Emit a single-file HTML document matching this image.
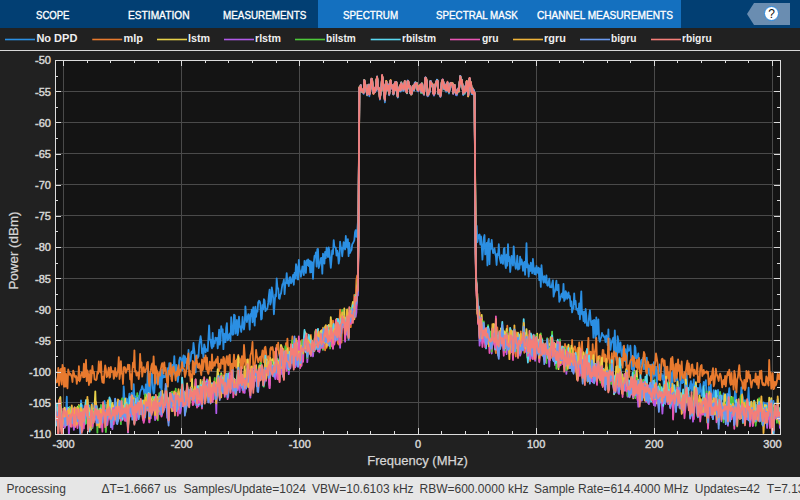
<!DOCTYPE html>
<html><head><meta charset="utf-8"><style>
html,body{margin:0;padding:0;width:800px;height:500px;overflow:hidden;background:#212121;font-family:"Liberation Sans",sans-serif;}
#tb{position:absolute;left:0;top:0;width:800px;height:28px;background:#023F73;}
#act{position:absolute;left:318px;top:0;width:363px;height:28px;background:#1470BF;}
.t{position:absolute;white-space:nowrap;}
#leg{position:absolute;left:0;top:28px;width:800px;height:22px;background:#212121;}
#sep{position:absolute;left:0;top:50px;width:800px;height:1px;background:#d8d8d8;}
.ll{position:absolute;top:10.5px;width:30px;height:2px;}

.yl{position:absolute;left:0;width:51px;text-align:right;color:#d6d6d6;font-size:11px;line-height:11px;-webkit-text-stroke:0.45px #d6d6d6;}
.xl{position:absolute;top:439px;width:60px;text-align:center;color:#d6d6d6;font-size:11px;line-height:11px;-webkit-text-stroke:0.45px #d6d6d6;}
#xt{position:absolute;left:367.3px;top:454px;white-space:nowrap;color:#d6d6d6;font-size:13px;line-height:13px;-webkit-text-stroke:0.25px #d6d6d6;}
#yt{position:absolute;left:-42px;top:243.5px;width:110px;text-align:center;color:#d6d6d6;font-size:13.4px;line-height:13px;transform:rotate(-90deg);-webkit-text-stroke:0.25px #d6d6d6;}
#sb{position:absolute;left:0;top:477px;width:800px;height:23px;background:#e6e6e6;}

svg{position:absolute;left:0;top:0;}
</style></head><body>
<div id="tb"><div id="act"></div><div class="t" style="left:36.03px;top:10.00px;font-size:11px;line-height:11px;font-weight:400;color:#ffffff;transform:scaleX(0.87);transform-origin:0 0;-webkit-text-stroke:0.35px #fff;">SCOPE</div><div class="t" style="left:127.87px;top:10.00px;font-size:11px;line-height:11px;font-weight:400;color:#ffffff;transform:scaleX(0.926);transform-origin:0 0;-webkit-text-stroke:0.35px #fff;">ESTIMATION</div><div class="t" style="left:222.85px;top:10.00px;font-size:11px;line-height:11px;font-weight:400;color:#ffffff;transform:scaleX(0.897);transform-origin:0 0;-webkit-text-stroke:0.35px #fff;">MEASUREMENTS</div><div class="t" style="left:343.31px;top:10.00px;font-size:11px;line-height:11px;font-weight:400;color:#ffffff;transform:scaleX(0.893);transform-origin:0 0;-webkit-text-stroke:0.35px #fff;">SPECTRUM</div><div class="t" style="left:435.61px;top:10.00px;font-size:11px;line-height:11px;font-weight:400;color:#ffffff;transform:scaleX(0.89);transform-origin:0 0;-webkit-text-stroke:0.35px #fff;">SPECTRAL MASK</div><div class="t" style="left:537.08px;top:10.00px;font-size:11px;line-height:11px;font-weight:400;color:#ffffff;transform:scaleX(0.918);transform-origin:0 0;-webkit-text-stroke:0.35px #fff;">CHANNEL MEASUREMENTS</div>
<svg width="800" height="28" style="position:absolute;left:0;top:0"><polygon points="747,14 754,3 790,3 790,25 754,25" fill="#6A8DB1"/><circle cx="771.5" cy="13.5" r="7" fill="#fff" stroke="#2A8AE0" stroke-width="1"/><text x="771.5" y="18" font-family="Liberation Sans" font-size="12" text-anchor="middle" fill="#111">?</text></svg>
</div>
<div id="leg"><svg width="800" height="22" style="position:absolute;left:0;top:0"><line x1="5" y1="11.5" x2="35" y2="11.5" stroke="#2B8FE3" stroke-width="1.6"/></svg><div class="t" style="left:36.40px;top:5.30px;font-size:11px;line-height:11px;font-weight:700;color:#efefef;">No DPD</div><svg width="800" height="22" style="position:absolute;left:0;top:0"><line x1="92.25" y1="11.5" x2="122.25" y2="11.5" stroke="#E87A2E" stroke-width="1.6"/></svg><div class="t" style="left:123.40px;top:5.30px;font-size:11px;line-height:11px;font-weight:700;color:#efefef;">mlp</div><svg width="800" height="22" style="position:absolute;left:0;top:0"><line x1="157" y1="11.5" x2="187" y2="11.5" stroke="#E8D24A" stroke-width="1.6"/></svg><div class="t" style="left:187.92px;top:5.30px;font-size:11px;line-height:11px;font-weight:700;color:#efefef;transform:scaleX(0.979);transform-origin:0 0;">lstm</div><svg width="800" height="22" style="position:absolute;left:0;top:0"><line x1="224" y1="11.5" x2="254" y2="11.5" stroke="#B05AE8" stroke-width="1.6"/></svg><div class="t" style="left:255.23px;top:5.30px;font-size:11px;line-height:11px;font-weight:700;color:#efefef;transform:scaleX(0.968);transform-origin:0 0;">rlstm</div><svg width="800" height="22" style="position:absolute;left:0;top:0"><line x1="295" y1="11.5" x2="325" y2="11.5" stroke="#4EC83A" stroke-width="1.6"/></svg><div class="t" style="left:326.48px;top:5.30px;font-size:11px;line-height:11px;font-weight:700;color:#efefef;transform:scaleX(0.919);transform-origin:0 0;">bilstm</div><svg width="800" height="22" style="position:absolute;left:0;top:0"><line x1="370.7" y1="11.5" x2="400.7" y2="11.5" stroke="#5AD8F0" stroke-width="1.6"/></svg><div class="t" style="left:402.07px;top:5.30px;font-size:11px;line-height:11px;font-weight:700;color:#efefef;transform:scaleX(0.926);transform-origin:0 0;">rbilstm</div><svg width="800" height="22" style="position:absolute;left:0;top:0"><line x1="450" y1="11.5" x2="480" y2="11.5" stroke="#E855B4" stroke-width="1.6"/></svg><div class="t" style="left:482.20px;top:5.30px;font-size:11px;line-height:11px;font-weight:700;color:#efefef;transform:scaleX(0.941);transform-origin:0 0;">gru</div><svg width="800" height="22" style="position:absolute;left:0;top:0"><line x1="513" y1="11.5" x2="543" y2="11.5" stroke="#F0B43A" stroke-width="1.6"/></svg><div class="t" style="left:544.21px;top:5.30px;font-size:11px;line-height:11px;font-weight:700;color:#efefef;transform:scaleX(0.99);transform-origin:0 0;">rgru</div><svg width="800" height="22" style="position:absolute;left:0;top:0"><line x1="580" y1="11.5" x2="610" y2="11.5" stroke="#6A9AF0" stroke-width="1.6"/></svg><div class="t" style="left:611.28px;top:5.30px;font-size:11px;line-height:11px;font-weight:700;color:#efefef;transform:scaleX(0.923);transform-origin:0 0;">bigru</div><svg width="800" height="22" style="position:absolute;left:0;top:0"><line x1="651" y1="11.5" x2="681" y2="11.5" stroke="#F47E78" stroke-width="1.6"/></svg><div class="t" style="left:682.27px;top:5.30px;font-size:11px;line-height:11px;font-weight:700;color:#efefef;transform:scaleX(0.933);transform-origin:0 0;">rbigru</div></div>
<div id="sep"></div>
<svg width="800" height="500" style="top:0">
<rect x="55" y="60" width="725" height="374" fill="#141414"/>
<g stroke="#4a4a4a" stroke-width="1"><line x1="63.5" y1="60" x2="63.5" y2="434"/><line x1="181.5" y1="60" x2="181.5" y2="434"/><line x1="299.5" y1="60" x2="299.5" y2="434"/><line x1="418.5" y1="60" x2="418.5" y2="434"/><line x1="536.5" y1="60" x2="536.5" y2="434"/><line x1="654.5" y1="60" x2="654.5" y2="434"/><line x1="772.5" y1="60" x2="772.5" y2="434"/><line x1="55" y1="91.5" x2="780" y2="91.5"/><line x1="55" y1="122.5" x2="780" y2="122.5"/><line x1="55" y1="153.5" x2="780" y2="153.5"/><line x1="55" y1="184.5" x2="780" y2="184.5"/><line x1="55" y1="215.5" x2="780" y2="215.5"/><line x1="55" y1="247.5" x2="780" y2="247.5"/><line x1="55" y1="278.5" x2="780" y2="278.5"/><line x1="55" y1="309.5" x2="780" y2="309.5"/><line x1="55" y1="340.5" x2="780" y2="340.5"/><line x1="55" y1="371.5" x2="780" y2="371.5"/><line x1="55" y1="402.5" x2="780" y2="402.5"/></g>
<clipPath id="cp"><rect x="56" y="61" width="724" height="373"/></clipPath>
<g clip-path="url(#cp)" fill="none" stroke-width="1.8" stroke-linejoin="round"><path d="M54.0,413.5L54.7,414.0L55.4,420.4L56.1,408.4L56.8,422.0L57.6,423.2L58.3,412.6L59.0,413.1L59.7,413.2L60.4,416.4L61.1,413.7L61.8,418.8L62.5,427.1L63.3,411.6L64.0,421.1L64.7,416.2L65.4,410.4L66.1,412.9L66.8,396.7L67.5,424.4L68.2,421.0L68.9,414.5L69.7,406.8L70.4,416.9L71.1,424.0L71.8,407.0L72.5,419.7L73.2,415.8L73.9,408.3L74.6,417.2L75.3,415.5L76.1,409.2L76.8,413.4L77.5,411.9L78.2,420.0L78.9,414.7L79.6,421.3L80.3,423.1L81.0,400.4L81.8,407.3L82.5,405.5L83.2,417.8L83.9,411.9L84.6,414.3L85.3,422.7L86.0,410.0L86.7,416.3L87.4,413.4L88.2,421.7L88.9,405.3L89.6,405.9L90.3,410.0L91.0,418.1L91.7,416.2L92.4,404.0L93.1,413.6L93.9,410.2L94.6,410.1L95.3,417.1L96.0,402.5L96.7,423.9L97.4,409.9L98.1,411.9L98.8,421.8L99.5,409.4L100.3,408.5L101.0,411.8L101.7,418.5L102.4,410.4L103.1,405.1L103.8,410.3L104.5,400.9L105.2,405.8L105.9,407.1L106.7,405.0L107.4,418.2L108.1,417.0L108.8,409.2L109.5,406.6L110.2,399.0L110.9,401.1L111.6,406.7L112.4,407.1L113.1,410.6L113.8,410.7L114.5,409.7L115.2,399.0L115.9,406.7L116.6,405.8L117.3,402.4L118.0,406.5L118.8,405.2L119.5,418.0L120.2,401.6L120.9,404.5L121.6,400.4L122.3,400.1L123.0,413.0L123.7,386.3L124.5,400.2L125.2,402.8L125.9,414.5L126.6,398.5L127.3,399.3L128.0,405.1L128.7,399.4L129.4,393.6L130.1,404.2L130.9,408.1L131.6,393.0L132.3,398.4L133.0,400.3L133.7,384.2L134.4,396.1L135.1,398.9L135.8,396.5L136.5,399.5L137.3,395.4L138.0,395.9L138.7,399.7L139.4,396.7L140.1,391.9L140.8,390.2L141.5,388.8L142.2,386.0L143.0,389.1L143.7,389.5L144.4,394.3L145.1,393.1L145.8,384.3L146.5,402.1L147.2,386.2L147.9,368.7L148.6,398.2L149.4,379.0L150.1,396.9L150.8,382.9L151.5,373.4L152.2,374.2L152.9,389.0L153.6,393.6L154.3,392.7L155.1,379.1L155.8,383.7L156.5,380.6L157.2,376.0L157.9,375.2L158.6,374.5L159.3,378.4L160.0,387.6L160.7,369.5L161.5,393.7L162.2,369.1L162.9,377.8L163.6,375.9L164.3,377.1L165.0,377.0L165.7,373.5L166.4,376.0L167.1,379.9L167.9,368.1L168.6,374.8L169.3,363.1L170.0,372.9L170.7,376.0L171.4,367.4L172.1,364.8L172.8,374.9L173.6,368.9L174.3,356.1L175.0,371.3L175.7,371.4L176.4,364.8L177.1,373.6L177.8,381.8L178.5,375.9L179.2,360.7L180.0,357.4L180.7,358.2L181.4,359.9L182.1,370.3L182.8,359.0L183.5,355.4L184.2,366.8L184.9,356.1L185.7,362.8L186.4,358.7L187.1,358.5L187.8,368.8L188.5,349.9L189.2,364.2L189.9,359.8L190.6,360.8L191.3,352.3L192.1,351.2L192.8,353.2L193.5,342.8L194.2,349.6L194.9,356.2L195.6,372.4L196.3,356.4L197.0,355.2L197.7,358.2L198.5,356.4L199.2,344.8L199.9,340.5L200.6,336.1L201.3,341.2L202.0,353.3L202.7,348.6L203.4,357.5L204.2,344.3L204.9,346.7L205.6,352.4L206.3,349.1L207.0,350.1L207.7,351.1L208.4,338.4L209.1,325.5L209.8,339.6L210.6,339.7L211.3,346.0L212.0,348.3L212.7,332.9L213.4,346.6L214.1,341.0L214.8,343.4L215.5,337.7L216.3,340.4L217.0,337.9L217.7,348.4L218.4,340.8L219.1,329.7L219.8,344.6L220.5,340.9L221.2,326.2L221.9,330.8L222.7,329.4L223.4,349.1L224.1,333.7L224.8,341.8L225.5,342.1L226.2,327.6L226.9,323.2L227.6,340.3L228.3,339.3L229.1,334.7L229.8,333.5L230.5,341.0L231.2,317.2L231.9,326.3L232.6,334.8L233.3,334.4L234.0,314.7L234.8,315.5L235.5,333.6L236.2,327.0L236.9,320.0L237.6,335.2L238.3,331.4L239.0,316.7L239.7,326.9L240.4,326.1L241.2,332.0L241.9,326.7L242.6,317.0L243.3,326.7L244.0,329.5L244.7,323.5L245.4,306.4L246.1,316.7L246.9,322.1L247.6,317.0L248.3,314.1L249.0,317.9L249.7,329.6L250.4,314.2L251.1,315.8L251.8,309.6L252.5,322.3L253.3,307.1L254.0,317.1L254.7,325.7L255.4,306.6L256.1,316.9L256.8,310.3L257.5,311.8L258.2,302.4L259.0,300.8L259.7,301.4L260.4,304.3L261.1,319.5L261.8,318.7L262.5,305.2L263.2,309.5L263.9,299.2L264.6,300.5L265.4,311.1L266.1,309.2L266.8,309.6L267.5,307.9L268.2,302.9L268.9,295.3L269.6,289.6L270.3,304.5L271.0,301.9L271.8,287.3L272.5,292.0L273.2,298.0L273.9,314.3L274.6,303.8L275.3,294.5L276.0,296.5L276.7,278.3L277.5,288.3L278.2,288.2L278.9,298.3L279.6,298.9L280.3,294.8L281.0,293.5L281.7,288.8L282.4,284.4L283.1,283.6L283.9,279.7L284.6,294.1L285.3,284.5L286.0,282.4L286.7,273.1L287.4,283.3L288.1,280.3L288.8,286.1L289.6,277.5L290.3,277.2L291.0,283.4L291.7,282.1L292.4,279.1L293.1,274.8L293.8,284.8L294.5,273.0L295.2,278.6L296.0,264.2L296.7,266.5L297.4,279.1L298.1,279.6L298.8,259.8L299.5,269.3L300.2,271.5L300.9,276.8L301.6,272.9L302.4,266.4L303.1,267.7L303.8,275.1L304.5,260.9L305.2,266.1L305.9,273.0L306.6,260.5L307.3,265.2L308.1,259.3L308.8,266.1L309.5,260.6L310.2,272.5L310.9,261.4L311.6,272.2L312.3,262.4L313.0,278.8L313.7,263.6L314.5,255.8L315.2,256.6L315.9,252.4L316.6,266.5L317.3,249.3L318.0,248.9L318.7,268.0L319.4,265.8L320.2,262.5L320.9,258.0L321.6,257.8L322.3,273.6L323.0,253.6L323.7,258.3L324.4,263.7L325.1,251.8L325.8,258.1L326.6,247.7L327.3,252.1L328.0,257.2L328.7,247.4L329.4,250.9L330.1,260.2L330.8,267.8L331.5,259.7L332.2,250.4L333.0,254.0L333.7,240.1L334.4,247.2L335.1,247.3L335.8,247.5L336.5,255.6L337.2,250.6L337.9,253.7L338.7,263.7L339.4,259.1L340.1,241.7L340.8,247.5L341.5,247.7L342.2,256.3L342.9,250.2L343.6,242.2L344.3,246.4L345.1,249.5L345.8,236.0L346.5,245.3L347.2,247.5L347.9,239.2L348.6,256.2L349.3,243.0L350.0,253.0L350.8,251.1L351.5,250.1L352.2,244.4L352.9,243.2L353.6,241.9L354.3,240.4L355.0,232.3L355.7,230.1L356.4,236.8L357.2,232.1L357.9,222.0L358.6,206.4L359.3,90.2L360.0,92.5L360.7,86.8L361.4,90.4L362.1,92.2L362.8,92.4L363.6,93.9L364.3,82.2L365.0,82.9L365.7,89.2L366.4,90.3L367.1,95.5L367.8,90.1L368.5,86.5L369.3,96.3L370.0,92.6L370.7,85.4L371.4,80.3L372.1,81.0L372.8,91.4L373.5,92.9L374.2,90.3L374.9,92.2L375.7,91.3L376.4,82.3L377.1,78.9L377.8,86.3L378.5,90.5L379.2,90.0L379.9,99.6L380.6,93.9L381.4,91.1L382.1,76.5L382.8,81.4L383.5,87.5L384.2,92.8L384.9,102.4L385.6,87.7L386.3,81.9L387.0,90.6L387.8,86.6L388.5,86.6L389.2,95.3L389.9,85.5L390.6,82.9L391.3,87.0L392.0,88.7L392.7,87.2L393.4,94.6L394.2,88.5L394.9,83.8L395.6,90.4L396.3,82.9L397.0,90.9L397.7,97.6L398.4,91.1L399.1,91.0L399.9,86.5L400.6,91.7L401.3,83.3L402.0,89.6L402.7,87.4L403.4,91.0L404.1,89.5L404.8,82.8L405.5,87.0L406.3,91.6L407.0,93.4L407.7,83.2L408.4,83.8L409.1,88.6L409.8,87.6L410.5,93.3L411.2,94.2L412.0,93.9L412.7,88.2L413.4,87.4L414.1,90.6L414.8,84.8L415.5,84.6L416.2,86.7L416.9,84.8L417.6,91.3L418.4,91.0L419.1,87.0L419.8,88.9L420.5,86.5L421.2,93.2L421.9,84.4L422.6,92.3L423.3,93.7L424.0,94.8L424.8,85.9L425.5,78.4L426.2,79.7L426.9,85.0L427.6,96.3L428.3,95.8L429.0,94.4L429.7,92.0L430.5,82.5L431.2,84.2L431.9,85.6L432.6,85.8L433.3,93.6L434.0,95.7L434.7,93.7L435.4,86.1L436.1,84.3L436.9,82.4L437.6,81.8L438.3,94.3L439.0,92.7L439.7,91.9L440.4,97.2L441.1,93.3L441.8,83.8L442.6,81.2L443.3,83.4L444.0,89.4L444.7,89.1L445.4,85.9L446.1,91.9L446.8,88.6L447.5,83.8L448.2,91.0L449.0,93.5L449.7,88.6L450.4,85.6L451.1,84.8L451.8,84.0L452.5,86.1L453.2,93.9L453.9,91.0L454.6,86.4L455.4,91.5L456.1,95.2L456.8,95.4L457.5,92.9L458.2,89.8L458.9,91.9L459.6,84.2L460.3,77.7L461.1,84.0L461.8,81.9L462.5,87.3L463.2,95.1L463.9,93.2L464.6,94.1L465.3,89.2L466.0,91.8L466.7,82.2L467.5,84.5L468.2,96.2L468.9,83.5L469.6,79.7L470.3,88.1L471.0,84.2L471.7,94.1L472.4,90.2L473.2,94.5L473.9,92.8L474.6,94.3L475.3,203.8L476.0,228.9L476.7,225.9L477.4,242.0L478.1,238.4L478.8,235.0L479.6,234.5L480.3,244.5L481.0,236.4L481.7,245.7L482.4,259.6L483.1,249.5L483.8,237.7L484.5,235.0L485.2,254.4L486.0,252.5L486.7,243.0L487.4,265.4L488.1,241.7L488.8,238.8L489.5,264.2L490.2,243.7L490.9,248.9L491.7,239.9L492.4,248.6L493.1,253.2L493.8,250.8L494.5,248.4L495.2,253.5L495.9,256.3L496.6,265.0L497.3,253.6L498.1,255.1L498.8,244.2L499.5,256.8L500.2,260.0L500.9,263.0L501.6,255.1L502.3,261.5L503.0,263.9L503.8,249.0L504.5,248.0L505.2,264.3L505.9,268.1L506.6,254.7L507.3,265.7L508.0,244.2L508.7,261.0L509.4,257.0L510.2,272.0L510.9,264.7L511.6,255.9L512.3,260.7L513.0,265.5L513.7,246.3L514.4,256.6L515.1,265.0L515.8,268.8L516.6,265.4L517.3,255.7L518.0,269.6L518.7,264.5L519.4,268.8L520.1,256.7L520.8,264.6L521.5,259.4L522.3,262.9L523.0,270.9L523.7,263.1L524.4,261.9L525.1,274.8L525.8,261.6L526.5,243.2L527.2,267.4L527.9,264.2L528.7,276.6L529.4,265.6L530.1,271.2L530.8,262.7L531.5,266.0L532.2,273.3L532.9,258.9L533.6,267.8L534.4,274.1L535.1,268.2L535.8,274.6L536.5,266.0L537.2,270.7L537.9,272.9L538.6,267.7L539.3,280.2L540.0,268.6L540.8,286.9L541.5,265.2L542.2,274.5L542.9,279.4L543.6,282.6L544.3,276.1L545.0,281.2L545.7,282.7L546.4,275.3L547.2,285.3L547.9,285.8L548.6,282.7L549.3,278.7L550.0,287.3L550.7,286.8L551.4,287.4L552.1,283.8L552.9,280.3L553.6,296.6L554.3,292.9L555.0,291.3L555.7,286.2L556.4,280.6L557.1,290.4L557.8,289.0L558.5,284.7L559.3,301.8L560.0,299.9L560.7,297.2L561.4,294.1L562.1,293.5L562.8,297.6L563.5,283.9L564.2,300.9L565.0,299.1L565.7,291.2L566.4,293.1L567.1,298.8L567.8,296.1L568.5,292.4L569.2,298.0L569.9,296.2L570.6,306.0L571.4,301.4L572.1,312.4L572.8,308.7L573.5,308.6L574.2,293.4L574.9,304.2L575.6,301.0L576.3,309.8L577.0,308.5L577.8,310.0L578.5,314.2L579.2,303.4L579.9,319.3L580.6,303.4L581.3,291.4L582.0,314.4L582.7,311.3L583.5,321.2L584.2,312.0L584.9,322.9L585.6,309.0L586.3,315.4L587.0,325.7L587.7,323.3L588.4,325.8L589.1,316.0L589.9,310.1L590.6,319.3L591.3,325.2L592.0,325.1L592.7,320.7L593.4,337.7L594.1,319.9L594.8,320.6L595.6,338.5L596.3,317.3L597.0,334.7L597.7,326.4L598.4,319.3L599.1,338.6L599.8,341.7L600.5,338.7L601.2,337.4L602.0,332.9L602.7,335.7L603.4,335.3L604.1,337.3L604.8,336.8L605.5,342.2L606.2,335.4L606.9,338.5L607.7,345.3L608.4,329.3L609.1,349.7L609.8,338.9L610.5,349.9L611.2,343.7L611.9,341.9L612.6,339.5L613.3,337.7L614.1,353.1L614.8,330.4L615.5,347.4L616.2,358.9L616.9,361.5L617.6,336.2L618.3,339.7L619.0,352.5L619.7,346.6L620.5,342.5L621.2,352.1L621.9,356.4L622.6,352.2L623.3,346.4L624.0,352.9L624.7,361.0L625.4,349.2L626.2,365.6L626.9,359.7L627.6,345.2L628.3,350.9L629.0,350.3L629.7,350.5L630.4,345.7L631.1,355.8L631.8,369.0L632.6,356.5L633.3,378.1L634.0,371.5L634.7,345.7L635.4,347.6L636.1,358.3L636.8,358.0L637.5,356.8L638.3,353.4L639.0,367.4L639.7,368.2L640.4,365.8L641.1,360.5L641.8,359.6L642.5,364.5L643.2,357.7L643.9,369.2L644.7,365.0L645.4,369.3L646.1,371.3L646.8,357.7L647.5,368.8L648.2,373.5L648.9,368.2L649.6,375.5L650.3,365.7L651.1,364.6L651.8,365.2L652.5,379.2L653.2,374.5L653.9,362.1L654.6,375.8L655.3,367.5L656.0,366.6L656.8,385.1L657.5,370.1L658.2,371.8L658.9,370.2L659.6,364.5L660.3,373.2L661.0,375.6L661.7,373.8L662.4,379.5L663.2,375.6L663.9,390.2L664.6,366.1L665.3,378.1L666.0,372.0L666.7,373.6L667.4,375.1L668.1,374.8L668.9,378.5L669.6,390.1L670.3,383.8L671.0,372.4L671.7,387.2L672.4,387.6L673.1,366.5L673.8,371.1L674.5,370.4L675.3,381.2L676.0,378.8L676.7,376.9L677.4,379.1L678.1,383.6L678.8,392.8L679.5,388.5L680.2,392.1L680.9,372.0L681.7,382.9L682.4,383.1L683.1,380.0L683.8,382.1L684.5,379.7L685.2,388.7L685.9,393.3L686.6,373.3L687.4,388.3L688.1,388.4L688.8,390.3L689.5,388.9L690.2,384.4L690.9,381.1L691.6,392.2L692.3,384.3L693.0,389.7L693.8,379.4L694.5,394.6L695.2,386.5L695.9,383.1L696.6,397.2L697.3,388.1L698.0,388.0L698.7,394.1L699.5,391.5L700.2,384.0L700.9,389.3L701.6,395.9L702.3,394.0L703.0,388.1L703.7,381.8L704.4,385.3L705.1,384.1L705.9,380.2L706.6,402.0L707.3,403.3L708.0,406.7L708.7,387.0L709.4,405.5L710.1,390.4L710.8,384.5L711.5,399.9L712.3,397.2L713.0,395.1L713.7,390.1L714.4,405.6L715.1,394.3L715.8,390.8L716.5,395.7L717.2,395.9L718.0,389.8L718.7,396.5L719.4,400.5L720.1,402.0L720.8,395.8L721.5,401.4L722.2,396.1L722.9,398.9L723.6,393.5L724.4,406.4L725.1,402.9L725.8,400.8L726.5,399.4L727.2,393.9L727.9,398.6L728.6,394.4L729.3,388.1L730.1,396.4L730.8,411.1L731.5,414.0L732.2,399.4L732.9,405.0L733.6,400.6L734.3,401.0L735.0,391.1L735.7,393.1L736.5,409.6L737.2,402.9L737.9,407.8L738.6,414.6L739.3,402.2L740.0,405.0L740.7,400.4L741.4,387.4L742.1,394.3L742.9,397.5L743.6,409.5L744.3,415.4L745.0,400.2L745.7,408.9L746.4,406.6L747.1,408.4L747.8,402.9L748.6,387.7L749.3,405.4L750.0,405.9L750.7,402.3L751.4,401.9L752.1,412.1L752.8,416.0L753.5,406.7L754.2,403.2L755.0,407.0L755.7,409.0L756.4,408.4L757.1,404.6L757.8,404.2L758.5,414.3L759.2,407.9L759.9,401.3L760.7,405.8L761.4,414.4L762.1,408.6L762.8,406.0L763.5,402.3L764.2,417.0L764.9,403.2L765.6,409.9L766.3,406.4L767.1,403.2L767.8,413.3L768.5,413.4L769.2,409.7L769.9,404.0L770.6,412.8L771.3,419.0L772.0,413.7L772.7,405.6L773.5,401.0L774.2,412.2L774.9,411.7L775.6,411.1L776.3,411.6L777.0,417.0L777.7,413.2L778.4,407.7L779.2,407.9L779.9,409.5L780.6,416.6L781.3,414.6L782.0,415.8" stroke="#2B8FE3"/><path d="M54.0,385.5L54.7,372.1L55.4,378.4L56.1,382.0L56.8,382.3L57.6,380.3L58.3,367.9L59.0,385.5L59.7,381.2L60.4,369.8L61.1,368.7L61.8,384.5L62.5,364.9L63.3,369.5L64.0,386.7L64.7,367.8L65.4,386.5L66.1,373.8L66.8,385.8L67.5,388.3L68.2,369.5L68.9,372.1L69.7,374.8L70.4,373.8L71.1,375.1L71.8,377.2L72.5,382.0L73.2,370.6L73.9,372.9L74.6,375.8L75.3,377.4L76.1,376.0L76.8,383.9L77.5,377.5L78.2,380.1L78.9,366.2L79.6,381.3L80.3,379.2L81.0,375.7L81.8,372.4L82.5,374.4L83.2,377.4L83.9,363.6L84.6,377.0L85.3,374.3L86.0,359.8L86.7,381.2L87.4,370.3L88.2,374.1L88.9,385.0L89.6,380.3L90.3,370.4L91.0,382.7L91.7,374.5L92.4,366.0L93.1,373.2L93.9,371.7L94.6,379.3L95.3,379.5L96.0,380.2L96.7,379.1L97.4,371.9L98.1,373.6L98.8,361.5L99.5,370.2L100.3,372.3L101.0,361.3L101.7,377.4L102.4,382.5L103.1,376.7L103.8,383.0L104.5,372.2L105.2,365.3L105.9,369.0L106.7,377.1L107.4,376.0L108.1,371.3L108.8,367.7L109.5,377.6L110.2,376.8L110.9,367.0L111.6,372.1L112.4,371.5L113.1,371.0L113.8,378.9L114.5,376.0L115.2,367.8L115.9,375.0L116.6,376.5L117.3,372.9L118.0,370.5L118.8,357.1L119.5,379.0L120.2,373.1L120.9,361.2L121.6,373.6L122.3,373.4L123.0,384.0L123.7,367.4L124.5,367.0L125.2,368.1L125.9,372.9L126.6,369.3L127.3,369.7L128.0,364.6L128.7,369.4L129.4,365.0L130.1,379.3L130.9,374.5L131.6,389.3L132.3,370.8L133.0,362.6L133.7,367.2L134.4,350.4L135.1,371.7L135.8,370.8L136.5,375.7L137.3,373.6L138.0,372.6L138.7,379.1L139.4,373.4L140.1,353.9L140.8,367.4L141.5,362.4L142.2,376.6L143.0,370.4L143.7,367.2L144.4,371.8L145.1,372.3L145.8,370.0L146.5,367.5L147.2,362.7L147.9,361.9L148.6,379.2L149.4,386.0L150.1,373.9L150.8,370.4L151.5,365.6L152.2,363.5L152.9,373.3L153.6,356.4L154.3,369.6L155.1,383.4L155.8,366.1L156.5,369.3L157.2,371.0L157.9,384.5L158.6,376.2L159.3,372.4L160.0,375.7L160.7,369.6L161.5,365.3L162.2,363.1L162.9,365.8L163.6,373.6L164.3,362.3L165.0,370.7L165.7,367.8L166.4,375.5L167.1,382.9L167.9,386.6L168.6,370.7L169.3,374.2L170.0,369.2L170.7,363.2L171.4,378.9L172.1,381.2L172.8,368.0L173.6,366.5L174.3,371.7L175.0,374.0L175.7,380.3L176.4,371.7L177.1,376.0L177.8,368.5L178.5,365.2L179.2,375.2L180.0,370.1L180.7,371.3L181.4,367.3L182.1,362.2L182.8,368.0L183.5,368.3L184.2,369.7L184.9,377.0L185.7,374.1L186.4,369.3L187.1,361.4L187.8,358.4L188.5,353.5L189.2,375.5L189.9,370.7L190.6,381.1L191.3,374.6L192.1,380.0L192.8,360.9L193.5,361.9L194.2,374.4L194.9,365.7L195.6,362.5L196.3,355.8L197.0,362.0L197.7,367.3L198.5,367.9L199.2,363.5L199.9,365.8L200.6,371.3L201.3,375.0L202.0,359.4L202.7,370.2L203.4,366.6L204.2,358.0L204.9,361.7L205.6,355.5L206.3,369.5L207.0,357.7L207.7,372.1L208.4,373.8L209.1,369.5L209.8,361.7L210.6,366.1L211.3,370.6L212.0,354.3L212.7,368.0L213.4,364.6L214.1,362.2L214.8,365.9L215.5,360.8L216.3,359.1L217.0,362.9L217.7,356.7L218.4,367.4L219.1,371.0L219.8,363.6L220.5,368.4L221.2,359.3L221.9,362.0L222.7,363.9L223.4,356.8L224.1,358.5L224.8,381.2L225.5,365.4L226.2,359.1L226.9,356.1L227.6,363.1L228.3,365.3L229.1,355.9L229.8,354.8L230.5,372.9L231.2,369.9L231.9,363.7L232.6,376.4L233.3,363.9L234.0,354.6L234.8,366.0L235.5,361.0L236.2,367.8L236.9,359.4L237.6,358.8L238.3,354.9L239.0,362.3L239.7,358.3L240.4,363.1L241.2,368.3L241.9,356.2L242.6,368.1L243.3,361.6L244.0,345.0L244.7,354.9L245.4,365.7L246.1,359.6L246.9,363.9L247.6,363.0L248.3,372.0L249.0,359.5L249.7,368.2L250.4,355.4L251.1,353.4L251.8,349.8L252.5,342.0L253.3,368.2L254.0,366.4L254.7,364.7L255.4,360.1L256.1,349.9L256.8,356.2L257.5,357.6L258.2,362.2L259.0,359.7L259.7,357.7L260.4,356.6L261.1,364.8L261.8,355.9L262.5,350.3L263.2,352.0L263.9,362.2L264.6,348.2L265.4,346.7L266.1,352.2L266.8,363.8L267.5,365.5L268.2,356.2L268.9,363.8L269.6,364.2L270.3,348.8L271.0,347.3L271.8,349.6L272.5,347.0L273.2,350.9L273.9,365.5L274.6,351.9L275.3,356.6L276.0,353.2L276.7,345.0L277.5,349.7L278.2,342.6L278.9,353.1L279.6,356.1L280.3,356.6L281.0,352.1L281.7,360.8L282.4,349.4L283.1,348.8L283.9,352.1L284.6,364.3L285.3,362.5L286.0,343.1L286.7,352.3L287.4,338.6L288.1,352.0L288.8,347.6L289.6,359.5L290.3,355.7L291.0,351.3L291.7,344.7L292.4,336.5L293.1,343.3L293.8,359.4L294.5,352.0L295.2,353.6L296.0,355.8L296.7,347.4L297.4,340.8L298.1,353.1L298.8,344.7L299.5,343.4L300.2,359.4L300.9,341.5L301.6,340.3L302.4,348.3L303.1,339.9L303.8,347.6L304.5,340.8L305.2,344.4L305.9,352.7L306.6,345.3L307.3,346.3L308.1,348.0L308.8,351.8L309.5,348.3L310.2,349.6L310.9,335.0L311.6,354.3L312.3,342.2L313.0,346.5L313.7,350.6L314.5,338.8L315.2,348.1L315.9,334.9L316.6,344.0L317.3,342.3L318.0,344.8L318.7,340.8L319.4,338.5L320.2,347.5L320.9,342.2L321.6,330.0L322.3,342.3L323.0,327.6L323.7,341.2L324.4,343.4L325.1,350.3L325.8,344.6L326.6,347.9L327.3,338.3L328.0,327.3L328.7,332.8L329.4,337.5L330.1,340.7L330.8,339.6L331.5,346.1L332.2,343.0L333.0,320.6L333.7,330.2L334.4,337.4L335.1,327.6L335.8,324.1L336.5,338.3L337.2,336.0L337.9,343.3L338.7,344.6L339.4,323.3L340.1,309.6L340.8,336.2L341.5,342.7L342.2,321.8L342.9,322.6L343.6,326.5L344.3,319.2L345.1,328.3L345.8,324.3L346.5,319.9L347.2,325.1L347.9,318.3L348.6,320.5L349.3,313.7L350.0,316.1L350.8,327.1L351.5,311.6L352.2,318.9L352.9,313.8L353.6,315.0L354.3,294.9L355.0,299.1L355.7,297.6L356.4,279.9L357.2,275.5L357.9,274.9L358.6,235.5L359.3,87.5L360.0,91.1L360.7,85.6L361.4,89.2L362.1,91.4L362.8,89.9L363.6,92.9L364.3,80.0L365.0,82.6L365.7,88.7L366.4,90.1L367.1,94.3L367.8,88.9L368.5,85.6L369.3,93.3L370.0,90.3L370.7,85.3L371.4,78.4L372.1,80.4L372.8,89.5L373.5,94.2L374.2,87.5L374.9,91.5L375.7,89.7L376.4,80.7L377.1,77.7L377.8,84.6L378.5,89.0L379.2,88.8L379.9,98.3L380.6,92.6L381.4,90.1L382.1,75.6L382.8,80.4L383.5,86.4L384.2,92.1L384.9,99.9L385.6,85.5L386.3,81.5L387.0,90.1L387.8,83.6L388.5,86.6L389.2,93.9L389.9,84.6L390.6,80.1L391.3,85.4L392.0,88.4L392.7,86.4L393.4,93.4L394.2,87.0L394.9,82.5L395.6,89.3L396.3,82.7L397.0,89.3L397.7,96.3L398.4,90.0L399.1,89.9L399.9,86.5L400.6,89.0L401.3,83.5L402.0,87.2L402.7,85.7L403.4,89.1L404.1,87.8L404.8,82.6L405.5,85.8L406.3,90.3L407.0,91.8L407.7,81.0L408.4,82.2L409.1,86.6L409.8,86.9L410.5,93.0L411.2,94.5L412.0,93.0L412.7,86.9L413.4,86.2L414.1,88.3L414.8,83.5L415.5,82.9L416.2,85.9L416.9,83.6L417.6,90.2L418.4,89.1L419.1,86.5L419.8,86.6L420.5,85.2L421.2,92.1L421.9,83.6L422.6,91.1L423.3,91.7L424.0,94.2L424.8,83.9L425.5,78.2L426.2,78.6L426.9,83.6L427.6,94.7L428.3,94.3L429.0,92.5L429.7,91.5L430.5,80.9L431.2,82.9L431.9,84.7L432.6,85.0L433.3,92.7L434.0,94.7L434.7,92.9L435.4,84.6L436.1,82.8L436.9,80.1L437.6,80.4L438.3,92.8L439.0,92.2L439.7,90.1L440.4,95.9L441.1,92.2L441.8,83.8L442.6,79.4L443.3,81.8L444.0,88.0L444.7,88.8L445.4,84.6L446.1,90.0L446.8,87.2L447.5,83.2L448.2,89.9L449.0,91.7L449.7,87.0L450.4,84.3L451.1,83.3L451.8,84.4L452.5,84.1L453.2,91.6L453.9,90.7L454.6,85.4L455.4,90.3L456.1,93.3L456.8,93.5L457.5,92.0L458.2,88.7L458.9,90.1L459.6,83.1L460.3,76.4L461.1,83.4L461.8,80.4L462.5,85.9L463.2,94.3L463.9,92.0L464.6,92.8L465.3,86.7L466.0,90.3L466.7,81.1L467.5,83.8L468.2,95.0L468.9,83.0L469.6,79.1L470.3,86.2L471.0,83.3L471.7,91.4L472.4,89.3L473.2,93.4L473.9,90.9L474.6,94.1L475.3,204.0L476.0,277.6L476.7,296.3L477.4,313.1L478.1,312.0L478.8,312.2L479.6,312.3L480.3,327.4L481.0,327.4L481.7,335.1L482.4,321.7L483.1,324.6L483.8,328.4L484.5,333.6L485.2,336.1L486.0,336.4L486.7,327.9L487.4,337.5L488.1,327.5L488.8,331.7L489.5,342.1L490.2,346.1L490.9,340.7L491.7,334.3L492.4,342.2L493.1,330.0L493.8,325.6L494.5,331.7L495.2,348.8L495.9,353.2L496.6,331.7L497.3,327.3L498.1,339.8L498.8,335.5L499.5,340.7L500.2,344.9L500.9,335.6L501.6,344.8L502.3,335.0L503.0,330.9L503.8,342.1L504.5,331.2L505.2,352.0L505.9,338.0L506.6,342.0L507.3,325.7L508.0,342.1L508.7,348.1L509.4,333.4L510.2,353.5L510.9,341.4L511.6,346.3L512.3,332.7L513.0,341.4L513.7,336.1L514.4,341.6L515.1,351.5L515.8,356.5L516.6,332.4L517.3,341.1L518.0,351.2L518.7,345.8L519.4,338.1L520.1,352.7L520.8,331.3L521.5,346.4L522.3,348.3L523.0,337.9L523.7,344.8L524.4,352.8L525.1,341.0L525.8,340.6L526.5,337.2L527.2,351.8L527.9,352.6L528.7,341.9L529.4,349.7L530.1,361.0L530.8,349.3L531.5,339.8L532.2,347.9L532.9,337.0L533.6,348.1L534.4,348.2L535.1,358.4L535.8,353.6L536.5,348.2L537.2,342.6L537.9,343.7L538.6,339.7L539.3,361.0L540.0,348.5L540.8,349.8L541.5,355.4L542.2,349.8L542.9,353.8L543.6,347.1L544.3,352.5L545.0,347.8L545.7,356.2L546.4,342.7L547.2,346.4L547.9,338.8L548.6,351.5L549.3,354.7L550.0,350.5L550.7,354.6L551.4,357.8L552.1,350.0L552.9,350.3L553.6,354.5L554.3,354.2L555.0,357.0L555.7,351.0L556.4,359.6L557.1,341.0L557.8,350.9L558.5,346.5L559.3,360.9L560.0,351.6L560.7,354.1L561.4,347.3L562.1,347.4L562.8,363.6L563.5,346.7L564.2,361.9L565.0,344.0L565.7,352.9L566.4,359.3L567.1,346.2L567.8,352.1L568.5,358.8L569.2,357.8L569.9,349.9L570.6,362.4L571.4,359.4L572.1,340.0L572.8,355.7L573.5,350.4L574.2,349.1L574.9,346.3L575.6,349.5L576.3,372.0L577.0,358.2L577.8,347.8L578.5,358.7L579.2,342.5L579.9,351.8L580.6,361.2L581.3,350.2L582.0,341.6L582.7,358.1L583.5,352.4L584.2,362.0L584.9,359.6L585.6,354.0L586.3,350.9L587.0,351.0L587.7,350.5L588.4,337.9L589.1,361.8L589.9,367.7L590.6,351.6L591.3,354.0L592.0,364.9L592.7,344.2L593.4,357.9L594.1,363.7L594.8,352.0L595.6,348.2L596.3,337.9L597.0,364.1L597.7,363.0L598.4,356.8L599.1,358.4L599.8,356.0L600.5,360.7L601.2,365.5L602.0,358.2L602.7,350.0L603.4,350.1L604.1,361.5L604.8,354.4L605.5,355.3L606.2,362.6L606.9,362.0L607.7,357.8L608.4,338.3L609.1,355.6L609.8,364.5L610.5,360.4L611.2,362.2L611.9,353.2L612.6,374.2L613.3,366.2L614.1,351.5L614.8,353.4L615.5,356.5L616.2,353.1L616.9,365.5L617.6,357.3L618.3,367.3L619.0,368.3L619.7,357.7L620.5,365.6L621.2,363.1L621.9,358.1L622.6,367.7L623.3,356.1L624.0,345.7L624.7,360.1L625.4,354.0L626.2,356.4L626.9,371.1L627.6,373.2L628.3,365.4L629.0,377.2L629.7,363.9L630.4,360.9L631.1,359.4L631.8,359.7L632.6,355.9L633.3,366.1L634.0,357.4L634.7,363.1L635.4,363.6L636.1,367.0L636.8,359.9L637.5,369.8L638.3,360.5L639.0,357.9L639.7,371.3L640.4,375.1L641.1,373.8L641.8,367.7L642.5,363.9L643.2,359.6L643.9,352.0L644.7,354.4L645.4,365.1L646.1,371.5L646.8,375.2L647.5,361.2L648.2,362.3L648.9,367.0L649.6,365.1L650.3,366.1L651.1,382.7L651.8,367.9L652.5,364.3L653.2,368.0L653.9,374.4L654.6,366.3L655.3,361.7L656.0,353.3L656.8,358.2L657.5,362.9L658.2,369.4L658.9,379.6L659.6,374.9L660.3,380.3L661.0,370.0L661.7,359.4L662.4,358.6L663.2,360.3L663.9,365.9L664.6,360.3L665.3,369.2L666.0,380.5L666.7,366.8L667.4,366.6L668.1,378.7L668.9,372.5L669.6,383.3L670.3,368.8L671.0,358.3L671.7,369.7L672.4,356.9L673.1,364.8L673.8,374.0L674.5,381.5L675.3,364.8L676.0,363.6L676.7,378.0L677.4,370.5L678.1,359.4L678.8,370.6L679.5,365.2L680.2,379.9L680.9,371.9L681.7,361.5L682.4,374.9L683.1,378.2L683.8,377.8L684.5,372.1L685.2,380.7L685.9,371.2L686.6,365.1L687.4,360.7L688.1,374.4L688.8,363.4L689.5,370.5L690.2,377.7L690.9,372.6L691.6,365.0L692.3,364.4L693.0,371.3L693.8,375.8L694.5,369.7L695.2,373.1L695.9,374.0L696.6,372.3L697.3,363.0L698.0,382.2L698.7,376.8L699.5,382.2L700.2,368.8L700.9,365.9L701.6,365.0L702.3,376.0L703.0,374.4L703.7,369.8L704.4,373.5L705.1,372.6L705.9,372.1L706.6,371.3L707.3,373.7L708.0,371.8L708.7,384.9L709.4,378.7L710.1,383.5L710.8,376.1L711.5,380.2L712.3,372.1L713.0,368.2L713.7,386.3L714.4,384.1L715.1,376.4L715.8,368.7L716.5,373.5L717.2,375.9L718.0,378.3L718.7,381.0L719.4,375.5L720.1,373.6L720.8,375.7L721.5,380.5L722.2,387.3L722.9,382.6L723.6,380.0L724.4,384.4L725.1,375.8L725.8,386.3L726.5,379.1L727.2,375.0L727.9,371.9L728.6,375.2L729.3,369.6L730.1,382.4L730.8,384.9L731.5,372.8L732.2,384.0L732.9,380.7L733.6,389.7L734.3,370.9L735.0,374.3L735.7,386.2L736.5,392.3L737.2,379.1L737.9,377.3L738.6,370.7L739.3,365.2L740.0,376.0L740.7,379.7L741.4,380.4L742.1,382.0L742.9,388.8L743.6,385.4L744.3,379.9L745.0,390.1L745.7,387.8L746.4,370.9L747.1,381.7L747.8,372.9L748.6,371.2L749.3,378.5L750.0,375.0L750.7,382.6L751.4,387.6L752.1,382.8L752.8,380.4L753.5,379.8L754.2,379.8L755.0,381.9L755.7,373.5L756.4,382.4L757.1,384.7L757.8,376.4L758.5,388.2L759.2,381.4L759.9,371.1L760.7,378.5L761.4,370.7L762.1,382.5L762.8,384.9L763.5,383.2L764.2,385.4L764.9,385.2L765.6,384.9L766.3,376.4L767.1,378.4L767.8,383.1L768.5,385.6L769.2,360.0L769.9,380.2L770.6,372.7L771.3,388.7L772.0,385.6L772.7,373.2L773.5,389.1L774.2,388.2L774.9,381.6L775.6,385.6L776.3,384.1L777.0,380.5L777.7,374.0L778.4,378.7L779.2,379.2L779.9,372.8L780.6,373.2L781.3,386.8L782.0,397.9" stroke="#E87A2E"/><path d="M54.0,414.2L54.7,415.1L55.4,410.7L56.1,423.6L56.8,414.9L57.6,413.9L58.3,423.2L59.0,416.5L59.7,399.0L60.4,397.0L61.1,410.4L61.8,428.4L62.5,418.4L63.3,420.7L64.0,413.5L64.7,407.7L65.4,411.1L66.1,414.4L66.8,415.5L67.5,419.2L68.2,414.9L68.9,419.6L69.7,413.0L70.4,408.2L71.1,411.0L71.8,415.0L72.5,410.2L73.2,410.6L73.9,417.9L74.6,420.1L75.3,424.1L76.1,408.0L76.8,411.5L77.5,407.0L78.2,407.3L78.9,405.0L79.6,414.2L80.3,425.9L81.0,403.8L81.8,427.2L82.5,421.1L83.2,411.6L83.9,413.6L84.6,408.2L85.3,412.5L86.0,400.4L86.7,415.9L87.4,399.3L88.2,420.3L88.9,408.0L89.6,418.6L90.3,415.6L91.0,429.8L91.7,413.6L92.4,409.6L93.1,416.3L93.9,410.2L94.6,405.2L95.3,391.4L96.0,412.3L96.7,413.1L97.4,416.4L98.1,409.4L98.8,418.0L99.5,427.2L100.3,419.0L101.0,408.5L101.7,409.6L102.4,407.6L103.1,409.2L103.8,410.5L104.5,408.6L105.2,410.1L105.9,414.6L106.7,414.3L107.4,414.8L108.1,412.5L108.8,414.1L109.5,401.6L110.2,400.4L110.9,415.0L111.6,418.6L112.4,402.8L113.1,405.9L113.8,412.7L114.5,409.7L115.2,404.9L115.9,408.5L116.6,413.0L117.3,419.1L118.0,411.2L118.8,405.5L119.5,402.6L120.2,406.3L120.9,411.2L121.6,410.3L122.3,411.9L123.0,409.3L123.7,405.5L124.5,411.3L125.2,398.5L125.9,406.5L126.6,404.4L127.3,415.9L128.0,415.5L128.7,410.5L129.4,408.5L130.1,405.2L130.9,404.0L131.6,397.6L132.3,395.8L133.0,406.8L133.7,409.1L134.4,418.7L135.1,403.8L135.8,404.7L136.5,405.8L137.3,401.2L138.0,401.6L138.7,406.6L139.4,401.2L140.1,402.5L140.8,402.2L141.5,414.2L142.2,405.9L143.0,417.4L143.7,415.2L144.4,405.9L145.1,397.3L145.8,394.3L146.5,398.7L147.2,396.5L147.9,410.5L148.6,393.2L149.4,418.4L150.1,401.0L150.8,408.5L151.5,401.8L152.2,396.9L152.9,400.2L153.6,401.6L154.3,400.2L155.1,408.7L155.8,399.6L156.5,403.7L157.2,415.4L157.9,397.0L158.6,407.2L159.3,395.9L160.0,405.7L160.7,394.8L161.5,398.2L162.2,396.5L162.9,405.1L163.6,403.1L164.3,402.5L165.0,403.1L165.7,388.5L166.4,386.2L167.1,407.4L167.9,397.9L168.6,402.6L169.3,407.0L170.0,393.9L170.7,396.1L171.4,392.1L172.1,411.1L172.8,396.4L173.6,397.8L174.3,392.2L175.0,399.3L175.7,403.5L176.4,401.6L177.1,395.7L177.8,395.1L178.5,391.4L179.2,396.1L180.0,403.5L180.7,392.9L181.4,400.5L182.1,378.2L182.8,394.5L183.5,396.4L184.2,394.6L184.9,404.6L185.7,404.8L186.4,398.0L187.1,383.5L187.8,390.5L188.5,398.2L189.2,406.7L189.9,390.5L190.6,392.5L191.3,393.8L192.1,379.1L192.8,395.0L193.5,392.9L194.2,395.7L194.9,387.5L195.6,379.3L196.3,391.2L197.0,402.2L197.7,389.6L198.5,386.2L199.2,402.9L199.9,396.0L200.6,379.9L201.3,389.0L202.0,402.1L202.7,392.2L203.4,379.6L204.2,379.8L204.9,392.1L205.6,386.3L206.3,387.0L207.0,381.6L207.7,390.4L208.4,391.3L209.1,386.1L209.8,377.1L210.6,387.2L211.3,385.9L212.0,389.3L212.7,386.5L213.4,399.1L214.1,386.3L214.8,382.6L215.5,389.5L216.3,389.9L217.0,378.5L217.7,369.1L218.4,377.0L219.1,394.3L219.8,397.5L220.5,379.5L221.2,373.2L221.9,376.5L222.7,379.5L223.4,388.9L224.1,384.3L224.8,388.3L225.5,383.8L226.2,380.3L226.9,382.9L227.6,380.9L228.3,383.4L229.1,376.4L229.8,375.4L230.5,377.6L231.2,381.8L231.9,385.4L232.6,382.9L233.3,382.4L234.0,379.0L234.8,381.3L235.5,381.3L236.2,381.9L236.9,384.9L237.6,370.7L238.3,356.2L239.0,374.6L239.7,381.0L240.4,380.5L241.2,378.6L241.9,384.1L242.6,384.0L243.3,382.2L244.0,378.9L244.7,366.5L245.4,374.3L246.1,379.5L246.9,375.4L247.6,359.5L248.3,371.4L249.0,382.7L249.7,383.4L250.4,384.5L251.1,377.1L251.8,366.3L252.5,374.6L253.3,386.0L254.0,373.4L254.7,369.7L255.4,368.8L256.1,368.8L256.8,372.8L257.5,373.0L258.2,376.9L259.0,376.1L259.7,370.9L260.4,370.3L261.1,365.4L261.8,368.6L262.5,369.7L263.2,373.6L263.9,378.2L264.6,370.1L265.4,369.9L266.1,369.2L266.8,359.5L267.5,362.0L268.2,364.0L268.9,371.1L269.6,385.0L270.3,368.1L271.0,363.5L271.8,360.1L272.5,359.1L273.2,362.9L273.9,367.7L274.6,362.9L275.3,365.5L276.0,355.5L276.7,372.5L277.5,370.7L278.2,369.8L278.9,367.4L279.6,363.6L280.3,353.2L281.0,344.9L281.7,346.7L282.4,348.9L283.1,367.8L283.9,372.0L284.6,356.2L285.3,358.2L286.0,357.4L286.7,360.2L287.4,348.3L288.1,355.4L288.8,370.4L289.6,357.8L290.3,354.0L291.0,351.3L291.7,346.5L292.4,348.4L293.1,347.4L293.8,356.3L294.5,346.6L295.2,356.2L296.0,347.4L296.7,342.3L297.4,346.6L298.1,353.0L298.8,351.7L299.5,347.3L300.2,359.1L300.9,355.0L301.6,348.7L302.4,343.6L303.1,343.0L303.8,344.2L304.5,340.9L305.2,332.1L305.9,336.0L306.6,342.2L307.3,352.3L308.1,341.2L308.8,341.4L309.5,346.6L310.2,335.9L310.9,340.5L311.6,353.8L312.3,344.1L313.0,344.1L313.7,346.1L314.5,351.0L315.2,332.3L315.9,343.2L316.6,335.4L317.3,329.7L318.0,332.4L318.7,339.4L319.4,336.1L320.2,342.8L320.9,330.8L321.6,330.8L322.3,336.0L323.0,344.3L323.7,328.4L324.4,331.8L325.1,337.8L325.8,341.8L326.6,341.4L327.3,333.2L328.0,328.9L328.7,324.9L329.4,328.3L330.1,334.9L330.8,317.1L331.5,327.0L332.2,341.1L333.0,347.6L333.7,327.1L334.4,334.0L335.1,336.1L335.8,325.4L336.5,318.8L337.2,323.5L337.9,330.9L338.7,324.0L339.4,326.6L340.1,334.2L340.8,320.5L341.5,314.1L342.2,318.9L342.9,322.6L343.6,316.4L344.3,308.5L345.1,326.7L345.8,324.5L346.5,327.9L347.2,309.5L347.9,316.5L348.6,337.9L349.3,315.4L350.0,324.1L350.8,310.2L351.5,317.5L352.2,305.6L352.9,302.0L353.6,308.7L354.3,307.7L355.0,295.8L355.7,295.5L356.4,303.0L357.2,287.8L357.9,278.6L358.6,215.6L359.3,87.1L360.0,91.5L360.7,85.1L361.4,90.4L362.1,89.4L362.8,90.8L363.6,92.4L364.3,80.6L365.0,82.7L365.7,87.7L366.4,89.4L367.1,94.7L367.8,89.5L368.5,85.0L369.3,94.4L370.0,90.3L370.7,85.2L371.4,79.5L372.1,79.0L372.8,90.3L373.5,91.9L374.2,88.9L374.9,91.4L375.7,90.0L376.4,82.0L377.1,77.3L377.8,84.6L378.5,88.4L379.2,88.4L379.9,98.3L380.6,92.1L381.4,90.9L382.1,75.9L382.8,80.1L383.5,86.1L384.2,92.1L384.9,99.9L385.6,86.0L386.3,80.9L387.0,89.6L387.8,84.6L388.5,86.1L389.2,94.4L389.9,85.9L390.6,80.8L391.3,85.4L392.0,88.1L392.7,85.3L393.4,93.2L394.2,86.5L394.9,82.7L395.6,89.6L396.3,82.1L397.0,88.5L397.7,95.6L398.4,90.6L399.1,90.2L399.9,87.2L400.6,90.2L401.3,82.3L402.0,87.4L402.7,84.7L403.4,89.4L404.1,88.7L404.8,82.1L405.5,85.8L406.3,89.7L407.0,92.9L407.7,81.5L408.4,81.8L409.1,87.4L409.8,86.2L410.5,92.7L411.2,94.2L412.0,92.5L412.7,86.3L413.4,85.4L414.1,90.3L414.8,84.4L415.5,83.4L416.2,85.5L416.9,83.5L417.6,88.9L418.4,88.8L419.1,86.2L419.8,87.4L420.5,85.6L421.2,91.4L421.9,84.2L422.6,91.2L423.3,91.8L424.0,93.5L424.8,84.4L425.5,78.6L426.2,79.0L426.9,83.4L427.6,94.6L428.3,94.4L429.0,92.2L429.7,91.0L430.5,81.3L431.2,81.9L431.9,85.8L432.6,84.7L433.3,93.0L434.0,93.9L434.7,92.7L435.4,84.5L436.1,83.0L436.9,80.5L437.6,80.5L438.3,93.7L439.0,93.1L439.7,89.6L440.4,94.7L441.1,91.6L441.8,83.3L442.6,80.4L443.3,81.5L444.0,87.0L444.7,88.7L445.4,85.5L446.1,89.5L446.8,87.7L447.5,83.2L448.2,90.4L449.0,92.2L449.7,87.6L450.4,84.2L451.1,83.3L451.8,83.2L452.5,83.1L453.2,92.1L453.9,90.8L454.6,86.3L455.4,90.0L456.1,93.8L456.8,93.3L457.5,91.5L458.2,88.7L458.9,91.3L459.6,83.0L460.3,75.9L461.1,83.3L461.8,80.2L462.5,85.9L463.2,93.7L463.9,91.7L464.6,92.5L465.3,86.9L466.0,90.0L466.7,81.8L467.5,83.8L468.2,95.6L468.9,82.7L469.6,79.1L470.3,87.1L471.0,83.2L471.7,92.3L472.4,88.0L473.2,93.1L473.9,90.9L474.6,93.9L475.3,210.2L476.0,276.2L476.7,290.4L477.4,294.2L478.1,320.6L478.8,316.4L479.6,332.3L480.3,325.4L481.0,320.6L481.7,314.8L482.4,326.8L483.1,339.5L483.8,325.2L484.5,332.1L485.2,334.6L486.0,333.1L486.7,330.8L487.4,333.3L488.1,327.0L488.8,334.9L489.5,336.9L490.2,332.3L490.9,345.5L491.7,340.3L492.4,335.6L493.1,328.2L493.8,323.8L494.5,325.4L495.2,340.0L495.9,321.6L496.6,342.0L497.3,339.1L498.1,349.8L498.8,345.2L499.5,331.1L500.2,340.7L500.9,328.4L501.6,334.8L502.3,328.6L503.0,339.6L503.8,346.5L504.5,332.0L505.2,340.3L505.9,335.9L506.6,328.8L507.3,336.3L508.0,340.3L508.7,345.2L509.4,339.4L510.2,337.4L510.9,340.8L511.6,330.8L512.3,332.4L513.0,339.2L513.7,346.7L514.4,329.8L515.1,341.8L515.8,337.9L516.6,350.9L517.3,340.0L518.0,332.7L518.7,337.5L519.4,349.6L520.1,337.1L520.8,338.4L521.5,339.7L522.3,338.5L523.0,340.6L523.7,325.8L524.4,338.5L525.1,348.1L525.8,347.4L526.5,329.1L527.2,340.2L527.9,346.3L528.7,350.0L529.4,337.8L530.1,342.4L530.8,336.3L531.5,338.4L532.2,344.1L532.9,340.1L533.6,335.1L534.4,348.0L535.1,358.8L535.8,345.6L536.5,335.8L537.2,333.7L537.9,346.6L538.6,340.2L539.3,344.9L540.0,345.9L540.8,335.4L541.5,343.7L542.2,344.6L542.9,351.5L543.6,343.7L544.3,351.8L545.0,347.5L545.7,349.7L546.4,346.0L547.2,344.6L547.9,347.9L548.6,353.7L549.3,344.1L550.0,346.6L550.7,337.1L551.4,350.7L552.1,344.5L552.9,350.8L553.6,345.6L554.3,358.5L555.0,352.1L555.7,344.0L556.4,347.2L557.1,350.4L557.8,354.7L558.5,369.2L559.3,341.8L560.0,346.9L560.7,350.7L561.4,350.5L562.1,351.5L562.8,354.9L563.5,353.7L564.2,361.9L565.0,357.7L565.7,357.8L566.4,353.7L567.1,356.4L567.8,360.1L568.5,344.6L569.2,356.9L569.9,359.5L570.6,368.0L571.4,345.6L572.1,356.0L572.8,356.6L573.5,359.1L574.2,361.5L574.9,361.6L575.6,361.1L576.3,363.1L577.0,369.4L577.8,359.7L578.5,355.1L579.2,357.8L579.9,364.8L580.6,357.2L581.3,369.3L582.0,367.2L582.7,362.0L583.5,352.5L584.2,359.1L584.9,370.3L585.6,367.5L586.3,362.9L587.0,359.6L587.7,381.5L588.4,362.7L589.1,358.6L589.9,371.0L590.6,367.2L591.3,365.1L592.0,366.6L592.7,363.8L593.4,355.1L594.1,382.3L594.8,365.1L595.6,367.3L596.3,370.1L597.0,377.5L597.7,370.7L598.4,364.3L599.1,368.3L599.8,373.9L600.5,371.8L601.2,364.4L602.0,357.6L602.7,381.3L603.4,374.6L604.1,377.2L604.8,373.2L605.5,368.3L606.2,366.0L606.9,372.2L607.7,380.0L608.4,377.7L609.1,379.1L609.8,369.0L610.5,370.7L611.2,374.6L611.9,368.0L612.6,380.1L613.3,374.5L614.1,394.3L614.8,381.8L615.5,380.3L616.2,366.3L616.9,371.1L617.6,367.0L618.3,380.8L619.0,385.6L619.7,369.5L620.5,374.2L621.2,386.8L621.9,381.2L622.6,374.5L623.3,385.0L624.0,390.7L624.7,378.3L625.4,376.3L626.2,369.1L626.9,373.0L627.6,377.9L628.3,388.2L629.0,383.7L629.7,386.4L630.4,387.6L631.1,381.4L631.8,378.5L632.6,381.3L633.3,398.4L634.0,392.4L634.7,370.7L635.4,390.4L636.1,387.0L636.8,371.0L637.5,383.9L638.3,386.3L639.0,390.6L639.7,390.5L640.4,384.6L641.1,387.0L641.8,385.6L642.5,382.9L643.2,380.3L643.9,392.5L644.7,389.8L645.4,380.6L646.1,388.8L646.8,387.6L647.5,386.2L648.2,393.3L648.9,389.7L649.6,386.4L650.3,382.6L651.1,391.2L651.8,392.0L652.5,386.2L653.2,386.6L653.9,388.4L654.6,382.6L655.3,389.8L656.0,394.1L656.8,403.5L657.5,390.6L658.2,390.4L658.9,392.3L659.6,383.9L660.3,389.5L661.0,388.6L661.7,389.5L662.4,400.2L663.2,388.6L663.9,395.2L664.6,397.3L665.3,395.9L666.0,376.6L666.7,391.0L667.4,399.2L668.1,389.0L668.9,383.0L669.6,395.9L670.3,401.0L671.0,397.7L671.7,387.9L672.4,391.2L673.1,405.4L673.8,392.1L674.5,401.1L675.3,393.2L676.0,395.0L676.7,398.8L677.4,381.6L678.1,393.3L678.8,390.4L679.5,400.2L680.2,398.1L680.9,393.1L681.7,404.6L682.4,400.7L683.1,395.8L683.8,408.9L684.5,402.6L685.2,399.2L685.9,379.3L686.6,394.9L687.4,390.7L688.1,389.4L688.8,403.4L689.5,407.1L690.2,413.1L690.9,400.8L691.6,400.6L692.3,405.9L693.0,417.0L693.8,402.9L694.5,386.9L695.2,388.2L695.9,382.2L696.6,395.2L697.3,410.5L698.0,408.3L698.7,403.4L699.5,395.4L700.2,414.0L700.9,402.9L701.6,403.9L702.3,414.4L703.0,405.1L703.7,397.7L704.4,395.8L705.1,402.0L705.9,395.9L706.6,398.2L707.3,415.4L708.0,407.7L708.7,393.4L709.4,398.3L710.1,397.8L710.8,402.2L711.5,414.8L712.3,409.6L713.0,414.4L713.7,398.5L714.4,403.0L715.1,405.6L715.8,398.6L716.5,395.7L717.2,410.6L718.0,409.3L718.7,414.8L719.4,406.8L720.1,393.0L720.8,400.3L721.5,404.6L722.2,409.0L722.9,403.9L723.6,414.6L724.4,395.7L725.1,394.3L725.8,406.1L726.5,414.3L727.2,410.5L727.9,420.2L728.6,406.2L729.3,405.0L730.1,410.4L730.8,400.2L731.5,396.8L732.2,401.9L732.9,406.0L733.6,408.0L734.3,424.8L735.0,409.5L735.7,408.0L736.5,400.0L737.2,409.5L737.9,409.9L738.6,403.5L739.3,406.9L740.0,406.8L740.7,401.9L741.4,416.2L742.1,399.9L742.9,405.1L743.6,410.8L744.3,423.1L745.0,410.5L745.7,408.2L746.4,402.0L747.1,400.6L747.8,403.0L748.6,405.2L749.3,405.6L750.0,413.7L750.7,417.3L751.4,411.6L752.1,405.5L752.8,404.6L753.5,417.0L754.2,400.9L755.0,406.4L755.7,419.1L756.4,421.9L757.1,418.3L757.8,399.3L758.5,412.4L759.2,400.2L759.9,403.2L760.7,410.3L761.4,403.9L762.1,422.2L762.8,410.2L763.5,416.2L764.2,410.1L764.9,404.8L765.6,410.7L766.3,405.3L767.1,416.8L767.8,417.5L768.5,416.6L769.2,397.7L769.9,410.7L770.6,407.8L771.3,398.2L772.0,421.1L772.7,420.5L773.5,431.5L774.2,404.8L774.9,408.5L775.6,413.0L776.3,409.9L777.0,411.8L777.7,409.7L778.4,407.4L779.2,410.5L779.9,412.1L780.6,408.4L781.3,418.0L782.0,421.7" stroke="#E8D24A"/><path d="M54.0,423.3L54.7,422.0L55.4,413.2L56.1,419.8L56.8,420.4L57.6,419.6L58.3,426.9L59.0,413.6L59.7,422.5L60.4,412.9L61.1,422.2L61.8,427.3L62.5,423.5L63.3,426.0L64.0,418.0L64.7,427.9L65.4,425.0L66.1,418.6L66.8,408.5L67.5,415.6L68.2,417.0L68.9,434.3L69.7,420.0L70.4,424.2L71.1,412.4L71.8,417.2L72.5,416.8L73.2,419.3L73.9,429.9L74.6,419.4L75.3,417.7L76.1,412.9L76.8,422.0L77.5,423.4L78.2,410.4L78.9,421.6L79.6,425.8L80.3,416.3L81.0,411.5L81.8,428.5L82.5,430.6L83.2,423.8L83.9,412.5L84.6,418.4L85.3,411.4L86.0,418.5L86.7,414.1L87.4,408.2L88.2,428.2L88.9,429.7L89.6,417.6L90.3,423.0L91.0,420.5L91.7,411.4L92.4,428.2L93.1,417.7L93.9,413.7L94.6,415.1L95.3,409.3L96.0,420.0L96.7,420.6L97.4,421.3L98.1,422.3L98.8,415.1L99.5,421.6L100.3,414.1L101.0,427.5L101.7,414.1L102.4,423.6L103.1,416.8L103.8,417.3L104.5,408.9L105.2,420.3L105.9,423.7L106.7,415.5L107.4,412.2L108.1,412.9L108.8,412.8L109.5,409.4L110.2,412.1L110.9,427.2L111.6,420.6L112.4,429.1L113.1,415.1L113.8,419.4L114.5,419.0L115.2,413.6L115.9,410.1L116.6,421.0L117.3,419.6L118.0,406.9L118.8,412.5L119.5,409.1L120.2,415.4L120.9,419.1L121.6,405.0L122.3,414.7L123.0,409.8L123.7,415.4L124.5,419.8L125.2,412.0L125.9,415.8L126.6,420.8L127.3,414.8L128.0,420.2L128.7,419.1L129.4,408.7L130.1,408.5L130.9,416.2L131.6,404.0L132.3,416.1L133.0,402.0L133.7,411.9L134.4,418.2L135.1,410.3L135.8,418.2L136.5,416.2L137.3,403.2L138.0,404.1L138.7,413.1L139.4,414.2L140.1,410.9L140.8,414.0L141.5,410.3L142.2,414.7L143.0,420.2L143.7,406.6L144.4,416.7L145.1,413.7L145.8,405.8L146.5,408.5L147.2,407.0L147.9,403.0L148.6,402.9L149.4,422.4L150.1,405.5L150.8,418.4L151.5,404.6L152.2,401.8L152.9,409.9L153.6,403.0L154.3,410.7L155.1,420.2L155.8,408.7L156.5,405.9L157.2,406.9L157.9,410.5L158.6,413.4L159.3,405.6L160.0,414.4L160.7,400.6L161.5,415.6L162.2,396.7L162.9,409.7L163.6,394.5L164.3,401.9L165.0,402.0L165.7,407.3L166.4,399.2L167.1,417.8L167.9,411.4L168.6,422.2L169.3,406.9L170.0,398.0L170.7,396.5L171.4,395.4L172.1,398.8L172.8,402.8L173.6,409.5L174.3,409.6L175.0,407.9L175.7,397.9L176.4,409.1L177.1,400.6L177.8,397.4L178.5,396.6L179.2,408.0L180.0,413.6L180.7,411.2L181.4,406.2L182.1,390.0L182.8,406.0L183.5,395.4L184.2,391.4L184.9,407.6L185.7,408.2L186.4,402.1L187.1,395.8L187.8,405.5L188.5,400.1L189.2,399.5L189.9,396.1L190.6,399.1L191.3,395.1L192.1,399.5L192.8,401.4L193.5,391.8L194.2,397.1L194.9,401.8L195.6,390.7L196.3,402.9L197.0,399.5L197.7,389.1L198.5,406.3L199.2,404.1L199.9,395.6L200.6,388.8L201.3,404.9L202.0,400.7L202.7,394.8L203.4,391.6L204.2,387.0L204.9,401.6L205.6,396.1L206.3,391.7L207.0,379.5L207.7,390.8L208.4,398.9L209.1,390.8L209.8,390.7L210.6,399.4L211.3,400.1L212.0,389.0L212.7,395.3L213.4,393.1L214.1,389.1L214.8,384.7L215.5,390.3L216.3,413.2L217.0,384.5L217.7,383.6L218.4,381.5L219.1,383.4L219.8,393.1L220.5,388.6L221.2,393.9L221.9,393.1L222.7,381.2L223.4,393.2L224.1,387.9L224.8,387.0L225.5,390.3L226.2,388.7L226.9,390.6L227.6,391.1L228.3,390.3L229.1,383.5L229.8,384.0L230.5,393.0L231.2,382.9L231.9,388.1L232.6,385.8L233.3,388.9L234.0,383.2L234.8,386.4L235.5,383.2L236.2,389.9L236.9,383.1L237.6,390.1L238.3,377.3L239.0,376.0L239.7,392.1L240.4,379.1L241.2,377.9L241.9,383.8L242.6,390.7L243.3,384.8L244.0,382.0L244.7,392.9L245.4,380.2L246.1,381.6L246.9,373.3L247.6,370.6L248.3,384.1L249.0,381.3L249.7,391.9L250.4,397.6L251.1,380.6L251.8,375.3L252.5,378.5L253.3,387.1L254.0,375.6L254.7,379.6L255.4,372.8L256.1,365.1L256.8,386.3L257.5,380.3L258.2,391.5L259.0,373.9L259.7,376.6L260.4,377.9L261.1,372.1L261.8,377.5L262.5,379.6L263.2,381.2L263.9,380.6L264.6,374.5L265.4,375.6L266.1,376.7L266.8,361.1L267.5,374.4L268.2,365.9L268.9,379.8L269.6,387.9L270.3,370.9L271.0,364.4L271.8,368.4L272.5,371.9L273.2,371.1L273.9,371.6L274.6,375.6L275.3,379.1L276.0,375.2L276.7,369.4L277.5,364.8L278.2,365.0L278.9,359.8L279.6,373.7L280.3,360.9L281.0,374.3L281.7,361.6L282.4,361.2L283.1,366.4L283.9,374.5L284.6,363.6L285.3,361.8L286.0,354.4L286.7,357.8L287.4,355.5L288.1,362.1L288.8,374.1L289.6,365.5L290.3,368.3L291.0,361.9L291.7,357.2L292.4,346.7L293.1,352.0L293.8,366.2L294.5,348.3L295.2,367.4L296.0,361.6L296.7,347.4L297.4,366.3L298.1,361.3L298.8,338.7L299.5,346.8L300.2,357.2L300.9,358.4L301.6,358.5L302.4,355.1L303.1,347.4L303.8,351.7L304.5,348.3L305.2,344.2L305.9,346.0L306.6,341.6L307.3,362.2L308.1,351.1L308.8,350.0L309.5,341.8L310.2,347.9L310.9,353.5L311.6,350.7L312.3,345.8L313.0,356.4L313.7,348.5L314.5,350.5L315.2,340.7L315.9,345.6L316.6,343.7L317.3,340.4L318.0,341.1L318.7,340.3L319.4,352.4L320.2,340.6L320.9,344.3L321.6,341.5L322.3,341.6L323.0,349.6L323.7,343.8L324.4,343.2L325.1,335.7L325.8,326.1L326.6,342.8L327.3,343.1L328.0,341.2L328.7,338.0L329.4,328.3L330.1,345.1L330.8,335.1L331.5,328.0L332.2,342.1L333.0,345.1L333.7,339.5L334.4,343.2L335.1,339.3L335.8,340.8L336.5,327.0L337.2,330.7L337.9,319.1L338.7,328.7L339.4,334.9L340.1,347.8L340.8,325.4L341.5,320.2L342.2,320.9L342.9,327.3L343.6,327.2L344.3,316.3L345.1,341.6L345.8,325.4L346.5,334.7L347.2,323.8L347.9,323.6L348.6,335.5L349.3,313.3L350.0,319.3L350.8,323.7L351.5,321.7L352.2,312.6L352.9,311.5L353.6,308.0L354.3,315.1L355.0,305.4L355.7,316.8L356.4,312.4L357.2,289.8L357.9,295.5L358.6,219.3L359.3,87.9L360.0,90.9L360.7,84.9L361.4,89.4L362.1,91.1L362.8,90.5L363.6,92.3L364.3,81.6L365.0,82.5L365.7,88.3L366.4,89.3L367.1,94.6L367.8,89.5L368.5,84.8L369.3,94.6L370.0,89.6L370.7,84.8L371.4,79.4L372.1,79.7L372.8,90.4L373.5,92.7L374.2,88.0L374.9,91.0L375.7,89.7L376.4,81.5L377.1,77.3L377.8,84.7L378.5,89.8L379.2,88.9L379.9,97.8L380.6,92.6L381.4,89.5L382.1,75.9L382.8,81.1L383.5,86.8L384.2,91.6L384.9,99.5L385.6,86.1L386.3,81.2L387.0,89.7L387.8,84.2L388.5,85.4L389.2,94.9L389.9,84.7L390.6,80.7L391.3,85.7L392.0,87.6L392.7,85.8L393.4,94.3L394.2,86.8L394.9,82.6L395.6,89.1L396.3,82.4L397.0,89.2L397.7,95.8L398.4,90.0L399.1,89.4L399.9,85.9L400.6,88.9L401.3,83.1L402.0,87.7L402.7,86.4L403.4,90.4L404.1,88.3L404.8,82.4L405.5,85.8L406.3,89.8L407.0,91.9L407.7,81.4L408.4,82.1L409.1,86.9L409.8,86.0L410.5,92.9L411.2,94.5L412.0,92.5L412.7,86.7L413.4,86.1L414.1,89.6L414.8,82.9L415.5,83.1L416.2,85.5L416.9,83.4L417.6,89.7L418.4,89.2L419.1,86.4L419.8,87.1L420.5,85.5L421.2,92.3L421.9,83.9L422.6,91.5L423.3,91.9L424.0,93.5L424.8,83.5L425.5,77.5L426.2,79.5L426.9,83.3L427.6,95.9L428.3,94.1L429.0,92.0L429.7,91.0L430.5,81.0L431.2,82.6L431.9,84.2L432.6,85.4L433.3,92.9L434.0,94.7L434.7,92.1L435.4,84.8L436.1,82.4L436.9,80.2L437.6,81.8L438.3,93.4L439.0,92.5L439.7,90.9L440.4,95.8L441.1,91.8L441.8,82.0L442.6,79.3L443.3,81.6L444.0,88.0L444.7,88.6L445.4,84.8L446.1,89.8L446.8,88.1L447.5,83.0L448.2,90.4L449.0,91.8L449.7,87.3L450.4,83.6L451.1,83.3L451.8,84.1L452.5,83.4L453.2,92.6L453.9,91.0L454.6,85.0L455.4,90.2L456.1,94.8L456.8,93.4L457.5,90.8L458.2,88.5L458.9,90.5L459.6,83.2L460.3,76.3L461.1,83.0L461.8,81.0L462.5,86.4L463.2,93.8L463.9,91.9L464.6,92.0L465.3,86.3L466.0,90.9L466.7,81.6L467.5,83.8L468.2,95.9L468.9,83.5L469.6,78.0L470.3,86.4L471.0,83.0L471.7,92.4L472.4,88.7L473.2,91.9L473.9,91.1L474.6,94.0L475.3,211.2L476.0,279.9L476.7,293.1L477.4,307.5L478.1,314.5L478.8,324.7L479.6,345.6L480.3,337.7L481.0,317.7L481.7,332.4L482.4,343.2L483.1,339.5L483.8,330.8L484.5,341.6L485.2,331.6L486.0,341.3L486.7,336.7L487.4,343.9L488.1,332.1L488.8,329.1L489.5,341.9L490.2,337.2L490.9,341.4L491.7,353.5L492.4,342.3L493.1,343.3L493.8,339.5L494.5,344.8L495.2,336.2L495.9,325.7L496.6,344.2L497.3,345.5L498.1,350.9L498.8,356.6L499.5,332.2L500.2,347.1L500.9,336.7L501.6,345.5L502.3,335.8L503.0,339.3L503.8,340.8L504.5,339.9L505.2,346.0L505.9,338.4L506.6,354.2L507.3,346.6L508.0,346.8L508.7,348.1L509.4,353.4L510.2,333.4L510.9,342.2L511.6,340.7L512.3,345.1L513.0,354.6L513.7,352.4L514.4,331.8L515.1,341.3L515.8,337.5L516.6,349.2L517.3,343.5L518.0,342.7L518.7,346.2L519.4,345.1L520.1,355.7L520.8,353.4L521.5,350.1L522.3,349.7L523.0,343.0L523.7,334.3L524.4,341.2L525.1,345.9L525.8,342.8L526.5,336.7L527.2,349.0L527.9,355.9L528.7,343.5L529.4,349.5L530.1,359.2L530.8,345.5L531.5,337.5L532.2,350.6L532.9,350.6L533.6,350.6L534.4,353.2L535.1,360.8L535.8,357.4L536.5,338.5L537.2,344.1L537.9,345.7L538.6,350.7L539.3,348.1L540.0,350.2L540.8,341.0L541.5,354.0L542.2,343.8L542.9,353.1L543.6,356.9L544.3,358.2L545.0,355.7L545.7,354.2L546.4,357.1L547.2,344.1L547.9,349.3L548.6,354.1L549.3,366.7L550.0,353.5L550.7,345.1L551.4,351.6L552.1,346.8L552.9,359.4L553.6,355.1L554.3,354.9L555.0,365.0L555.7,348.8L556.4,357.2L557.1,362.7L557.8,348.8L558.5,367.1L559.3,354.5L560.0,355.1L560.7,362.5L561.4,355.5L562.1,359.6L562.8,363.8L563.5,356.3L564.2,367.0L565.0,355.8L565.7,361.6L566.4,373.9L567.1,359.1L567.8,363.2L568.5,355.9L569.2,366.9L569.9,363.9L570.6,363.9L571.4,365.9L572.1,362.6L572.8,351.5L573.5,368.6L574.2,366.7L574.9,362.7L575.6,365.1L576.3,362.2L577.0,378.2L577.8,378.9L578.5,365.1L579.2,369.2L579.9,367.7L580.6,364.3L581.3,370.5L582.0,375.0L582.7,370.6L583.5,365.2L584.2,361.4L584.9,367.9L585.6,369.2L586.3,369.7L587.0,364.1L587.7,376.7L588.4,369.1L589.1,371.4L589.9,371.8L590.6,377.0L591.3,381.1L592.0,373.0L592.7,382.3L593.4,370.2L594.1,373.4L594.8,370.8L595.6,375.1L596.3,381.0L597.0,376.8L597.7,377.9L598.4,367.2L599.1,371.4L599.8,379.7L600.5,376.8L601.2,377.1L602.0,369.3L602.7,378.2L603.4,372.5L604.1,385.9L604.8,377.8L605.5,382.9L606.2,384.1L606.9,376.7L607.7,379.6L608.4,389.2L609.1,380.1L609.8,375.5L610.5,377.0L611.2,381.6L611.9,370.8L612.6,383.7L613.3,382.9L614.1,387.4L614.8,386.6L615.5,386.3L616.2,382.3L616.9,376.3L617.6,384.2L618.3,392.9L619.0,393.9L619.7,377.2L620.5,377.9L621.2,380.2L621.9,384.9L622.6,387.6L623.3,387.6L624.0,389.8L624.7,388.3L625.4,376.3L626.2,379.8L626.9,382.6L627.6,396.7L628.3,395.8L629.0,386.5L629.7,393.8L630.4,384.9L631.1,388.3L631.8,388.8L632.6,395.3L633.3,397.5L634.0,378.4L634.7,371.4L635.4,397.6L636.1,389.7L636.8,391.9L637.5,394.8L638.3,406.8L639.0,394.2L639.7,402.5L640.4,381.7L641.1,389.6L641.8,394.2L642.5,392.4L643.2,395.8L643.9,391.5L644.7,387.1L645.4,389.8L646.1,391.9L646.8,384.6L647.5,391.2L648.2,402.6L648.9,404.1L649.6,397.7L650.3,397.3L651.1,395.1L651.8,387.0L652.5,389.2L653.2,392.3L653.9,405.1L654.6,393.7L655.3,405.9L656.0,393.1L656.8,394.4L657.5,389.2L658.2,394.6L658.9,395.7L659.6,391.1L660.3,402.5L661.0,390.9L661.7,401.1L662.4,413.6L663.2,402.6L663.9,396.5L664.6,398.4L665.3,404.0L666.0,386.4L666.7,396.3L667.4,390.6L668.1,397.4L668.9,394.1L669.6,403.8L670.3,408.3L671.0,394.6L671.7,404.3L672.4,395.1L673.1,418.3L673.8,394.6L674.5,393.0L675.3,402.5L676.0,404.3L676.7,404.2L677.4,397.8L678.1,404.9L678.8,400.3L679.5,408.0L680.2,403.3L680.9,398.4L681.7,402.2L682.4,412.8L683.1,393.5L683.8,406.6L684.5,408.8L685.2,411.1L685.9,400.4L686.6,395.5L687.4,390.5L688.1,403.4L688.8,406.0L689.5,402.9L690.2,418.7L690.9,407.2L691.6,404.9L692.3,405.5L693.0,421.6L693.8,409.2L694.5,405.0L695.2,399.5L695.9,397.9L696.6,412.9L697.3,405.7L698.0,414.0L698.7,405.0L699.5,403.4L700.2,414.6L700.9,412.9L701.6,410.6L702.3,403.4L703.0,414.3L703.7,411.7L704.4,396.4L705.1,411.9L705.9,406.4L706.6,403.6L707.3,413.6L708.0,413.9L708.7,409.3L709.4,408.3L710.1,415.2L710.8,406.2L711.5,404.0L712.3,417.4L713.0,417.0L713.7,408.6L714.4,413.4L715.1,410.6L715.8,407.9L716.5,404.5L717.2,407.7L718.0,412.3L718.7,419.9L719.4,406.6L720.1,400.0L720.8,411.1L721.5,421.3L722.2,412.5L722.9,414.0L723.6,415.7L724.4,407.4L725.1,410.6L725.8,415.9L726.5,415.6L727.2,416.8L727.9,425.8L728.6,397.5L729.3,404.0L730.1,420.1L730.8,400.1L731.5,408.4L732.2,416.2L732.9,405.8L733.6,413.0L734.3,424.4L735.0,419.9L735.7,413.4L736.5,417.0L737.2,414.3L737.9,413.3L738.6,415.0L739.3,418.5L740.0,407.0L740.7,418.2L741.4,413.6L742.1,405.0L742.9,411.1L743.6,421.5L744.3,415.9L745.0,412.0L745.7,413.6L746.4,418.4L747.1,419.4L747.8,417.2L748.6,412.3L749.3,404.6L750.0,421.2L750.7,411.1L751.4,407.5L752.1,410.7L752.8,425.9L753.5,421.0L754.2,414.9L755.0,420.3L755.7,422.1L756.4,418.7L757.1,417.7L757.8,407.0L758.5,410.1L759.2,408.6L759.9,417.9L760.7,416.6L761.4,415.9L762.1,421.5L762.8,414.1L763.5,414.8L764.2,419.8L764.9,411.9L765.6,420.4L766.3,418.4L767.1,428.0L767.8,417.5L768.5,418.9L769.2,408.8L769.9,408.7L770.6,410.0L771.3,406.2L772.0,433.7L772.7,433.9L773.5,434.5L774.2,419.1L774.9,413.9L775.6,406.1L776.3,411.3L777.0,412.1L777.7,411.3L778.4,421.5L779.2,415.9L779.9,427.9L780.6,423.5L781.3,421.4L782.0,417.2" stroke="#B05AE8"/><path d="M54.0,422.7L54.7,412.3L55.4,410.2L56.1,423.6L56.8,410.1L57.6,415.6L58.3,426.9L59.0,414.2L59.7,416.4L60.4,412.8L61.1,414.2L61.8,428.6L62.5,417.3L63.3,415.7L64.0,411.7L64.7,416.3L65.4,418.6L66.1,415.7L66.8,417.9L67.5,423.8L68.2,416.5L68.9,417.1L69.7,407.3L70.4,412.1L71.1,413.0L71.8,419.7L72.5,417.0L73.2,420.0L73.9,422.3L74.6,422.0L75.3,424.1L76.1,409.0L76.8,408.3L77.5,413.7L78.2,414.5L78.9,405.8L79.6,417.6L80.3,428.6L81.0,409.7L81.8,418.6L82.5,420.6L83.2,411.8L83.9,416.8L84.6,414.0L85.3,413.5L86.0,423.7L86.7,409.8L87.4,402.4L88.2,418.8L88.9,416.8L89.6,420.8L90.3,414.1L91.0,416.4L91.7,408.2L92.4,427.8L93.1,409.7L93.9,410.8L94.6,411.2L95.3,410.5L96.0,413.7L96.7,412.7L97.4,432.7L98.1,409.5L98.8,419.6L99.5,425.2L100.3,414.6L101.0,404.8L101.7,410.8L102.4,408.9L103.1,410.3L103.8,411.0L104.5,404.9L105.2,423.0L105.9,432.1L106.7,418.8L107.4,413.1L108.1,413.8L108.8,407.4L109.5,401.8L110.2,410.5L110.9,414.2L111.6,415.0L112.4,415.1L113.1,415.9L113.8,413.8L114.5,412.2L115.2,401.4L115.9,416.4L116.6,409.1L117.3,418.8L118.0,409.8L118.8,415.4L119.5,412.5L120.2,409.0L120.9,424.2L121.6,399.8L122.3,398.2L123.0,406.0L123.7,418.0L124.5,414.0L125.2,414.2L125.9,411.3L126.6,408.5L127.3,407.6L128.0,418.1L128.7,412.8L129.4,405.0L130.1,408.7L130.9,397.3L131.6,405.3L132.3,411.0L133.0,409.3L133.7,405.5L134.4,413.7L135.1,415.3L135.8,406.2L136.5,408.0L137.3,393.1L138.0,407.6L138.7,416.9L139.4,416.6L140.1,408.8L140.8,403.1L141.5,406.8L142.2,403.7L143.0,417.2L143.7,408.0L144.4,412.0L145.1,394.5L145.8,402.3L146.5,409.7L147.2,406.7L147.9,405.5L148.6,408.2L149.4,410.1L150.1,400.3L150.8,409.6L151.5,411.5L152.2,405.5L152.9,405.3L153.6,396.7L154.3,398.1L155.1,414.4L155.8,400.3L156.5,398.2L157.2,415.2L157.9,420.3L158.6,404.5L159.3,393.2L160.0,408.2L160.7,400.4L161.5,401.1L162.2,393.2L162.9,403.9L163.6,405.0L164.3,399.3L165.0,394.1L165.7,396.4L166.4,401.8L167.1,408.3L167.9,409.7L168.6,414.5L169.3,407.6L170.0,395.0L170.7,400.1L171.4,393.9L172.1,391.7L172.8,397.3L173.6,399.6L174.3,395.8L175.0,415.6L175.7,388.7L176.4,407.1L177.1,402.9L177.8,402.6L178.5,403.6L179.2,401.4L180.0,403.4L180.7,396.9L181.4,392.4L182.1,381.2L182.8,399.5L183.5,400.1L184.2,402.4L184.9,397.1L185.7,411.9L186.4,398.3L187.1,384.8L187.8,401.7L188.5,394.4L189.2,398.2L189.9,402.9L190.6,392.8L191.3,387.9L192.1,390.5L192.8,393.6L193.5,394.4L194.2,395.0L194.9,393.3L195.6,390.6L196.3,401.6L197.0,401.7L197.7,387.7L198.5,399.4L199.2,393.6L199.9,388.7L200.6,385.3L201.3,392.3L202.0,399.7L202.7,393.3L203.4,385.1L204.2,388.8L204.9,397.3L205.6,382.5L206.3,390.7L207.0,386.5L207.7,392.3L208.4,396.8L209.1,387.7L209.8,388.2L210.6,394.3L211.3,392.3L212.0,385.0L212.7,388.8L213.4,388.4L214.1,385.7L214.8,377.9L215.5,395.0L216.3,396.9L217.0,383.7L217.7,380.1L218.4,385.5L219.1,394.5L219.8,388.1L220.5,374.2L221.2,375.7L221.9,384.2L222.7,384.7L223.4,389.1L224.1,383.3L224.8,394.6L225.5,390.6L226.2,381.3L226.9,373.7L227.6,389.0L228.3,393.6L229.1,384.0L229.8,381.2L230.5,386.8L231.2,377.3L231.9,379.0L232.6,380.2L233.3,390.5L234.0,379.5L234.8,381.0L235.5,383.5L236.2,384.3L236.9,381.9L237.6,378.1L238.3,375.7L239.0,377.4L239.7,383.4L240.4,384.3L241.2,375.5L241.9,381.1L242.6,379.9L243.3,378.4L244.0,384.4L244.7,378.7L245.4,379.4L246.1,381.4L246.9,371.2L247.6,374.2L248.3,375.1L249.0,382.8L249.7,375.3L250.4,388.2L251.1,376.1L251.8,376.2L252.5,371.2L253.3,384.3L254.0,377.0L254.7,371.1L255.4,375.3L256.1,374.9L256.8,381.2L257.5,380.0L258.2,380.1L259.0,365.5L259.7,378.5L260.4,362.7L261.1,364.0L261.8,377.4L262.5,373.1L263.2,370.4L263.9,386.7L264.6,378.6L265.4,375.7L266.1,365.4L266.8,362.7L267.5,373.7L268.2,369.2L268.9,371.7L269.6,379.2L270.3,361.4L271.0,364.6L271.8,361.6L272.5,366.8L273.2,367.5L273.9,370.6L274.6,368.8L275.3,371.4L276.0,369.9L276.7,368.0L277.5,358.9L278.2,359.5L278.9,360.1L279.6,369.4L280.3,361.8L281.0,363.3L281.7,360.8L282.4,361.2L283.1,364.9L283.9,377.0L284.6,359.4L285.3,346.1L286.0,350.2L286.7,356.5L287.4,365.3L288.1,355.7L288.8,370.1L289.6,354.4L290.3,365.9L291.0,352.8L291.7,353.4L292.4,340.3L293.1,363.1L293.8,365.3L294.5,349.5L295.2,351.0L296.0,340.7L296.7,343.1L297.4,349.7L298.1,361.2L298.8,353.9L299.5,349.9L300.2,360.0L300.9,353.7L301.6,353.8L302.4,340.7L303.1,351.6L303.8,347.2L304.5,337.7L305.2,341.9L305.9,335.6L306.6,345.8L307.3,358.0L308.1,337.1L308.8,340.4L309.5,346.9L310.2,353.6L310.9,353.2L311.6,347.5L312.3,344.0L313.0,351.8L313.7,348.6L314.5,339.9L315.2,331.2L315.9,334.8L316.6,345.1L317.3,340.4L318.0,339.3L318.7,338.8L319.4,340.4L320.2,333.6L320.9,339.1L321.6,338.7L322.3,347.8L323.0,349.7L323.7,333.7L324.4,327.3L325.1,337.4L325.8,336.5L326.6,339.9L327.3,328.3L328.0,344.2L328.7,330.5L329.4,328.1L330.1,348.4L330.8,332.0L331.5,325.0L332.2,330.8L333.0,342.8L333.7,329.6L334.4,331.0L335.1,337.8L335.8,325.8L336.5,322.7L337.2,328.5L337.9,320.8L338.7,328.1L339.4,339.9L340.1,343.7L340.8,330.8L341.5,323.5L342.2,310.0L342.9,319.8L343.6,323.9L344.3,318.8L345.1,326.3L345.8,325.0L346.5,325.7L347.2,318.4L347.9,321.1L348.6,335.8L349.3,308.9L350.0,319.5L350.8,307.8L351.5,315.1L352.2,312.7L352.9,318.8L353.6,313.9L354.3,317.1L355.0,296.0L355.7,298.9L356.4,295.9L357.2,288.3L357.9,280.8L358.6,226.7L359.3,88.3L360.0,91.1L360.7,85.4L361.4,90.6L362.1,90.0L362.8,90.8L363.6,91.9L364.3,79.8L365.0,81.8L365.7,89.7L366.4,89.9L367.1,94.5L367.8,89.8L368.5,84.9L369.3,93.5L370.0,89.5L370.7,85.0L371.4,80.0L372.1,79.9L372.8,90.2L373.5,93.0L374.2,89.2L374.9,90.8L375.7,88.9L376.4,80.4L377.1,76.7L377.8,85.4L378.5,89.1L379.2,89.7L379.9,97.4L380.6,92.6L381.4,90.7L382.1,76.0L382.8,80.6L383.5,85.5L384.2,91.4L384.9,100.5L385.6,86.0L386.3,81.1L387.0,88.8L387.8,85.9L388.5,86.2L389.2,94.5L389.9,84.5L390.6,80.3L391.3,85.5L392.0,86.4L392.7,86.5L393.4,93.5L394.2,87.5L394.9,83.1L395.6,89.5L396.3,82.1L397.0,89.0L397.7,96.5L398.4,89.8L399.1,90.2L399.9,85.4L400.6,89.5L401.3,82.5L402.0,87.1L402.7,87.1L403.4,90.3L404.1,87.7L404.8,82.0L405.5,85.1L406.3,90.0L407.0,91.8L407.7,81.1L408.4,82.3L409.1,87.8L409.8,87.4L410.5,92.2L411.2,94.3L412.0,92.3L412.7,86.9L413.4,86.1L414.1,89.2L414.8,84.3L415.5,83.3L416.2,86.0L416.9,82.8L417.6,89.1L418.4,88.4L419.1,85.3L419.8,86.9L420.5,85.3L421.2,93.2L421.9,83.8L422.6,91.4L423.3,91.6L424.0,93.7L424.8,85.0L425.5,77.6L426.2,79.2L426.9,84.0L427.6,95.4L428.3,93.7L429.0,92.5L429.7,90.2L430.5,80.8L431.2,83.1L431.9,85.3L432.6,85.7L433.3,92.1L434.0,94.2L434.7,92.0L435.4,84.6L436.1,82.3L436.9,80.4L437.6,81.7L438.3,93.1L439.0,92.5L439.7,89.9L440.4,96.5L441.1,91.7L441.8,81.4L442.6,80.3L443.3,82.3L444.0,87.8L444.7,89.3L445.4,84.9L446.1,90.1L446.8,86.6L447.5,82.8L448.2,90.0L449.0,92.3L449.7,87.9L450.4,83.7L451.1,83.3L451.8,83.6L452.5,83.5L453.2,92.6L453.9,90.6L454.6,85.5L455.4,90.5L456.1,93.5L456.8,92.7L457.5,91.5L458.2,88.6L458.9,90.8L459.6,83.4L460.3,77.2L461.1,83.4L461.8,79.6L462.5,85.8L463.2,93.4L463.9,92.3L464.6,93.5L465.3,86.3L466.0,90.9L466.7,80.9L467.5,83.5L468.2,94.6L468.9,84.2L469.6,79.0L470.3,86.6L471.0,82.0L471.7,92.3L472.4,88.9L473.2,92.2L473.9,91.6L474.6,93.8L475.3,200.5L476.0,280.4L476.7,285.9L477.4,307.4L478.1,321.0L478.8,313.7L479.6,336.3L480.3,327.2L481.0,324.4L481.7,320.7L482.4,331.1L483.1,340.5L483.8,321.3L484.5,336.9L485.2,337.7L486.0,336.3L486.7,335.4L487.4,330.1L488.1,325.2L488.8,332.8L489.5,341.8L490.2,331.3L490.9,344.1L491.7,351.7L492.4,338.3L493.1,340.0L493.8,333.2L494.5,335.5L495.2,336.6L495.9,323.2L496.6,339.8L497.3,338.3L498.1,350.0L498.8,343.2L499.5,334.4L500.2,343.0L500.9,342.0L501.6,339.9L502.3,328.2L503.0,331.7L503.8,346.7L504.5,339.4L505.2,350.4L505.9,342.8L506.6,337.5L507.3,332.4L508.0,339.3L508.7,339.2L509.4,339.7L510.2,328.2L510.9,338.8L511.6,343.8L512.3,341.9L513.0,344.1L513.7,348.0L514.4,334.3L515.1,346.0L515.8,344.2L516.6,351.5L517.3,335.2L518.0,342.1L518.7,338.6L519.4,336.2L520.1,344.2L520.8,348.7L521.5,345.2L522.3,345.0L523.0,340.2L523.7,334.0L524.4,332.5L525.1,341.1L525.8,342.1L526.5,343.6L527.2,357.5L527.9,352.9L528.7,341.9L529.4,334.6L530.1,341.1L530.8,339.3L531.5,345.5L532.2,352.5L532.9,348.8L533.6,335.4L534.4,344.6L535.1,347.3L535.8,346.9L536.5,334.8L537.2,352.5L537.9,353.3L538.6,350.4L539.3,347.2L540.0,343.3L540.8,333.4L541.5,350.2L542.2,338.5L542.9,355.0L543.6,346.8L544.3,350.6L545.0,347.4L545.7,352.9L546.4,363.2L547.2,338.2L547.9,357.8L548.6,353.3L549.3,352.8L550.0,346.6L550.7,347.7L551.4,341.7L552.1,331.6L552.9,355.2L553.6,354.5L554.3,348.5L555.0,353.4L555.7,354.3L556.4,368.8L557.1,358.2L557.8,348.6L558.5,366.9L559.3,349.4L560.0,339.5L560.7,358.5L561.4,353.0L562.1,350.0L562.8,349.3L563.5,362.9L564.2,366.2L565.0,347.6L565.7,358.8L566.4,370.4L567.1,357.1L567.8,364.0L568.5,349.8L569.2,359.0L569.9,360.7L570.6,364.6L571.4,350.2L572.1,365.3L572.8,357.4L573.5,368.9L574.2,361.5L574.9,365.6L575.6,355.5L576.3,359.8L577.0,377.0L577.8,376.5L578.5,353.6L579.2,355.3L579.9,364.7L580.6,353.9L581.3,363.4L582.0,369.7L582.7,375.3L583.5,365.5L584.2,359.2L584.9,379.3L585.6,358.3L586.3,365.6L587.0,356.8L587.7,376.7L588.4,368.3L589.1,365.7L589.9,378.7L590.6,368.6L591.3,362.8L592.0,360.4L592.7,376.7L593.4,368.6L594.1,380.9L594.8,368.8L595.6,370.0L596.3,378.1L597.0,369.6L597.7,368.7L598.4,359.4L599.1,374.8L599.8,372.2L600.5,382.7L601.2,368.0L602.0,375.4L602.7,375.8L603.4,376.0L604.1,372.6L604.8,371.9L605.5,382.5L606.2,371.7L606.9,370.1L607.7,380.3L608.4,381.7L609.1,386.5L609.8,364.5L610.5,365.8L611.2,384.0L611.9,375.0L612.6,377.2L613.3,378.8L614.1,387.9L614.8,378.6L615.5,378.9L616.2,384.6L616.9,377.2L617.6,373.7L618.3,377.2L619.0,387.2L619.7,380.7L620.5,382.8L621.2,372.7L621.9,385.0L622.6,384.9L623.3,381.5L624.0,383.9L624.7,377.5L625.4,379.7L626.2,375.2L626.9,381.5L627.6,395.8L628.3,383.5L629.0,383.3L629.7,393.8L630.4,388.3L631.1,382.3L631.8,380.3L632.6,391.5L633.3,387.2L634.0,371.6L634.7,378.8L635.4,398.1L636.1,383.5L636.8,378.0L637.5,395.4L638.3,395.7L639.0,391.9L639.7,393.4L640.4,389.4L641.1,386.0L641.8,392.8L642.5,393.4L643.2,379.7L643.9,380.2L644.7,395.4L645.4,387.8L646.1,391.9L646.8,389.0L647.5,389.3L648.2,400.7L648.9,385.4L649.6,389.8L650.3,395.3L651.1,395.3L651.8,391.4L652.5,381.6L653.2,393.4L653.9,391.3L654.6,379.7L655.3,394.2L656.0,391.3L656.8,389.6L657.5,392.6L658.2,396.7L658.9,401.1L659.6,385.3L660.3,398.4L661.0,399.5L661.7,399.0L662.4,392.0L663.2,393.3L663.9,399.6L664.6,398.2L665.3,384.6L666.0,387.0L666.7,392.2L667.4,400.1L668.1,382.2L668.9,393.8L669.6,403.6L670.3,405.0L671.0,395.4L671.7,397.5L672.4,393.8L673.1,415.6L673.8,396.8L674.5,391.5L675.3,404.5L676.0,395.1L676.7,387.2L677.4,387.1L678.1,396.9L678.8,389.7L679.5,394.4L680.2,408.7L680.9,399.4L681.7,408.3L682.4,410.8L683.1,390.6L683.8,408.7L684.5,406.5L685.2,405.7L685.9,385.3L686.6,389.2L687.4,394.8L688.1,398.2L688.8,406.5L689.5,400.8L690.2,416.9L690.9,409.2L691.6,395.7L692.3,405.4L693.0,404.6L693.8,401.8L694.5,404.6L695.2,395.3L695.9,394.2L696.6,402.0L697.3,409.7L698.0,415.8L698.7,402.3L699.5,402.4L700.2,408.3L700.9,406.9L701.6,404.7L702.3,400.1L703.0,398.8L703.7,406.9L704.4,413.7L705.1,415.9L705.9,398.9L706.6,391.5L707.3,409.0L708.0,407.6L708.7,408.9L709.4,403.9L710.1,403.0L710.8,401.5L711.5,407.3L712.3,403.1L713.0,413.2L713.7,415.4L714.4,401.5L715.1,404.9L715.8,406.6L716.5,407.5L717.2,408.6L718.0,411.3L718.7,424.7L719.4,403.4L720.1,391.9L720.8,400.5L721.5,402.7L722.2,407.3L722.9,408.0L723.6,422.3L724.4,409.7L725.1,412.6L725.8,402.4L726.5,409.9L727.2,407.0L727.9,411.4L728.6,406.5L729.3,414.1L730.1,409.1L730.8,397.5L731.5,415.6L732.2,406.5L732.9,397.4L733.6,414.7L734.3,420.8L735.0,407.9L735.7,407.3L736.5,408.1L737.2,426.5L737.9,417.4L738.6,409.5L739.3,409.8L740.0,401.4L740.7,395.6L741.4,406.4L742.1,405.3L742.9,423.2L743.6,415.4L744.3,411.1L745.0,417.9L745.7,409.0L746.4,401.6L747.1,409.7L747.8,414.4L748.6,407.7L749.3,406.0L750.0,415.5L750.7,412.8L751.4,414.0L752.1,403.1L752.8,418.3L753.5,415.5L754.2,400.6L755.0,412.3L755.7,425.8L756.4,417.3L757.1,418.2L757.8,405.4L758.5,412.4L759.2,398.2L759.9,411.5L760.7,410.5L761.4,409.5L762.1,424.3L762.8,413.7L763.5,415.8L764.2,419.5L764.9,411.6L765.6,415.2L766.3,411.1L767.1,414.6L767.8,408.1L768.5,408.4L769.2,408.1L769.9,410.1L770.6,411.9L771.3,408.7L772.0,428.9L772.7,424.4L773.5,423.5L774.2,407.3L774.9,410.0L775.6,410.3L776.3,415.1L777.0,422.8L777.7,410.8L778.4,411.8L779.2,423.1L779.9,411.5L780.6,407.3L781.3,416.0L782.0,420.6" stroke="#4EC83A"/><path d="M54.0,428.7L54.7,420.3L55.4,408.4L56.1,425.5L56.8,403.6L57.6,414.4L58.3,421.2L59.0,410.9L59.7,405.3L60.4,406.4L61.1,422.6L61.8,420.8L62.5,425.0L63.3,419.1L64.0,412.5L64.7,412.3L65.4,421.6L66.1,413.8L66.8,416.3L67.5,416.2L68.2,407.6L68.9,408.8L69.7,416.9L70.4,425.8L71.1,410.5L71.8,409.0L72.5,414.3L73.2,414.1L73.9,423.5L74.6,411.1L75.3,417.9L76.1,410.2L76.8,415.7L77.5,414.8L78.2,410.8L78.9,419.3L79.6,410.0L80.3,418.5L81.0,404.2L81.8,424.6L82.5,426.4L83.2,413.5L83.9,417.0L84.6,424.7L85.3,405.2L86.0,400.1L86.7,412.4L87.4,399.8L88.2,411.6L88.9,412.5L89.6,431.5L90.3,413.6L91.0,422.1L91.7,410.0L92.4,409.0L93.1,420.4L93.9,417.5L94.6,411.6L95.3,406.0L96.0,419.0L96.7,405.9L97.4,414.1L98.1,413.7L98.8,415.8L99.5,420.4L100.3,408.3L101.0,416.4L101.7,418.2L102.4,412.5L103.1,403.5L103.8,405.8L104.5,413.6L105.2,415.2L105.9,417.2L106.7,420.6L107.4,410.7L108.1,413.2L108.8,404.0L109.5,397.4L110.2,408.0L110.9,421.7L111.6,415.1L112.4,418.8L113.1,414.9L113.8,409.8L114.5,407.6L115.2,408.5L115.9,416.4L116.6,414.5L117.3,408.2L118.0,407.5L118.8,407.8L119.5,405.8L120.2,404.7L120.9,412.4L121.6,405.1L122.3,419.9L123.0,406.5L123.7,406.8L124.5,412.7L125.2,404.3L125.9,410.7L126.6,402.6L127.3,410.6L128.0,432.5L128.7,413.9L129.4,407.3L130.1,397.0L130.9,401.8L131.6,397.2L132.3,399.1L133.0,415.6L133.7,412.1L134.4,422.8L135.1,405.1L135.8,398.8L136.5,406.8L137.3,400.1L138.0,401.6L138.7,402.4L139.4,414.4L140.1,407.5L140.8,410.2L141.5,410.7L142.2,400.4L143.0,409.4L143.7,407.5L144.4,409.0L145.1,408.1L145.8,404.4L146.5,405.1L147.2,404.6L147.9,398.2L148.6,392.8L149.4,410.8L150.1,403.6L150.8,413.6L151.5,403.8L152.2,400.9L152.9,403.5L153.6,405.0L154.3,397.2L155.1,409.7L155.8,408.0L156.5,405.0L157.2,412.3L157.9,401.5L158.6,403.5L159.3,397.2L160.0,404.4L160.7,395.5L161.5,406.4L162.2,400.8L162.9,397.8L163.6,397.6L164.3,395.0L165.0,403.5L165.7,400.9L166.4,393.2L167.1,398.7L167.9,406.3L168.6,407.4L169.3,405.1L170.0,393.0L170.7,405.0L171.4,401.3L172.1,403.2L172.8,396.8L173.6,400.7L174.3,395.2L175.0,398.6L175.7,395.2L176.4,398.2L177.1,400.3L177.8,393.6L178.5,403.8L179.2,407.9L180.0,399.3L180.7,390.2L181.4,405.8L182.1,377.6L182.8,387.9L183.5,395.3L184.2,404.0L184.9,404.4L185.7,403.3L186.4,405.4L187.1,386.0L187.8,389.6L188.5,398.1L189.2,403.3L189.9,390.2L190.6,394.5L191.3,389.0L192.1,394.4L192.8,399.6L193.5,391.8L194.2,392.6L194.9,388.4L195.6,389.0L196.3,386.7L197.0,390.1L197.7,386.2L198.5,404.5L199.2,401.3L199.9,398.7L200.6,385.2L201.3,385.6L202.0,403.3L202.7,381.8L203.4,386.1L204.2,382.4L204.9,396.9L205.6,392.4L206.3,381.5L207.0,387.5L207.7,388.6L208.4,385.2L209.1,382.9L209.8,392.2L210.6,399.3L211.3,391.0L212.0,383.1L212.7,384.0L213.4,391.5L214.1,388.3L214.8,389.8L215.5,388.4L216.3,392.3L217.0,385.8L217.7,377.9L218.4,379.7L219.1,386.9L219.8,380.4L220.5,376.6L221.2,382.9L221.9,386.3L222.7,377.3L223.4,387.5L224.1,385.8L224.8,386.3L225.5,389.6L226.2,381.6L226.9,386.3L227.6,388.2L228.3,373.3L229.1,376.5L229.8,385.5L230.5,389.6L231.2,376.5L231.9,376.4L232.6,381.5L233.3,384.6L234.0,378.9L234.8,385.3L235.5,384.5L236.2,383.3L236.9,382.2L237.6,374.6L238.3,372.4L239.0,382.2L239.7,373.5L240.4,379.8L241.2,372.5L241.9,384.4L242.6,374.9L243.3,381.7L244.0,379.5L244.7,384.3L245.4,378.1L246.1,382.3L246.9,381.0L247.6,368.9L248.3,370.5L249.0,373.0L249.7,373.8L250.4,390.9L251.1,373.8L251.8,372.4L252.5,374.5L253.3,387.8L254.0,371.6L254.7,366.7L255.4,367.5L256.1,368.3L256.8,376.9L257.5,385.2L258.2,388.1L259.0,372.7L259.7,366.5L260.4,365.8L261.1,371.6L261.8,368.7L262.5,371.7L263.2,385.8L263.9,377.1L264.6,369.5L265.4,355.6L266.1,369.4L266.8,374.0L267.5,363.0L268.2,366.5L268.9,375.5L269.6,375.1L270.3,360.9L271.0,364.9L271.8,372.0L272.5,365.4L273.2,365.3L273.9,371.8L274.6,362.6L275.3,373.2L276.0,350.8L276.7,361.4L277.5,364.7L278.2,360.9L278.9,367.4L279.6,369.1L280.3,367.3L281.0,364.2L281.7,357.6L282.4,351.3L283.1,359.2L283.9,367.2L284.6,351.8L285.3,353.4L286.0,353.0L286.7,362.6L287.4,357.6L288.1,365.1L288.8,369.3L289.6,352.0L290.3,355.7L291.0,349.3L291.7,351.8L292.4,344.8L293.1,354.4L293.8,363.6L294.5,350.2L295.2,358.2L296.0,349.6L296.7,342.7L297.4,344.8L298.1,354.2L298.8,342.8L299.5,342.1L300.2,352.6L300.9,366.1L301.6,352.7L302.4,349.9L303.1,352.5L303.8,338.5L304.5,330.0L305.2,338.2L305.9,352.0L306.6,345.1L307.3,355.4L308.1,343.5L308.8,334.6L309.5,340.1L310.2,343.0L310.9,347.8L311.6,340.4L312.3,341.1L313.0,351.3L313.7,343.7L314.5,344.9L315.2,343.1L315.9,349.2L316.6,341.5L317.3,331.5L318.0,328.8L318.7,337.6L319.4,346.4L320.2,336.7L320.9,333.4L321.6,343.3L322.3,340.4L323.0,334.2L323.7,329.4L324.4,342.2L325.1,339.5L325.8,331.6L326.6,339.9L327.3,325.9L328.0,329.6L328.7,330.0L329.4,339.3L330.1,338.3L330.8,331.6L331.5,334.9L332.2,337.0L333.0,329.1L333.7,323.9L334.4,330.0L335.1,340.4L335.8,324.2L336.5,326.4L337.2,328.7L337.9,318.9L338.7,320.4L339.4,335.1L340.1,342.6L340.8,321.8L341.5,318.3L342.2,320.3L342.9,324.2L343.6,322.2L344.3,319.3L345.1,324.4L345.8,317.9L346.5,319.6L347.2,317.0L347.9,324.4L348.6,336.2L349.3,313.4L350.0,315.9L350.8,310.6L351.5,318.2L352.2,309.4L352.9,305.2L353.6,311.3L354.3,317.6L355.0,297.6L355.7,295.5L356.4,294.7L357.2,293.0L357.9,283.9L358.6,216.2L359.3,88.6L360.0,90.5L360.7,85.7L361.4,90.1L362.1,91.6L362.8,90.6L363.6,92.0L364.3,79.9L365.0,83.1L365.7,87.9L366.4,89.7L367.1,94.7L367.8,89.0L368.5,85.0L369.3,94.2L370.0,90.0L370.7,84.4L371.4,79.1L372.1,79.7L372.8,90.5L373.5,93.1L374.2,89.0L374.9,91.5L375.7,90.1L376.4,80.9L377.1,77.2L377.8,84.4L378.5,89.7L379.2,88.5L379.9,97.8L380.6,91.0L381.4,90.8L382.1,75.8L382.8,80.9L383.5,86.6L384.2,91.8L384.9,99.9L385.6,85.6L386.3,81.6L387.0,90.1L387.8,85.0L388.5,85.6L389.2,94.0L389.9,84.5L390.6,80.6L391.3,85.6L392.0,87.5L392.7,85.3L393.4,93.6L394.2,87.7L394.9,82.7L395.6,89.5L396.3,81.9L397.0,88.3L397.7,96.8L398.4,90.0L399.1,90.0L399.9,86.3L400.6,90.8L401.3,83.1L402.0,87.0L402.7,86.5L403.4,89.0L404.1,88.4L404.8,81.6L405.5,85.0L406.3,89.6L407.0,92.9L407.7,80.9L408.4,81.7L409.1,87.8L409.8,87.0L410.5,93.1L411.2,93.6L412.0,91.4L412.7,87.3L413.4,86.5L414.1,89.7L414.8,84.0L415.5,82.1L416.2,85.3L416.9,83.6L417.6,90.1L418.4,89.9L419.1,86.5L419.8,87.6L420.5,84.8L421.2,91.9L421.9,83.1L422.6,91.0L423.3,91.5L424.0,93.8L424.8,84.6L425.5,78.3L426.2,79.3L426.9,83.3L427.6,94.7L428.3,94.3L429.0,91.6L429.7,91.2L430.5,81.8L431.2,83.6L431.9,85.0L432.6,84.5L433.3,92.3L434.0,94.0L434.7,92.3L435.4,84.8L436.1,83.6L436.9,79.7L437.6,81.2L438.3,92.8L439.0,91.8L439.7,90.3L440.4,95.8L441.1,92.1L441.8,82.3L442.6,79.9L443.3,83.0L444.0,87.7L444.7,89.4L445.4,85.0L446.1,89.3L446.8,86.3L447.5,83.7L448.2,90.2L449.0,91.9L449.7,87.3L450.4,82.9L451.1,83.5L451.8,84.2L452.5,83.7L453.2,92.8L453.9,91.7L454.6,85.4L455.4,90.3L456.1,93.0L456.8,93.0L457.5,91.1L458.2,88.5L458.9,90.9L459.6,83.4L460.3,76.7L461.1,84.3L461.8,79.7L462.5,85.6L463.2,93.4L463.9,91.2L464.6,92.9L465.3,86.5L466.0,90.9L466.7,81.2L467.5,84.9L468.2,95.6L468.9,82.9L469.6,79.2L470.3,86.5L471.0,83.3L471.7,91.6L472.4,87.8L473.2,92.7L473.9,90.7L474.6,94.2L475.3,212.4L476.0,274.1L476.7,289.0L477.4,300.7L478.1,317.1L478.8,306.5L479.6,329.0L480.3,329.8L481.0,320.2L481.7,323.1L482.4,333.7L483.1,328.9L483.8,328.8L484.5,328.4L485.2,331.6L486.0,348.4L486.7,330.1L487.4,331.9L488.1,326.7L488.8,333.5L489.5,346.5L490.2,338.4L490.9,339.4L491.7,346.3L492.4,328.1L493.1,330.3L493.8,335.5L494.5,331.8L495.2,349.4L495.9,325.8L496.6,338.0L497.3,335.7L498.1,344.7L498.8,336.5L499.5,332.6L500.2,343.2L500.9,337.1L501.6,330.4L502.3,321.8L503.0,338.2L503.8,344.3L504.5,335.1L505.2,348.1L505.9,340.4L506.6,338.1L507.3,340.7L508.0,339.2L508.7,347.8L509.4,343.7L510.2,327.9L510.9,335.2L511.6,330.7L512.3,338.9L513.0,349.4L513.7,342.5L514.4,340.1L515.1,344.3L515.8,341.2L516.6,345.4L517.3,337.3L518.0,342.2L518.7,334.2L519.4,335.7L520.1,343.3L520.8,348.4L521.5,348.0L522.3,338.8L523.0,342.3L523.7,319.1L524.4,332.5L525.1,333.0L525.8,347.3L526.5,338.8L527.2,350.8L527.9,362.5L528.7,346.3L529.4,341.5L530.1,347.1L530.8,333.3L531.5,335.9L532.2,346.1L532.9,337.8L533.6,340.3L534.4,346.7L535.1,357.2L535.8,346.8L536.5,336.8L537.2,341.2L537.9,349.3L538.6,347.1L539.3,344.1L540.0,337.5L540.8,337.1L541.5,351.1L542.2,339.8L542.9,349.9L543.6,345.1L544.3,351.7L545.0,346.4L545.7,344.2L546.4,353.2L547.2,351.4L547.9,357.8L548.6,348.3L549.3,353.5L550.0,348.1L550.7,349.1L551.4,343.0L552.1,335.3L552.9,343.4L553.6,346.4L554.3,350.6L555.0,353.8L555.7,363.2L556.4,360.4L557.1,345.1L557.8,339.7L558.5,363.8L559.3,362.1L560.0,357.1L560.7,355.3L561.4,352.0L562.1,346.3L562.8,354.1L563.5,347.3L564.2,358.2L565.0,354.0L565.7,359.7L566.4,364.0L567.1,358.2L567.8,356.8L568.5,348.2L569.2,362.9L569.9,361.7L570.6,364.9L571.4,356.5L572.1,362.3L572.8,354.8L573.5,359.7L574.2,359.2L574.9,362.6L575.6,352.8L576.3,358.8L577.0,365.2L577.8,373.6L578.5,356.1L579.2,359.3L579.9,366.3L580.6,370.0L581.3,366.1L582.0,367.1L582.7,366.1L583.5,359.7L584.2,356.2L584.9,371.9L585.6,370.7L586.3,358.1L587.0,348.9L587.7,381.1L588.4,359.1L589.1,355.3L589.9,379.6L590.6,373.4L591.3,371.0L592.0,368.2L592.7,373.3L593.4,371.2L594.1,371.7L594.8,363.6L595.6,364.4L596.3,372.6L597.0,380.9L597.7,361.1L598.4,362.4L599.1,371.7L599.8,374.1L600.5,379.2L601.2,369.0L602.0,370.2L602.7,378.4L603.4,368.8L604.1,373.3L604.8,373.8L605.5,373.5L606.2,375.6L606.9,367.6L607.7,370.7L608.4,382.7L609.1,373.5L609.8,378.9L610.5,375.1L611.2,380.2L611.9,360.1L612.6,373.8L613.3,375.0L614.1,393.9L614.8,376.2L615.5,388.4L616.2,382.6L616.9,387.0L617.6,375.7L618.3,371.4L619.0,387.5L619.7,358.3L620.5,365.0L621.2,381.9L621.9,390.8L622.6,390.4L623.3,378.9L624.0,390.5L624.7,378.0L625.4,374.1L626.2,375.3L626.9,386.0L627.6,385.7L628.3,386.0L629.0,380.4L629.7,388.8L630.4,381.1L631.1,383.7L631.8,385.5L632.6,372.9L633.3,390.4L634.0,384.4L634.7,380.9L635.4,385.4L636.1,388.7L636.8,383.9L637.5,389.7L638.3,389.1L639.0,393.6L639.7,393.3L640.4,375.1L641.1,382.8L641.8,395.7L642.5,392.9L643.2,387.7L643.9,391.0L644.7,386.6L645.4,376.7L646.1,384.7L646.8,374.8L647.5,394.2L648.2,395.3L648.9,398.0L649.6,397.8L650.3,386.6L651.1,401.7L651.8,388.0L652.5,387.7L653.2,383.2L653.9,380.6L654.6,394.3L655.3,389.7L656.0,390.4L656.8,391.3L657.5,390.6L658.2,386.4L658.9,388.2L659.6,392.0L660.3,401.5L661.0,402.4L661.7,387.1L662.4,398.8L663.2,405.8L663.9,398.0L664.6,381.4L665.3,399.5L666.0,382.8L666.7,382.9L667.4,384.1L668.1,391.6L668.9,389.9L669.6,402.9L670.3,406.4L671.0,400.3L671.7,402.9L672.4,394.6L673.1,399.2L673.8,385.2L674.5,385.2L675.3,397.3L676.0,411.3L676.7,389.9L677.4,390.3L678.1,390.8L678.8,398.9L679.5,401.7L680.2,393.8L680.9,405.2L681.7,403.5L682.4,400.1L683.1,389.4L683.8,401.3L684.5,412.6L685.2,396.9L685.9,393.0L686.6,394.5L687.4,391.7L688.1,387.8L688.8,400.9L689.5,397.4L690.2,415.0L690.9,409.7L691.6,403.0L692.3,406.1L693.0,408.2L693.8,404.1L694.5,403.5L695.2,396.5L695.9,385.7L696.6,388.7L697.3,404.7L698.0,413.9L698.7,405.9L699.5,407.6L700.2,414.1L700.9,400.3L701.6,404.7L702.3,404.8L703.0,401.0L703.7,386.2L704.4,399.8L705.1,409.9L705.9,411.1L706.6,407.6L707.3,409.2L708.0,410.2L708.7,405.0L709.4,393.9L710.1,400.7L710.8,404.1L711.5,406.5L712.3,400.9L713.0,419.2L713.7,407.7L714.4,406.3L715.1,414.4L715.8,390.5L716.5,398.1L717.2,402.5L718.0,414.4L718.7,418.6L719.4,399.4L720.1,398.5L720.8,395.4L721.5,409.9L722.2,407.1L722.9,406.7L723.6,418.6L724.4,407.6L725.1,409.8L725.8,414.8L726.5,409.7L727.2,403.2L727.9,409.7L728.6,396.6L729.3,402.8L730.1,407.7L730.8,404.3L731.5,412.1L732.2,407.0L732.9,405.4L733.6,416.2L734.3,420.3L735.0,407.1L735.7,401.0L736.5,407.5L737.2,404.6L737.9,410.3L738.6,413.1L739.3,404.7L740.0,406.4L740.7,407.0L741.4,417.7L742.1,398.7L742.9,418.3L743.6,416.6L744.3,412.1L745.0,408.7L745.7,407.8L746.4,406.3L747.1,407.9L747.8,404.1L748.6,413.7L749.3,402.9L750.0,402.4L750.7,409.3L751.4,413.3L752.1,415.3L752.8,421.0L753.5,421.8L754.2,400.6L755.0,404.7L755.7,417.7L756.4,418.0L757.1,408.3L757.8,410.4L758.5,413.3L759.2,402.1L759.9,404.3L760.7,411.8L761.4,411.4L762.1,417.9L762.8,411.3L763.5,408.6L764.2,416.0L764.9,416.1L765.6,411.4L766.3,406.9L767.1,411.1L767.8,409.8L768.5,415.8L769.2,410.6L769.9,406.7L770.6,409.8L771.3,401.8L772.0,416.7L772.7,425.6L773.5,433.5L774.2,419.9L774.9,412.5L775.6,408.3L776.3,408.6L777.0,418.1L777.7,399.2L778.4,412.8L779.2,412.7L779.9,412.0L780.6,408.5L781.3,419.6L782.0,420.9" stroke="#5AD8F0"/><path d="M54.0,431.8L54.7,421.9L55.4,419.1L56.1,418.0L56.8,416.8L57.6,420.7L58.3,435.3L59.0,415.7L59.7,409.7L60.4,414.7L61.1,428.4L61.8,426.1L62.5,417.9L63.3,416.5L64.0,411.4L64.7,422.0L65.4,426.3L66.1,422.6L66.8,421.7L67.5,424.5L68.2,423.2L68.9,413.7L69.7,421.5L70.4,416.6L71.1,420.8L71.8,426.8L72.5,416.0L73.2,420.0L73.9,422.0L74.6,407.3L75.3,416.9L76.1,417.3L76.8,424.7L77.5,428.1L78.2,418.3L78.9,421.0L79.6,409.3L80.3,427.4L81.0,414.5L81.8,431.3L82.5,423.7L83.2,422.3L83.9,428.5L84.6,413.1L85.3,414.4L86.0,406.5L86.7,415.7L87.4,408.9L88.2,421.1L88.9,421.6L89.6,418.5L90.3,424.0L91.0,419.9L91.7,425.1L92.4,426.7L93.1,422.4L93.9,416.8L94.6,417.6L95.3,404.9L96.0,409.0L96.7,425.4L97.4,422.8L98.1,416.4L98.8,411.3L99.5,425.8L100.3,423.5L101.0,420.9L101.7,415.5L102.4,431.7L103.1,405.3L103.8,406.0L104.5,412.4L105.2,414.7L105.9,425.7L106.7,424.4L107.4,425.0L108.1,419.0L108.8,414.1L109.5,409.5L110.2,419.6L110.9,419.5L111.6,414.8L112.4,415.2L113.1,407.8L113.8,424.3L114.5,413.4L115.2,412.2L115.9,414.5L116.6,421.2L117.3,418.2L118.0,420.9L118.8,416.1L119.5,406.7L120.2,417.9L120.9,420.8L121.6,406.0L122.3,409.2L123.0,406.9L123.7,416.1L124.5,419.8L125.2,420.9L125.9,409.8L126.6,406.8L127.3,412.4L128.0,432.2L128.7,412.8L129.4,417.9L130.1,414.8L130.9,413.2L131.6,406.0L132.3,402.6L133.0,406.7L133.7,413.4L134.4,415.1L135.1,407.2L135.8,412.8L136.5,420.4L137.3,415.4L138.0,409.1L138.7,413.1L139.4,409.1L140.1,407.4L140.8,406.2L141.5,413.9L142.2,405.9L143.0,418.2L143.7,422.8L144.4,419.9L145.1,404.6L145.8,402.6L146.5,409.7L147.2,410.2L147.9,405.2L148.6,404.0L149.4,422.2L150.1,413.0L150.8,404.3L151.5,411.6L152.2,407.9L152.9,409.9L153.6,404.2L154.3,401.8L155.1,414.2L155.8,412.5L156.5,413.7L157.2,418.2L157.9,401.9L158.6,402.7L159.3,398.1L160.0,402.9L160.7,404.4L161.5,416.5L162.2,413.9L162.9,404.1L163.6,405.5L164.3,409.7L165.0,400.0L165.7,400.9L166.4,397.4L167.1,403.4L167.9,410.5L168.6,420.1L169.3,410.4L170.0,397.7L170.7,407.3L171.4,401.4L172.1,399.3L172.8,399.3L173.6,410.8L174.3,399.7L175.0,409.9L175.7,399.5L176.4,402.0L177.1,400.1L177.8,415.6L178.5,400.3L179.2,409.4L180.0,403.5L180.7,403.7L181.4,406.1L182.1,387.7L182.8,398.4L183.5,406.4L184.2,397.3L184.9,408.1L185.7,409.6L186.4,393.9L187.1,400.3L187.8,405.3L188.5,396.9L189.2,399.5L189.9,394.4L190.6,397.0L191.3,397.5L192.1,397.2L192.8,405.1L193.5,404.2L194.2,398.6L194.9,393.9L195.6,379.5L196.3,399.3L197.0,407.7L197.7,396.5L198.5,403.0L199.2,398.4L199.9,402.4L200.6,387.9L201.3,398.0L202.0,408.5L202.7,391.7L203.4,385.6L204.2,393.4L204.9,396.5L205.6,395.3L206.3,382.9L207.0,391.8L207.7,393.9L208.4,402.4L209.1,387.5L209.8,392.9L210.6,398.3L211.3,390.7L212.0,397.5L212.7,402.0L213.4,391.1L214.1,387.2L214.8,386.1L215.5,386.8L216.3,400.9L217.0,393.1L217.7,391.8L218.4,382.7L219.1,388.0L219.8,393.0L220.5,381.0L221.2,388.1L221.9,391.8L222.7,381.6L223.4,385.8L224.1,385.5L224.8,396.8L225.5,388.7L226.2,394.0L226.9,388.8L227.6,399.1L228.3,396.0L229.1,383.9L229.8,373.0L230.5,383.0L231.2,381.4L231.9,386.9L232.6,379.9L233.3,397.4L234.0,389.7L234.8,385.0L235.5,379.6L236.2,395.0L236.9,384.6L237.6,389.7L238.3,385.0L239.0,380.9L239.7,372.8L240.4,380.1L241.2,379.9L241.9,387.8L242.6,382.9L243.3,392.7L244.0,384.0L244.7,385.5L245.4,377.4L246.1,388.5L246.9,380.8L247.6,373.0L248.3,386.8L249.0,375.8L249.7,390.9L250.4,390.5L251.1,371.6L251.8,368.4L252.5,383.6L253.3,387.7L254.0,383.8L254.7,378.8L255.4,380.8L256.1,370.5L256.8,378.4L257.5,381.8L258.2,385.4L259.0,379.4L259.7,378.6L260.4,379.3L261.1,377.4L261.8,374.7L262.5,369.1L263.2,373.7L263.9,382.3L264.6,377.4L265.4,371.5L266.1,380.9L266.8,373.7L267.5,375.0L268.2,367.3L268.9,376.4L269.6,388.1L270.3,368.0L271.0,362.2L271.8,369.0L272.5,376.0L273.2,370.8L273.9,368.6L274.6,367.4L275.3,373.0L276.0,365.3L276.7,369.8L277.5,379.2L278.2,379.3L278.9,365.4L279.6,382.2L280.3,354.4L281.0,360.3L281.7,360.2L282.4,352.5L283.1,360.1L283.9,379.0L284.6,363.6L285.3,362.7L286.0,364.3L286.7,370.9L287.4,355.5L288.1,360.5L288.8,361.8L289.6,368.7L290.3,367.4L291.0,351.8L291.7,357.1L292.4,356.9L293.1,362.0L293.8,367.8L294.5,340.7L295.2,359.6L296.0,351.4L296.7,350.5L297.4,356.9L298.1,361.2L298.8,336.5L299.5,351.3L300.2,368.2L300.9,364.2L301.6,365.6L302.4,355.7L303.1,361.9L303.8,342.2L304.5,343.6L305.2,350.2L305.9,335.3L306.6,348.0L307.3,350.9L308.1,348.4L308.8,350.1L309.5,348.5L310.2,348.1L310.9,356.2L311.6,346.5L312.3,352.0L313.0,342.8L313.7,348.5L314.5,349.5L315.2,344.2L315.9,345.6L316.6,342.2L317.3,338.6L318.0,351.1L318.7,332.1L319.4,351.1L320.2,347.5L320.9,347.9L321.6,339.1L322.3,347.7L323.0,348.0L323.7,333.6L324.4,336.6L325.1,335.0L325.8,340.3L326.6,345.0L327.3,334.7L328.0,345.4L328.7,338.6L329.4,335.6L330.1,341.3L330.8,323.0L331.5,339.5L332.2,344.9L333.0,348.9L333.7,338.0L334.4,344.5L335.1,331.8L335.8,320.0L336.5,325.8L337.2,332.2L337.9,330.8L338.7,324.6L339.4,342.2L340.1,344.2L340.8,328.0L341.5,333.1L342.2,317.1L342.9,324.4L343.6,324.1L344.3,324.0L345.1,340.1L345.8,325.3L346.5,328.3L347.2,318.2L347.9,325.7L348.6,335.8L349.3,320.3L350.0,324.4L350.8,310.4L351.5,323.2L352.2,315.2L352.9,316.6L353.6,314.3L354.3,319.3L355.0,302.6L355.7,309.2L356.4,305.2L357.2,286.2L357.9,289.6L358.6,213.2L359.3,89.9L360.0,91.1L360.7,85.3L361.4,89.8L362.1,90.5L362.8,89.7L363.6,93.1L364.3,80.4L365.0,82.7L365.7,88.3L366.4,89.4L367.1,94.5L367.8,88.4L368.5,84.9L369.3,94.5L370.0,90.9L370.7,83.9L371.4,79.1L372.1,80.2L372.8,90.7L373.5,92.8L374.2,87.8L374.9,92.0L375.7,90.1L376.4,80.2L377.1,77.6L377.8,84.9L378.5,88.4L379.2,89.8L379.9,98.7L380.6,91.5L381.4,89.7L382.1,75.0L382.8,80.4L383.5,86.2L384.2,92.5L384.9,100.6L385.6,86.4L386.3,81.3L387.0,90.2L387.8,85.1L388.5,85.4L389.2,93.3L389.9,84.4L390.6,80.6L391.3,84.8L392.0,88.8L392.7,85.3L393.4,94.0L394.2,88.4L394.9,82.5L395.6,89.2L396.3,82.6L397.0,88.3L397.7,95.9L398.4,88.9L399.1,90.2L399.9,86.1L400.6,90.3L401.3,83.3L402.0,87.5L402.7,84.8L403.4,90.0L404.1,88.8L404.8,81.5L405.5,86.1L406.3,90.2L407.0,92.3L407.7,81.3L408.4,82.2L409.1,87.3L409.8,86.0L410.5,93.7L411.2,93.6L412.0,92.6L412.7,85.9L413.4,86.0L414.1,89.5L414.8,84.1L415.5,83.3L416.2,85.2L416.9,83.4L417.6,88.2L418.4,90.8L419.1,86.8L419.8,87.8L420.5,84.2L421.2,92.0L421.9,84.4L422.6,90.6L423.3,91.2L424.0,94.6L424.8,84.5L425.5,78.0L426.2,78.3L426.9,83.9L427.6,95.3L428.3,93.8L429.0,92.3L429.7,91.2L430.5,81.2L431.2,82.5L431.9,84.7L432.6,84.6L433.3,93.1L434.0,94.2L434.7,92.5L435.4,84.2L436.1,83.2L436.9,81.6L437.6,81.1L438.3,92.6L439.0,91.3L439.7,91.1L440.4,96.5L441.1,91.0L441.8,82.0L442.6,80.1L443.3,82.0L444.0,87.4L444.7,88.6L445.4,86.1L446.1,90.4L446.8,87.0L447.5,82.3L448.2,89.4L449.0,91.7L449.7,87.4L450.4,83.8L451.1,83.8L451.8,83.6L452.5,84.4L453.2,93.8L453.9,91.1L454.6,85.0L455.4,89.9L456.1,93.7L456.8,92.4L457.5,90.9L458.2,89.0L458.9,90.0L459.6,83.3L460.3,77.5L461.1,83.6L461.8,80.3L462.5,85.8L463.2,93.8L463.9,91.4L464.6,92.2L465.3,86.7L466.0,90.9L466.7,81.2L467.5,84.6L468.2,95.9L468.9,83.3L469.6,78.2L470.3,86.8L471.0,82.1L471.7,91.7L472.4,89.0L473.2,93.9L473.9,91.0L474.6,94.0L475.3,219.5L476.0,284.3L476.7,297.0L477.4,304.6L478.1,324.0L478.8,312.4L479.6,335.5L480.3,328.9L481.0,325.4L481.7,333.8L482.4,347.0L483.1,340.4L483.8,326.9L484.5,335.5L485.2,347.2L486.0,328.2L486.7,330.4L487.4,342.1L488.1,330.7L488.8,339.4L489.5,353.0L490.2,338.8L490.9,343.6L491.7,348.7L492.4,344.6L493.1,339.3L493.8,336.0L494.5,337.2L495.2,347.6L495.9,316.5L496.6,349.8L497.3,349.4L498.1,348.5L498.8,348.2L499.5,339.3L500.2,346.1L500.9,339.6L501.6,332.0L502.3,335.8L503.0,346.6L503.8,355.8L504.5,339.6L505.2,341.9L505.9,345.7L506.6,344.8L507.3,339.2L508.0,345.0L508.7,350.7L509.4,344.8L510.2,331.7L510.9,344.9L511.6,352.1L512.3,344.7L513.0,360.0L513.7,340.9L514.4,335.9L515.1,342.4L515.8,343.4L516.6,345.0L517.3,342.7L518.0,345.0L518.7,345.7L519.4,353.2L520.1,346.0L520.8,349.3L521.5,343.6L522.3,339.2L523.0,349.3L523.7,340.5L524.4,339.7L525.1,348.9L525.8,351.9L526.5,345.2L527.2,348.9L527.9,356.0L528.7,349.2L529.4,336.7L530.1,347.6L530.8,339.3L531.5,348.1L532.2,358.5L532.9,359.1L533.6,344.1L534.4,347.4L535.1,345.9L535.8,349.0L536.5,343.3L537.2,343.0L537.9,351.6L538.6,353.6L539.3,362.3L540.0,348.3L540.8,343.8L541.5,351.5L542.2,345.0L542.9,354.7L543.6,348.0L544.3,359.6L545.0,362.2L545.7,347.6L546.4,354.2L547.2,344.1L547.9,348.3L548.6,358.2L549.3,354.4L550.0,360.2L550.7,351.3L551.4,354.9L552.1,352.2L552.9,352.1L553.6,359.4L554.3,359.0L555.0,357.5L555.7,350.4L556.4,358.9L557.1,357.7L557.8,341.9L558.5,367.1L559.3,361.7L560.0,355.4L560.7,365.3L561.4,355.6L562.1,361.6L562.8,358.8L563.5,363.2L564.2,365.5L565.0,354.2L565.7,361.5L566.4,365.5L567.1,351.4L567.8,362.0L568.5,362.8L569.2,368.1L569.9,356.2L570.6,366.3L571.4,365.3L572.1,369.5L572.8,365.0L573.5,372.5L574.2,370.3L574.9,356.6L575.6,361.2L576.3,364.4L577.0,373.9L577.8,368.7L578.5,361.4L579.2,368.0L579.9,376.0L580.6,366.3L581.3,365.7L582.0,367.1L582.7,378.3L583.5,371.3L584.2,356.7L584.9,378.2L585.6,372.7L586.3,366.4L587.0,356.7L587.7,380.6L588.4,374.8L589.1,377.5L589.9,379.5L590.6,366.4L591.3,371.8L592.0,367.2L592.7,376.0L593.4,375.1L594.1,378.4L594.8,374.3L595.6,364.5L596.3,378.3L597.0,385.0L597.7,371.0L598.4,371.3L599.1,373.3L599.8,378.1L600.5,374.9L601.2,369.8L602.0,384.9L602.7,378.9L603.4,375.9L604.1,370.7L604.8,389.3L605.5,379.0L606.2,382.0L606.9,374.4L607.7,379.7L608.4,381.6L609.1,390.0L609.8,374.6L610.5,381.0L611.2,380.8L611.9,374.4L612.6,373.7L613.3,384.2L614.1,392.3L614.8,389.7L615.5,391.0L616.2,387.1L616.9,378.4L617.6,379.1L618.3,387.3L619.0,385.4L619.7,372.4L620.5,377.8L621.2,389.4L621.9,386.8L622.6,397.0L623.3,381.3L624.0,378.8L624.7,373.8L625.4,390.7L626.2,390.5L626.9,391.5L627.6,384.1L628.3,383.0L629.0,389.2L629.7,397.3L630.4,392.8L631.1,394.4L631.8,389.6L632.6,393.8L633.3,393.1L634.0,378.4L634.7,384.4L635.4,395.0L636.1,388.3L636.8,386.0L637.5,399.9L638.3,394.0L639.0,386.8L639.7,393.4L640.4,387.6L641.1,397.2L641.8,400.8L642.5,391.7L643.2,391.5L643.9,385.1L644.7,381.9L645.4,397.7L646.1,401.8L646.8,394.4L647.5,394.4L648.2,396.2L648.9,385.4L649.6,395.8L650.3,394.5L651.1,397.2L651.8,398.1L652.5,389.2L653.2,402.6L653.9,389.1L654.6,389.2L655.3,392.4L656.0,397.9L656.8,400.8L657.5,394.0L658.2,403.6L658.9,408.8L659.6,401.8L660.3,393.1L661.0,394.9L661.7,394.6L662.4,403.3L663.2,394.0L663.9,400.5L664.6,399.3L665.3,395.2L666.0,387.3L666.7,394.0L667.4,399.5L668.1,404.2L668.9,401.8L669.6,403.9L670.3,404.2L671.0,388.4L671.7,403.5L672.4,390.5L673.1,419.5L673.8,397.2L674.5,400.6L675.3,398.7L676.0,409.4L676.7,402.5L677.4,387.3L678.1,400.0L678.8,401.0L679.5,402.2L680.2,407.4L680.9,405.6L681.7,406.8L682.4,402.9L683.1,398.3L683.8,406.3L684.5,418.3L685.2,409.0L685.9,390.1L686.6,398.5L687.4,396.8L688.1,398.6L688.8,408.0L689.5,408.9L690.2,415.8L690.9,407.0L691.6,406.3L692.3,411.3L693.0,409.5L693.8,419.3L694.5,399.6L695.2,401.8L695.9,393.9L696.6,395.8L697.3,408.0L698.0,415.0L698.7,403.4L699.5,409.1L700.2,421.5L700.9,414.7L701.6,410.7L702.3,413.3L703.0,414.7L703.7,400.9L704.4,402.8L705.1,413.5L705.9,398.5L706.6,393.7L707.3,409.9L708.0,428.8L708.7,417.1L709.4,410.1L710.1,411.0L710.8,405.2L711.5,410.9L712.3,411.0L713.0,409.2L713.7,399.4L714.4,409.1L715.1,405.5L715.8,407.2L716.5,422.3L717.2,420.4L718.0,412.3L718.7,416.8L719.4,403.1L720.1,402.3L720.8,413.9L721.5,415.6L722.2,414.0L722.9,411.8L723.6,414.6L724.4,406.5L725.1,418.9L725.8,406.1L726.5,414.0L727.2,407.8L727.9,419.5L728.6,401.5L729.3,414.8L730.1,415.0L730.8,407.7L731.5,419.3L732.2,413.7L732.9,414.0L733.6,414.5L734.3,428.8L735.0,409.7L735.7,406.8L736.5,405.7L737.2,419.0L737.9,410.6L738.6,413.5L739.3,418.2L740.0,411.8L740.7,416.0L741.4,412.0L742.1,403.8L742.9,415.6L743.6,417.0L744.3,421.0L745.0,418.6L745.7,419.2L746.4,409.9L747.1,411.8L747.8,406.4L748.6,414.5L749.3,406.6L750.0,426.3L750.7,416.4L751.4,415.5L752.1,414.0L752.8,425.8L753.5,416.9L754.2,410.1L755.0,414.2L755.7,418.5L756.4,412.5L757.1,411.3L757.8,418.8L758.5,420.5L759.2,416.9L759.9,420.9L760.7,418.9L761.4,407.5L762.1,412.4L762.8,412.6L763.5,423.2L764.2,422.0L764.9,411.4L765.6,418.6L766.3,421.9L767.1,420.2L767.8,414.8L768.5,409.5L769.2,412.5L769.9,428.0L770.6,413.2L771.3,404.4L772.0,437.2L772.7,419.4L773.5,423.9L774.2,417.0L774.9,418.6L775.6,414.8L776.3,417.4L777.0,419.3L777.7,403.5L778.4,414.4L779.2,421.5L779.9,419.6L780.6,418.0L781.3,428.2L782.0,421.5" stroke="#E855B4"/><path d="M54.0,426.2L54.7,416.4L55.4,413.7L56.1,415.3L56.8,415.3L57.6,417.7L58.3,431.9L59.0,400.1L59.7,403.1L60.4,411.2L61.1,423.8L61.8,431.7L62.5,422.5L63.3,419.5L64.0,412.3L64.7,412.2L65.4,418.8L66.1,422.3L66.8,423.0L67.5,410.8L68.2,414.0L68.9,408.9L69.7,416.6L70.4,416.3L71.1,418.5L71.8,405.3L72.5,420.6L73.2,420.9L73.9,420.9L74.6,407.4L75.3,424.3L76.1,415.3L76.8,424.5L77.5,409.0L78.2,408.0L78.9,415.0L79.6,421.5L80.3,422.3L81.0,407.7L81.8,421.8L82.5,422.6L83.2,409.1L83.9,420.3L84.6,418.2L85.3,415.7L86.0,406.9L86.7,413.9L87.4,396.8L88.2,415.4L88.9,420.8L89.6,417.0L90.3,427.8L91.0,423.9L91.7,404.6L92.4,416.8L93.1,411.6L93.9,413.8L94.6,415.7L95.3,409.6L96.0,402.2L96.7,410.4L97.4,425.1L98.1,419.9L98.8,420.8L99.5,427.4L100.3,409.4L101.0,413.6L101.7,409.7L102.4,413.1L103.1,414.0L103.8,414.4L104.5,415.7L105.2,412.3L105.9,417.0L106.7,417.5L107.4,403.5L108.1,400.2L108.8,416.6L109.5,416.5L110.2,408.6L110.9,413.3L111.6,422.6L112.4,419.5L113.1,412.1L113.8,411.0L114.5,409.6L115.2,414.2L115.9,415.9L116.6,421.5L117.3,414.1L118.0,399.4L118.8,400.6L119.5,403.4L120.2,418.3L120.9,413.5L121.6,410.8L122.3,415.7L123.0,405.6L123.7,409.9L124.5,410.0L125.2,409.0L125.9,412.0L126.6,404.4L127.3,408.4L128.0,426.5L128.7,419.8L129.4,404.9L130.1,407.9L130.9,411.4L131.6,401.7L132.3,397.8L133.0,401.7L133.7,398.2L134.4,423.2L135.1,408.9L135.8,406.0L136.5,412.2L137.3,412.0L138.0,409.3L138.7,409.5L139.4,409.0L140.1,407.0L140.8,405.6L141.5,413.2L142.2,412.9L143.0,407.8L143.7,400.5L144.4,413.4L145.1,402.4L145.8,397.4L146.5,400.2L147.2,408.9L147.9,404.7L148.6,401.2L149.4,418.8L150.1,409.8L150.8,410.1L151.5,405.3L152.2,401.0L152.9,406.2L153.6,401.0L154.3,399.2L155.1,415.1L155.8,409.1L156.5,396.3L157.2,411.0L157.9,401.9L158.6,411.7L159.3,399.2L160.0,401.5L160.7,396.0L161.5,402.5L162.2,390.9L162.9,400.5L163.6,407.5L164.3,405.8L165.0,404.1L165.7,401.9L166.4,403.9L167.1,407.7L167.9,408.3L168.6,403.0L169.3,403.9L170.0,394.8L170.7,396.7L171.4,398.4L172.1,405.9L172.8,399.2L173.6,400.7L174.3,391.4L175.0,404.0L175.7,401.7L176.4,400.1L177.1,405.3L177.8,409.0L178.5,389.1L179.2,396.6L180.0,395.4L180.7,398.8L181.4,401.0L182.1,389.1L182.8,399.7L183.5,401.1L184.2,404.1L184.9,392.6L185.7,408.1L186.4,390.6L187.1,396.5L187.8,399.0L188.5,397.7L189.2,401.1L189.9,393.9L190.6,394.8L191.3,391.9L192.1,393.0L192.8,400.1L193.5,389.7L194.2,393.7L194.9,386.7L195.6,390.9L196.3,401.2L197.0,402.6L197.7,391.5L198.5,398.6L199.2,393.7L199.9,390.0L200.6,386.6L201.3,391.4L202.0,400.3L202.7,391.1L203.4,382.4L204.2,380.2L204.9,393.0L205.6,401.3L206.3,392.3L207.0,390.2L207.7,391.5L208.4,388.6L209.1,380.2L209.8,391.3L210.6,390.8L211.3,395.4L212.0,384.5L212.7,388.2L213.4,388.1L214.1,390.0L214.8,382.4L215.5,387.4L216.3,403.3L217.0,379.9L217.7,381.7L218.4,377.1L219.1,392.1L219.8,389.3L220.5,383.7L221.2,397.3L221.9,380.0L222.7,382.1L223.4,389.9L224.1,375.3L224.8,381.8L225.5,380.6L226.2,391.3L226.9,378.1L227.6,390.8L228.3,380.6L229.1,385.8L229.8,384.0L230.5,387.7L231.2,382.0L231.9,380.8L232.6,379.9L233.3,377.8L234.0,380.1L234.8,383.6L235.5,394.3L236.2,386.9L236.9,385.9L237.6,377.8L238.3,370.1L239.0,375.2L239.7,380.8L240.4,385.4L241.2,378.3L241.9,379.6L242.6,380.8L243.3,388.0L244.0,377.3L244.7,371.6L245.4,371.3L246.1,378.6L246.9,379.4L247.6,380.5L248.3,387.2L249.0,380.5L249.7,380.4L250.4,382.8L251.1,366.9L251.8,371.1L252.5,378.8L253.3,381.5L254.0,375.3L254.7,378.4L255.4,372.6L256.1,365.3L256.8,378.0L257.5,383.3L258.2,376.3L259.0,369.9L259.7,366.2L260.4,371.0L261.1,378.3L261.8,377.1L262.5,380.2L263.2,375.6L263.9,379.8L264.6,372.0L265.4,359.5L266.1,378.7L266.8,372.2L267.5,366.1L268.2,361.4L268.9,370.0L269.6,377.9L270.3,357.8L271.0,372.0L271.8,372.5L272.5,368.7L273.2,374.0L273.9,364.6L274.6,367.9L275.3,371.0L276.0,357.9L276.7,364.8L277.5,361.2L278.2,362.2L278.9,369.2L279.6,368.7L280.3,359.1L281.0,359.4L281.7,368.0L282.4,359.7L283.1,364.9L283.9,367.6L284.6,364.1L285.3,360.2L286.0,350.9L286.7,350.2L287.4,353.7L288.1,358.6L288.8,365.6L289.6,365.8L290.3,360.2L291.0,351.0L291.7,349.4L292.4,353.0L293.1,353.9L293.8,360.9L294.5,347.4L295.2,356.9L296.0,338.7L296.7,350.4L297.4,353.1L298.1,352.2L298.8,351.4L299.5,356.9L300.2,364.8L300.9,345.4L301.6,347.8L302.4,348.9L303.1,353.6L303.8,348.1L304.5,340.9L305.2,348.5L305.9,340.0L306.6,340.0L307.3,347.9L308.1,340.1L308.8,341.5L309.5,343.9L310.2,344.3L310.9,348.8L311.6,349.4L312.3,346.3L313.0,350.3L313.7,345.2L314.5,347.8L315.2,338.2L315.9,344.5L316.6,340.3L317.3,334.3L318.0,339.3L318.7,331.4L319.4,344.0L320.2,345.7L320.9,335.4L321.6,337.3L322.3,338.4L323.0,342.2L323.7,340.7L324.4,342.8L325.1,326.9L325.8,325.2L326.6,346.8L327.3,334.7L328.0,344.8L328.7,339.3L329.4,331.0L330.1,338.0L330.8,319.7L331.5,337.1L332.2,338.2L333.0,337.2L333.7,331.7L334.4,329.2L335.1,332.4L335.8,326.0L336.5,322.3L337.2,328.4L337.9,324.3L338.7,326.9L339.4,334.9L340.1,336.4L340.8,329.4L341.5,329.0L342.2,312.3L342.9,321.5L343.6,324.0L344.3,316.7L345.1,333.0L345.8,329.9L346.5,321.4L347.2,310.0L347.9,325.3L348.6,336.7L349.3,312.7L350.0,315.7L350.8,311.2L351.5,315.5L352.2,315.7L352.9,310.1L353.6,307.6L354.3,319.2L355.0,297.1L355.7,300.5L356.4,301.5L357.2,286.0L357.9,283.7L358.6,219.8L359.3,88.4L360.0,90.7L360.7,85.3L361.4,89.4L362.1,92.1L362.8,90.3L363.6,92.4L364.3,81.2L365.0,82.6L365.7,87.6L366.4,88.3L367.1,94.6L367.8,89.8L368.5,84.6L369.3,94.1L370.0,90.3L370.7,84.9L371.4,80.1L372.1,79.7L372.8,90.3L373.5,93.4L374.2,88.8L374.9,91.3L375.7,89.9L376.4,80.0L377.1,77.1L377.8,85.2L378.5,88.6L379.2,88.8L379.9,97.6L380.6,92.0L381.4,90.7L382.1,75.4L382.8,81.3L383.5,86.2L384.2,92.2L384.9,100.3L385.6,86.2L386.3,81.0L387.0,90.7L387.8,84.7L388.5,85.2L389.2,93.1L389.9,84.8L390.6,80.1L391.3,85.9L392.0,87.7L392.7,86.0L393.4,94.4L394.2,87.4L394.9,83.3L395.6,89.0L396.3,82.3L397.0,87.6L397.7,96.5L398.4,90.0L399.1,89.1L399.9,85.9L400.6,89.7L401.3,83.5L402.0,87.2L402.7,86.5L403.4,89.6L404.1,88.9L404.8,80.9L405.5,85.3L406.3,91.2L407.0,92.5L407.7,80.8L408.4,82.2L409.1,87.1L409.8,86.7L410.5,93.0L411.2,94.4L412.0,92.2L412.7,85.9L413.4,86.4L414.1,89.3L414.8,84.0L415.5,82.8L416.2,86.4L416.9,83.4L417.6,89.6L418.4,89.9L419.1,85.8L419.8,85.7L420.5,85.9L421.2,91.8L421.9,83.5L422.6,91.1L423.3,91.9L424.0,94.3L424.8,84.2L425.5,78.2L426.2,78.2L426.9,84.1L427.6,95.2L428.3,94.1L429.0,92.9L429.7,90.7L430.5,81.6L431.2,82.6L431.9,85.6L432.6,83.9L433.3,92.1L434.0,93.3L434.7,91.8L435.4,85.2L436.1,83.1L436.9,81.4L437.6,82.4L438.3,92.8L439.0,92.6L439.7,89.9L440.4,94.8L441.1,92.1L441.8,81.7L442.6,80.2L443.3,82.1L444.0,88.2L444.7,88.6L445.4,85.4L446.1,90.1L446.8,87.4L447.5,82.7L448.2,90.0L449.0,91.9L449.7,87.1L450.4,83.6L451.1,83.7L451.8,84.2L452.5,83.1L453.2,93.2L453.9,90.7L454.6,85.0L455.4,89.5L456.1,93.3L456.8,93.7L457.5,91.3L458.2,89.4L458.9,91.3L459.6,83.7L460.3,76.2L461.1,83.2L461.8,80.9L462.5,86.1L463.2,93.8L463.9,90.9L464.6,92.1L465.3,86.6L466.0,90.1L466.7,81.2L467.5,85.5L468.2,96.5L468.9,82.7L469.6,78.1L470.3,86.0L471.0,82.3L471.7,91.0L472.4,88.5L473.2,93.6L473.9,91.3L474.6,94.1L475.3,200.4L476.0,278.2L476.7,290.8L477.4,314.0L478.1,313.8L478.8,310.1L479.6,328.3L480.3,330.5L481.0,323.4L481.7,338.3L482.4,334.7L483.1,334.5L483.8,327.1L484.5,333.4L485.2,328.7L486.0,337.8L486.7,329.9L487.4,330.2L488.1,332.2L488.8,346.2L489.5,340.0L490.2,339.5L490.9,340.5L491.7,344.2L492.4,324.1L493.1,329.0L493.8,337.9L494.5,337.1L495.2,340.3L495.9,326.7L496.6,336.2L497.3,341.6L498.1,354.9L498.8,342.2L499.5,342.5L500.2,337.5L500.9,330.1L501.6,339.5L502.3,336.8L503.0,339.0L503.8,339.4L504.5,336.1L505.2,347.0L505.9,340.2L506.6,336.8L507.3,336.6L508.0,335.4L508.7,345.9L509.4,359.1L510.2,335.5L510.9,330.4L511.6,331.2L512.3,347.6L513.0,350.8L513.7,346.9L514.4,325.4L515.1,339.9L515.8,348.2L516.6,348.0L517.3,333.9L518.0,336.9L518.7,341.4L519.4,349.8L520.1,352.7L520.8,333.6L521.5,344.7L522.3,348.7L523.0,345.3L523.7,322.8L524.4,332.7L525.1,340.2L525.8,348.6L526.5,335.5L527.2,341.6L527.9,353.0L528.7,350.9L529.4,340.7L530.1,345.5L530.8,341.7L531.5,354.5L532.2,343.0L532.9,342.1L533.6,341.4L534.4,348.2L535.1,346.8L535.8,338.6L536.5,343.4L537.2,346.2L537.9,351.1L538.6,346.2L539.3,358.0L540.0,334.4L540.8,338.3L541.5,347.4L542.2,346.0L542.9,353.2L543.6,345.5L544.3,354.5L545.0,352.3L545.7,349.8L546.4,347.4L547.2,347.4L547.9,351.0L548.6,354.7L549.3,348.7L550.0,349.7L550.7,348.1L551.4,349.9L552.1,337.8L552.9,353.6L553.6,344.5L554.3,353.0L555.0,353.3L555.7,350.9L556.4,360.2L557.1,358.6L557.8,352.7L558.5,356.7L559.3,361.8L560.0,352.6L560.7,363.1L561.4,351.6L562.1,353.4L562.8,349.4L563.5,347.5L564.2,365.0L565.0,349.8L565.7,360.4L566.4,359.9L567.1,362.6L567.8,368.9L568.5,352.7L569.2,365.7L569.9,348.2L570.6,359.0L571.4,360.0L572.1,365.9L572.8,348.1L573.5,366.3L574.2,362.4L574.9,362.5L575.6,359.8L576.3,369.5L577.0,379.8L577.8,377.5L578.5,351.4L579.2,347.6L579.9,364.0L580.6,353.3L581.3,364.3L582.0,370.3L582.7,382.0L583.5,362.5L584.2,356.4L584.9,371.7L585.6,366.9L586.3,361.0L587.0,358.4L587.7,381.5L588.4,372.3L589.1,367.8L589.9,375.6L590.6,367.7L591.3,367.0L592.0,361.3L592.7,369.5L593.4,363.6L594.1,369.1L594.8,374.5L595.6,372.7L596.3,375.4L597.0,378.4L597.7,368.4L598.4,356.5L599.1,377.0L599.8,379.3L600.5,371.5L601.2,372.4L602.0,372.3L602.7,377.5L603.4,376.5L604.1,369.7L604.8,383.0L605.5,382.9L606.2,358.9L606.9,368.1L607.7,375.0L608.4,391.7L609.1,381.0L609.8,371.8L610.5,376.0L611.2,377.9L611.9,363.4L612.6,376.6L613.3,379.5L614.1,391.0L614.8,388.2L615.5,383.5L616.2,377.5L616.9,384.4L617.6,366.2L618.3,381.5L619.0,387.8L619.7,368.8L620.5,375.1L621.2,378.7L621.9,393.0L622.6,390.8L623.3,378.2L624.0,386.2L624.7,380.3L625.4,377.6L626.2,372.5L626.9,373.2L627.6,384.1L628.3,388.2L629.0,391.3L629.7,395.6L630.4,394.0L631.1,378.8L631.8,377.3L632.6,383.5L633.3,392.7L634.0,383.4L634.7,388.9L635.4,388.7L636.1,387.5L636.8,391.0L637.5,392.8L638.3,379.6L639.0,383.0L639.7,386.3L640.4,385.8L641.1,391.3L641.8,396.8L642.5,385.1L643.2,383.7L643.9,393.6L644.7,400.6L645.4,383.3L646.1,385.0L646.8,385.4L647.5,388.4L648.2,395.8L648.9,394.7L649.6,386.9L650.3,394.5L651.1,394.8L651.8,387.6L652.5,384.9L653.2,395.9L653.9,391.6L654.6,384.9L655.3,399.1L656.0,395.3L656.8,391.2L657.5,389.2L658.2,390.3L658.9,394.7L659.6,391.3L660.3,395.3L661.0,398.2L661.7,400.6L662.4,398.1L663.2,396.4L663.9,397.1L664.6,385.0L665.3,392.6L666.0,383.2L666.7,388.8L667.4,401.6L668.1,399.4L668.9,396.9L669.6,398.8L670.3,403.3L671.0,396.1L671.7,401.1L672.4,383.7L673.1,391.1L673.8,394.5L674.5,392.3L675.3,402.2L676.0,404.2L676.7,400.0L677.4,405.0L678.1,399.0L678.8,391.3L679.5,392.6L680.2,398.3L680.9,399.1L681.7,413.9L682.4,402.8L683.1,396.8L683.8,395.0L684.5,402.9L685.2,405.4L685.9,388.4L686.6,402.4L687.4,394.9L688.1,401.1L688.8,397.9L689.5,398.3L690.2,407.4L690.9,401.2L691.6,401.4L692.3,414.9L693.0,414.9L693.8,408.0L694.5,397.4L695.2,392.6L695.9,388.2L696.6,391.9L697.3,414.3L698.0,415.0L698.7,410.7L699.5,398.9L700.2,410.9L700.9,399.1L701.6,406.7L702.3,407.3L703.0,412.1L703.7,398.1L704.4,404.5L705.1,398.7L705.9,408.2L706.6,403.3L707.3,422.5L708.0,413.8L708.7,402.4L709.4,391.6L710.1,403.3L710.8,404.4L711.5,414.3L712.3,409.0L713.0,402.4L713.7,398.3L714.4,404.1L715.1,414.2L715.8,403.2L716.5,403.7L717.2,419.4L718.0,406.4L718.7,415.6L719.4,406.1L720.1,401.4L720.8,401.7L721.5,410.6L722.2,408.0L722.9,403.3L723.6,415.6L724.4,405.4L725.1,404.5L725.8,407.6L726.5,410.1L727.2,408.5L727.9,416.3L728.6,402.7L729.3,407.2L730.1,415.5L730.8,405.6L731.5,411.3L732.2,413.1L732.9,403.7L733.6,414.4L734.3,416.3L735.0,409.1L735.7,405.2L736.5,404.2L737.2,406.3L737.9,417.4L738.6,409.2L739.3,411.2L740.0,418.3L740.7,415.1L741.4,418.1L742.1,394.4L742.9,409.5L743.6,409.0L744.3,402.9L745.0,406.1L745.7,406.8L746.4,408.8L747.1,413.9L747.8,417.0L748.6,416.7L749.3,409.3L750.0,414.7L750.7,414.0L751.4,401.6L752.1,409.1L752.8,414.4L753.5,421.1L754.2,401.6L755.0,420.5L755.7,418.2L756.4,412.3L757.1,419.3L757.8,408.3L758.5,416.6L759.2,407.3L759.9,412.2L760.7,404.7L761.4,396.4L762.1,410.3L762.8,412.9L763.5,433.1L764.2,421.5L764.9,409.9L765.6,419.9L766.3,408.5L767.1,413.6L767.8,411.0L768.5,413.8L769.2,404.3L769.9,408.0L770.6,415.2L771.3,406.5L772.0,435.1L772.7,418.7L773.5,422.0L774.2,412.0L774.9,412.1L775.6,409.5L776.3,410.4L777.0,419.4L777.7,396.5L778.4,412.9L779.2,418.2L779.9,424.4L780.6,411.7L781.3,418.6L782.0,416.8" stroke="#F0B43A"/><path d="M54.0,426.1L54.7,425.5L55.4,412.5L56.1,421.2L56.8,412.1L57.6,419.9L58.3,428.8L59.0,418.0L59.7,410.3L60.4,413.1L61.1,421.5L61.8,424.9L62.5,419.1L63.3,418.6L64.0,418.0L64.7,418.8L65.4,425.6L66.1,414.9L66.8,425.0L67.5,419.9L68.2,419.3L68.9,415.5L69.7,418.6L70.4,418.3L71.1,418.4L71.8,422.2L72.5,423.0L73.2,414.8L73.9,416.4L74.6,421.3L75.3,417.0L76.1,413.9L76.8,416.6L77.5,421.3L78.2,415.3L78.9,414.3L79.6,417.4L80.3,434.6L81.0,412.4L81.8,420.1L82.5,416.5L83.2,420.5L83.9,421.8L84.6,408.5L85.3,418.4L86.0,413.8L86.7,414.7L87.4,408.8L88.2,429.2L88.9,419.0L89.6,423.1L90.3,424.5L91.0,416.5L91.7,412.1L92.4,416.4L93.1,418.8L93.9,419.9L94.6,412.3L95.3,411.1L96.0,405.8L96.7,422.6L97.4,420.7L98.1,422.9L98.8,412.6L99.5,421.6L100.3,417.5L101.0,421.1L101.7,421.6L102.4,422.5L103.1,412.6L103.8,410.8L104.5,411.1L105.2,410.5L105.9,425.4L106.7,420.7L107.4,416.5L108.1,413.1L108.8,415.9L109.5,413.0L110.2,409.1L110.9,418.0L111.6,426.9L112.4,413.8L113.1,412.4L113.8,419.8L114.5,413.5L115.2,398.7L115.9,413.4L116.6,423.3L117.3,424.0L118.0,420.9L118.8,406.8L119.5,401.0L120.2,411.5L120.9,418.1L121.6,401.7L122.3,416.8L123.0,413.4L123.7,409.1L124.5,416.5L125.2,411.3L125.9,417.6L126.6,417.5L127.3,413.6L128.0,428.5L128.7,408.1L129.4,408.1L130.1,413.0L130.9,406.4L131.6,406.3L132.3,419.6L133.0,400.0L133.7,407.2L134.4,423.7L135.1,412.4L135.8,403.7L136.5,412.0L137.3,397.9L138.0,409.6L138.7,419.1L139.4,413.7L140.1,407.1L140.8,406.1L141.5,413.9L142.2,411.4L143.0,415.0L143.7,405.1L144.4,407.7L145.1,417.5L145.8,409.1L146.5,405.8L147.2,407.2L147.9,407.7L148.6,397.9L149.4,416.3L150.1,415.4L150.8,408.1L151.5,411.7L152.2,409.8L152.9,405.8L153.6,401.5L154.3,407.0L155.1,407.0L155.8,408.2L156.5,408.8L157.2,415.5L157.9,404.2L158.6,405.1L159.3,401.2L160.0,409.7L160.7,391.9L161.5,414.5L162.2,409.0L162.9,408.1L163.6,411.5L164.3,404.9L165.0,397.1L165.7,383.9L166.4,392.7L167.1,410.6L167.9,417.4L168.6,425.6L169.3,406.9L170.0,393.2L170.7,400.5L171.4,407.1L172.1,394.0L172.8,401.6L173.6,404.1L174.3,395.5L175.0,407.7L175.7,398.8L176.4,411.0L177.1,409.0L177.8,406.4L178.5,396.1L179.2,403.5L180.0,404.8L180.7,407.1L181.4,389.3L182.1,388.6L182.8,398.4L183.5,391.8L184.2,401.5L184.9,415.7L185.7,409.6L186.4,407.9L187.1,398.5L187.8,402.9L188.5,390.1L189.2,393.2L189.9,390.4L190.6,398.3L191.3,397.9L192.1,393.2L192.8,398.1L193.5,395.5L194.2,399.8L194.9,400.5L195.6,395.7L196.3,405.3L197.0,399.6L197.7,393.0L198.5,389.3L199.2,396.0L199.9,398.2L200.6,389.0L201.3,392.9L202.0,406.6L202.7,400.3L203.4,389.9L204.2,387.8L204.9,394.3L205.6,389.1L206.3,385.2L207.0,387.8L207.7,392.9L208.4,402.4L209.1,382.6L209.8,395.0L210.6,403.5L211.3,393.5L212.0,389.4L212.7,392.2L213.4,386.5L214.1,382.4L214.8,385.1L215.5,399.3L216.3,398.1L217.0,395.2L217.7,386.3L218.4,375.9L219.1,388.8L219.8,400.0L220.5,386.4L221.2,376.9L221.9,389.3L222.7,392.1L223.4,389.0L224.1,384.8L224.8,390.4L225.5,377.6L226.2,373.9L226.9,389.9L227.6,397.4L228.3,389.7L229.1,389.3L229.8,384.6L230.5,389.3L231.2,382.9L231.9,384.0L232.6,370.2L233.3,390.9L234.0,389.5L234.8,384.7L235.5,393.6L236.2,390.6L236.9,387.5L237.6,387.3L238.3,367.7L239.0,372.5L239.7,381.9L240.4,385.4L241.2,373.5L241.9,386.3L242.6,386.6L243.3,390.0L244.0,383.9L244.7,384.8L245.4,378.7L246.1,388.5L246.9,375.0L247.6,372.0L248.3,381.9L249.0,370.4L249.7,373.9L250.4,392.1L251.1,383.9L251.8,380.6L252.5,381.2L253.3,389.4L254.0,372.3L254.7,370.0L255.4,375.0L256.1,370.0L256.8,377.9L257.5,391.6L258.2,392.0L259.0,372.7L259.7,376.5L260.4,371.0L261.1,368.4L261.8,378.1L262.5,371.4L263.2,379.4L263.9,385.1L264.6,381.3L265.4,368.0L266.1,370.8L266.8,369.9L267.5,369.1L268.2,372.0L268.9,378.1L269.6,376.6L270.3,368.7L271.0,366.1L271.8,367.5L272.5,374.5L273.2,366.1L273.9,376.5L274.6,374.5L275.3,369.7L276.0,358.9L276.7,372.7L277.5,369.0L278.2,366.5L278.9,367.2L279.6,371.1L280.3,354.9L281.0,359.0L281.7,365.7L282.4,364.8L283.1,376.8L283.9,373.3L284.6,357.2L285.3,351.1L286.0,358.0L286.7,354.9L287.4,368.3L288.1,354.9L288.8,364.8L289.6,368.2L290.3,362.9L291.0,357.9L291.7,362.9L292.4,355.6L293.1,354.4L293.8,355.2L294.5,336.5L295.2,364.8L296.0,349.5L296.7,346.8L297.4,354.6L298.1,366.8L298.8,359.7L299.5,357.5L300.2,352.8L300.9,363.0L301.6,349.7L302.4,346.9L303.1,349.2L303.8,350.0L304.5,338.4L305.2,344.0L305.9,344.6L306.6,344.1L307.3,356.9L308.1,349.4L308.8,346.4L309.5,344.5L310.2,350.1L310.9,355.3L311.6,350.8L312.3,349.7L313.0,348.7L313.7,349.8L314.5,344.4L315.2,338.1L315.9,341.7L316.6,342.7L317.3,337.3L318.0,349.6L318.7,338.2L319.4,348.9L320.2,342.5L320.9,342.3L321.6,334.7L322.3,346.5L323.0,338.8L323.7,328.6L324.4,341.2L325.1,337.4L325.8,342.4L326.6,340.2L327.3,334.3L328.0,343.3L328.7,337.1L329.4,346.0L330.1,336.9L330.8,335.1L331.5,331.5L332.2,335.5L333.0,335.8L333.7,334.4L334.4,339.6L335.1,332.3L335.8,331.6L336.5,328.9L337.2,339.8L337.9,326.2L338.7,330.8L339.4,333.2L340.1,335.8L340.8,331.2L341.5,326.4L342.2,320.0L342.9,324.7L343.6,319.8L344.3,321.5L345.1,329.7L345.8,329.5L346.5,320.7L347.2,319.1L347.9,327.4L348.6,339.7L349.3,317.4L350.0,322.0L350.8,319.7L351.5,313.3L352.2,314.6L352.9,308.6L353.6,317.5L354.3,314.8L355.0,305.1L355.7,300.2L356.4,303.9L357.2,295.7L357.9,290.9L358.6,222.3L359.3,88.3L360.0,90.6L360.7,85.5L361.4,89.7L362.1,91.3L362.8,91.1L363.6,92.2L364.3,81.0L365.0,82.9L365.7,87.8L366.4,89.3L367.1,94.3L367.8,88.8L368.5,84.7L369.3,93.9L370.0,90.0L370.7,85.1L371.4,79.4L372.1,80.2L372.8,90.8L373.5,92.6L374.2,89.1L374.9,91.5L375.7,89.8L376.4,81.5L377.1,76.5L377.8,84.7L378.5,88.6L379.2,88.6L379.9,97.5L380.6,92.1L381.4,89.6L382.1,76.3L382.8,80.8L383.5,86.3L384.2,92.3L384.9,100.3L385.6,85.2L386.3,82.2L387.0,90.4L387.8,84.8L388.5,84.9L389.2,93.9L389.9,83.9L390.6,80.9L391.3,85.4L392.0,87.5L392.7,87.1L393.4,94.2L394.2,87.5L394.9,82.4L395.6,89.1L396.3,82.2L397.0,88.3L397.7,96.8L398.4,89.7L399.1,89.6L399.9,86.0L400.6,90.6L401.3,82.3L402.0,86.9L402.7,85.8L403.4,90.2L404.1,88.3L404.8,81.1L405.5,86.2L406.3,91.4L407.0,92.0L407.7,80.3L408.4,82.0L409.1,87.2L409.8,87.0L410.5,93.3L411.2,94.1L412.0,91.9L412.7,86.4L413.4,86.6L414.1,90.2L414.8,82.7L415.5,83.3L416.2,85.6L416.9,83.4L417.6,88.8L418.4,89.2L419.1,87.2L419.8,86.7L420.5,85.8L421.2,91.8L421.9,84.1L422.6,90.9L423.3,92.2L424.0,94.0L424.8,83.6L425.5,77.3L426.2,79.9L426.9,83.1L427.6,95.0L428.3,94.1L429.0,92.6L429.7,91.7L430.5,80.9L431.2,82.3L431.9,85.4L432.6,85.1L433.3,92.2L434.0,93.4L434.7,93.0L435.4,84.5L436.1,83.6L436.9,80.0L437.6,81.5L438.3,92.8L439.0,92.3L439.7,90.9L440.4,94.6L441.1,91.5L441.8,82.5L442.6,80.9L443.3,81.3L444.0,88.6L444.7,88.9L445.4,84.3L446.1,89.6L446.8,87.2L447.5,82.8L448.2,89.6L449.0,91.7L449.7,89.1L450.4,83.5L451.1,83.6L451.8,83.3L452.5,84.2L453.2,92.8L453.9,90.4L454.6,85.4L455.4,90.7L456.1,94.2L456.8,93.2L457.5,89.7L458.2,88.9L458.9,90.1L459.6,83.0L460.3,75.9L461.1,84.4L461.8,81.3L462.5,86.0L463.2,93.9L463.9,92.0L464.6,92.3L465.3,86.0L466.0,89.4L466.7,82.1L467.5,84.7L468.2,94.9L468.9,83.6L469.6,78.8L470.3,86.6L471.0,83.1L471.7,91.9L472.4,89.2L473.2,92.7L473.9,89.9L474.6,94.0L475.3,217.2L476.0,281.9L476.7,285.0L477.4,300.0L478.1,320.2L478.8,316.3L479.6,336.6L480.3,340.9L481.0,327.2L481.7,330.0L482.4,335.0L483.1,333.0L483.8,322.9L484.5,336.0L485.2,339.5L486.0,344.5L486.7,341.7L487.4,338.6L488.1,328.9L488.8,331.0L489.5,341.9L490.2,343.8L490.9,348.5L491.7,347.3L492.4,335.6L493.1,341.6L493.8,333.6L494.5,335.7L495.2,336.5L495.9,323.8L496.6,340.0L497.3,340.5L498.1,354.9L498.8,358.9L499.5,331.8L500.2,349.2L500.9,344.2L501.6,339.1L502.3,324.9L503.0,335.8L503.8,350.1L504.5,335.9L505.2,347.9L505.9,341.9L506.6,334.9L507.3,346.4L508.0,349.7L508.7,349.7L509.4,343.9L510.2,341.5L510.9,342.3L511.6,336.9L512.3,350.8L513.0,340.1L513.7,351.3L514.4,329.3L515.1,351.1L515.8,345.0L516.6,345.3L517.3,338.9L518.0,337.6L518.7,342.8L519.4,353.4L520.1,347.6L520.8,349.5L521.5,348.6L522.3,339.8L523.0,350.4L523.7,326.8L524.4,341.1L525.1,346.2L525.8,345.4L526.5,337.0L527.2,352.7L527.9,351.5L528.7,348.4L529.4,347.0L530.1,350.3L530.8,344.0L531.5,344.5L532.2,356.0L532.9,344.5L533.6,334.6L534.4,345.0L535.1,352.9L535.8,352.7L536.5,347.5L537.2,352.9L537.9,347.4L538.6,354.8L539.3,342.7L540.0,339.7L540.8,342.8L541.5,353.5L542.2,348.5L542.9,355.9L543.6,353.4L544.3,364.1L545.0,347.2L545.7,345.9L546.4,351.3L547.2,339.2L547.9,353.9L548.6,354.1L549.3,359.4L550.0,357.6L550.7,348.9L551.4,346.5L552.1,341.6L552.9,359.7L553.6,361.1L554.3,361.4L555.0,355.8L555.7,352.8L556.4,359.7L557.1,353.8L557.8,344.7L558.5,361.9L559.3,354.3L560.0,360.2L560.7,359.6L561.4,360.4L562.1,354.7L562.8,360.2L563.5,348.6L564.2,364.6L565.0,366.1L565.7,362.8L566.4,363.4L567.1,357.4L567.8,355.8L568.5,353.6L569.2,357.2L569.9,368.1L570.6,365.2L571.4,363.3L572.1,371.3L572.8,365.2L573.5,373.8L574.2,357.1L574.9,363.5L575.6,355.6L576.3,366.1L577.0,371.1L577.8,367.2L578.5,363.6L579.2,366.9L579.9,366.6L580.6,362.7L581.3,373.1L582.0,359.9L582.7,383.6L583.5,364.7L584.2,359.8L584.9,375.2L585.6,366.0L586.3,364.5L587.0,359.0L587.7,381.1L588.4,373.3L589.1,367.4L589.9,383.7L590.6,369.0L591.3,373.8L592.0,360.5L592.7,364.2L593.4,373.0L594.1,383.3L594.8,379.8L595.6,376.7L596.3,379.0L597.0,379.9L597.7,363.5L598.4,370.3L599.1,374.9L599.8,367.0L600.5,377.3L601.2,368.7L602.0,377.5L602.7,380.4L603.4,377.9L604.1,374.1L604.8,379.2L605.5,390.0L606.2,379.0L606.9,371.1L607.7,377.7L608.4,388.1L609.1,380.1L609.8,373.0L610.5,380.2L611.2,374.5L611.9,363.9L612.6,371.3L613.3,386.0L614.1,391.4L614.8,387.5L615.5,392.7L616.2,385.0L616.9,379.7L617.6,374.2L618.3,379.7L619.0,392.0L619.7,380.7L620.5,384.7L621.2,380.4L621.9,385.7L622.6,390.3L623.3,387.1L624.0,389.2L624.7,380.6L625.4,380.2L626.2,379.4L626.9,370.6L627.6,381.6L628.3,387.2L629.0,396.8L629.7,395.9L630.4,390.3L631.1,393.3L631.8,381.5L632.6,387.3L633.3,394.5L634.0,385.9L634.7,384.5L635.4,394.2L636.1,395.1L636.8,388.9L637.5,391.6L638.3,380.5L639.0,394.5L639.7,388.6L640.4,388.9L641.1,395.0L641.8,400.0L642.5,395.3L643.2,382.4L643.9,388.1L644.7,385.7L645.4,385.5L646.1,400.6L646.8,400.1L647.5,392.6L648.2,402.6L648.9,399.3L649.6,386.7L650.3,382.8L651.1,393.5L651.8,396.6L652.5,381.0L653.2,389.2L653.9,398.0L654.6,389.4L655.3,395.7L656.0,398.0L656.8,393.7L657.5,387.4L658.2,402.5L658.9,411.9L659.6,399.5L660.3,396.6L661.0,396.4L661.7,393.4L662.4,392.5L663.2,396.3L663.9,399.2L664.6,403.1L665.3,401.0L666.0,389.8L666.7,393.5L667.4,394.3L668.1,402.3L668.9,392.4L669.6,393.6L670.3,407.2L671.0,400.9L671.7,404.0L672.4,393.4L673.1,399.5L673.8,392.4L674.5,399.0L675.3,400.0L676.0,412.0L676.7,401.3L677.4,395.1L678.1,401.6L678.8,387.8L679.5,395.6L680.2,407.8L680.9,403.1L681.7,409.1L682.4,404.2L683.1,410.3L683.8,407.6L684.5,409.2L685.2,406.6L685.9,385.7L686.6,393.0L687.4,395.0L688.1,395.4L688.8,406.5L689.5,406.5L690.2,417.8L690.9,403.7L691.6,405.8L692.3,415.8L693.0,407.3L693.8,410.6L694.5,400.5L695.2,401.8L695.9,391.7L696.6,400.5L697.3,415.8L698.0,417.3L698.7,405.0L699.5,403.3L700.2,407.8L700.9,407.4L701.6,409.7L702.3,405.8L703.0,405.7L703.7,399.5L704.4,405.0L705.1,415.7L705.9,413.4L706.6,408.9L707.3,409.0L708.0,422.4L708.7,399.7L709.4,398.6L710.1,405.3L710.8,413.8L711.5,415.1L712.3,404.2L713.0,418.8L713.7,403.1L714.4,406.3L715.1,409.0L715.8,400.5L716.5,409.7L717.2,415.8L718.0,411.0L718.7,428.6L719.4,408.9L720.1,395.8L720.8,404.4L721.5,402.1L722.2,410.0L722.9,412.9L723.6,407.2L724.4,418.6L725.1,412.5L725.8,424.2L726.5,411.5L727.2,401.6L727.9,424.2L728.6,394.3L729.3,411.7L730.1,421.6L730.8,408.4L731.5,412.9L732.2,408.6L732.9,406.6L733.6,414.1L734.3,425.2L735.0,415.9L735.7,403.6L736.5,403.7L737.2,417.2L737.9,414.3L738.6,409.4L739.3,407.5L740.0,414.3L740.7,412.1L741.4,414.2L742.1,405.8L742.9,422.5L743.6,420.5L744.3,411.7L745.0,414.3L745.7,408.9L746.4,408.8L747.1,408.9L747.8,412.4L748.6,420.4L749.3,415.2L750.0,422.3L750.7,411.7L751.4,413.4L752.1,408.0L752.8,414.7L753.5,421.1L754.2,411.2L755.0,416.9L755.7,421.1L756.4,413.3L757.1,416.0L757.8,406.6L758.5,408.9L759.2,402.4L759.9,421.5L760.7,412.4L761.4,411.9L762.1,420.5L762.8,425.7L763.5,420.9L764.2,417.6L764.9,408.0L765.6,420.3L766.3,411.7L767.1,424.3L767.8,416.0L768.5,414.3L769.2,412.2L769.9,415.8L770.6,412.7L771.3,400.3L772.0,429.4L772.7,430.0L773.5,430.7L774.2,413.8L774.9,407.3L775.6,411.8L776.3,413.3L777.0,418.1L777.7,406.4L778.4,413.2L779.2,419.6L779.9,417.5L780.6,418.0L781.3,427.6L782.0,423.8" stroke="#6A9AF0"/><path d="M54.0,426.4L54.7,420.1L55.4,405.8L56.1,419.9L56.8,416.6L57.6,418.8L58.3,436.6L59.0,406.7L59.7,400.0L60.4,409.2L61.1,430.4L61.8,435.7L62.5,422.6L63.3,408.6L64.0,412.5L64.7,411.5L65.4,416.1L66.1,416.3L66.8,411.8L67.5,424.5L68.2,417.9L68.9,418.8L69.7,415.0L70.4,426.7L71.1,415.8L71.8,413.6L72.5,415.7L73.2,408.8L73.9,425.5L74.6,414.8L75.3,427.0L76.1,408.8L76.8,414.5L77.5,409.9L78.2,418.8L78.9,416.5L79.6,412.8L80.3,425.7L81.0,412.6L81.8,432.9L82.5,413.3L83.2,411.2L83.9,421.5L84.6,409.6L85.3,406.0L86.0,405.6L86.7,415.3L87.4,405.9L88.2,431.4L88.9,420.0L89.6,421.2L90.3,425.4L91.0,410.5L91.7,410.1L92.4,414.9L93.1,423.2L93.9,422.2L94.6,414.5L95.3,409.6L96.0,409.0L96.7,414.8L97.4,411.2L98.1,418.3L98.8,410.4L99.5,421.7L100.3,413.8L101.0,424.1L101.7,414.3L102.4,416.0L103.1,402.1L103.8,414.1L104.5,412.2L105.2,427.2L105.9,418.0L106.7,411.1L107.4,409.2L108.1,415.4L108.8,410.2L109.5,407.2L110.2,418.1L110.9,419.1L111.6,417.3L112.4,413.8L113.1,410.4L113.8,415.7L114.5,409.7L115.2,419.4L115.9,406.8L116.6,409.4L117.3,414.2L118.0,409.1L118.8,406.3L119.5,411.4L120.2,416.4L120.9,416.1L121.6,401.0L122.3,414.1L123.0,413.5L123.7,410.7L124.5,408.2L125.2,413.1L125.9,412.0L126.6,405.4L127.3,415.4L128.0,429.9L128.7,409.7L129.4,405.5L130.1,407.0L130.9,404.9L131.6,395.1L132.3,410.9L133.0,414.5L133.7,407.0L134.4,424.6L135.1,406.1L135.8,404.7L136.5,412.4L137.3,409.9L138.0,402.6L138.7,403.1L139.4,414.4L140.1,406.2L140.8,399.0L141.5,404.6L142.2,407.9L143.0,418.8L143.7,417.5L144.4,415.5L145.1,413.8L145.8,402.0L146.5,403.1L147.2,405.9L147.9,403.3L148.6,393.7L149.4,411.5L150.1,394.2L150.8,410.0L151.5,414.9L152.2,412.2L152.9,404.8L153.6,401.8L154.3,410.9L155.1,407.3L155.8,395.0L156.5,404.6L157.2,419.0L157.9,403.3L158.6,403.0L159.3,402.6L160.0,406.3L160.7,403.8L161.5,397.1L162.2,396.5L162.9,412.6L163.6,407.6L164.3,404.4L165.0,405.1L165.7,391.1L166.4,391.6L167.1,402.3L167.9,405.6L168.6,420.4L169.3,408.0L170.0,393.6L170.7,393.5L171.4,396.7L172.1,401.4L172.8,400.7L173.6,405.3L174.3,406.2L175.0,415.2L175.7,392.7L176.4,396.4L177.1,399.0L177.8,395.6L178.5,399.1L179.2,405.7L180.0,398.7L180.7,399.2L181.4,401.1L182.1,384.5L182.8,399.1L183.5,406.1L184.2,402.9L184.9,404.5L185.7,404.5L186.4,392.3L187.1,384.6L187.8,398.2L188.5,402.4L189.2,407.3L189.9,395.9L190.6,387.5L191.3,396.0L192.1,392.9L192.8,400.0L193.5,390.3L194.2,398.9L194.9,390.3L195.6,390.4L196.3,392.2L197.0,403.3L197.7,388.8L198.5,397.1L199.2,396.7L199.9,400.7L200.6,386.6L201.3,392.1L202.0,404.2L202.7,386.3L203.4,385.4L204.2,377.1L204.9,403.7L205.6,393.5L206.3,386.1L207.0,388.6L207.7,388.8L208.4,396.6L209.1,381.5L209.8,383.1L210.6,402.7L211.3,400.0L212.0,387.6L212.7,393.2L213.4,384.5L214.1,381.6L214.8,391.9L215.5,387.9L216.3,395.6L217.0,384.2L217.7,386.1L218.4,378.2L219.1,389.5L219.8,398.4L220.5,385.1L221.2,375.7L221.9,382.7L222.7,379.8L223.4,383.9L224.1,383.1L224.8,394.6L225.5,383.0L226.2,388.0L226.9,393.9L227.6,391.2L228.3,381.0L229.1,379.7L229.8,386.7L230.5,392.1L231.2,376.2L231.9,370.8L232.6,379.3L233.3,382.3L234.0,387.5L234.8,387.2L235.5,383.7L236.2,386.6L236.9,386.2L237.6,387.9L238.3,370.6L239.0,380.0L239.7,383.8L240.4,381.4L241.2,367.2L241.9,385.2L242.6,375.1L243.3,381.7L244.0,379.0L244.7,388.0L245.4,380.1L246.1,385.0L246.9,380.8L247.6,364.1L248.3,371.7L249.0,369.9L249.7,381.2L250.4,395.4L251.1,389.0L251.8,368.9L252.5,381.3L253.3,392.9L254.0,375.3L254.7,365.7L255.4,370.3L256.1,372.3L256.8,371.5L257.5,373.5L258.2,386.3L259.0,369.0L259.7,380.9L260.4,380.3L261.1,372.8L261.8,364.9L262.5,367.4L263.2,385.3L263.9,377.2L264.6,379.9L265.4,370.5L266.1,372.8L266.8,371.1L267.5,367.6L268.2,375.0L268.9,365.2L269.6,366.4L270.3,361.3L271.0,371.0L271.8,372.9L272.5,374.7L273.2,371.5L273.9,367.2L274.6,372.1L275.3,369.4L276.0,348.1L276.7,363.0L277.5,365.2L278.2,373.8L278.9,365.2L279.6,381.3L280.3,363.0L281.0,347.4L281.7,351.8L282.4,349.7L283.1,372.4L283.9,380.0L284.6,364.0L285.3,351.0L286.0,352.4L286.7,361.3L287.4,361.2L288.1,361.9L288.8,364.3L289.6,367.3L290.3,362.8L291.0,344.2L291.7,354.4L292.4,348.8L293.1,351.4L293.8,369.6L294.5,343.7L295.2,356.0L296.0,342.1L296.7,344.9L297.4,360.0L298.1,355.8L298.8,354.5L299.5,353.8L300.2,360.7L300.9,349.7L301.6,347.3L302.4,351.3L303.1,350.8L303.8,348.9L304.5,347.3L305.2,339.0L305.9,340.1L306.6,333.6L307.3,351.5L308.1,342.6L308.8,347.0L309.5,352.1L310.2,354.2L310.9,355.0L311.6,347.8L312.3,340.7L313.0,345.5L313.7,350.2L314.5,342.8L315.2,335.0L315.9,329.6L316.6,339.1L317.3,342.1L318.0,347.3L318.7,344.0L319.4,341.7L320.2,342.6L320.9,333.7L321.6,344.5L322.3,342.1L323.0,342.0L323.7,340.2L324.4,333.8L325.1,332.6L325.8,329.5L326.6,337.5L327.3,326.8L328.0,342.1L328.7,340.9L329.4,335.9L330.1,341.0L330.8,328.3L331.5,327.9L332.2,336.4L333.0,343.4L333.7,333.1L334.4,333.3L335.1,330.3L335.8,335.0L336.5,322.0L337.2,337.3L337.9,322.8L338.7,330.7L339.4,336.9L340.1,331.6L340.8,324.3L341.5,323.6L342.2,316.5L342.9,322.5L343.6,318.9L344.3,321.7L345.1,334.1L345.8,323.0L346.5,329.9L347.2,316.2L347.9,318.8L348.6,337.9L349.3,307.1L350.0,317.2L350.8,314.2L351.5,315.1L352.2,317.0L352.9,323.0L353.6,311.9L354.3,310.9L355.0,296.8L355.7,301.5L356.4,299.8L357.2,288.8L357.9,290.7L358.6,223.4L359.3,87.6L360.0,91.4L360.7,86.1L361.4,89.0L362.1,91.0L362.8,91.1L363.6,92.5L364.3,80.2L365.0,82.5L365.7,88.2L366.4,88.8L367.1,94.1L367.8,90.1L368.5,85.1L369.3,94.3L370.0,90.8L370.7,83.9L371.4,79.1L372.1,80.2L372.8,89.3L373.5,93.7L374.2,88.3L374.9,91.9L375.7,89.3L376.4,81.5L377.1,76.7L377.8,85.6L378.5,89.8L379.2,88.2L379.9,98.6L380.6,91.0L381.4,90.2L382.1,75.4L382.8,80.6L383.5,85.8L384.2,92.1L384.9,99.6L385.6,86.6L386.3,81.8L387.0,89.8L387.8,85.3L388.5,86.1L389.2,94.0L389.9,84.9L390.6,80.6L391.3,85.3L392.0,87.2L392.7,85.6L393.4,93.6L394.2,87.0L394.9,82.9L395.6,90.0L396.3,81.8L397.0,88.9L397.7,96.6L398.4,89.7L399.1,90.1L399.9,85.2L400.6,90.4L401.3,83.2L402.0,87.9L402.7,85.4L403.4,89.3L404.1,87.6L404.8,81.1L405.5,86.2L406.3,92.3L407.0,92.2L407.7,81.1L408.4,81.4L409.1,87.3L409.8,85.8L410.5,92.3L411.2,93.9L412.0,92.7L412.7,87.3L413.4,86.1L414.1,89.2L414.8,84.5L415.5,83.1L416.2,84.5L416.9,83.3L417.6,90.1L418.4,90.6L419.1,86.4L419.8,86.4L420.5,84.8L421.2,91.0L421.9,84.1L422.6,91.4L423.3,92.1L424.0,93.6L424.8,84.6L425.5,77.7L426.2,79.6L426.9,83.6L427.6,94.9L428.3,93.8L429.0,92.2L429.7,90.4L430.5,81.7L431.2,83.2L431.9,84.3L432.6,84.9L433.3,93.7L434.0,94.0L434.7,92.6L435.4,84.7L436.1,82.7L436.9,80.8L437.6,81.6L438.3,93.0L439.0,91.3L439.7,89.9L440.4,95.8L441.1,91.9L441.8,82.2L442.6,79.9L443.3,82.3L444.0,88.5L444.7,88.5L445.4,84.9L446.1,90.5L446.8,87.3L447.5,81.7L448.2,90.5L449.0,91.7L449.7,87.8L450.4,84.2L451.1,82.8L451.8,84.9L452.5,83.7L453.2,92.3L453.9,89.5L454.6,85.5L455.4,90.8L456.1,93.3L456.8,93.5L457.5,92.1L458.2,89.0L458.9,90.3L459.6,83.0L460.3,76.6L461.1,84.0L461.8,80.1L462.5,86.1L463.2,93.0L463.9,91.8L464.6,92.2L465.3,86.3L466.0,90.9L466.7,81.3L467.5,84.5L468.2,95.3L468.9,83.6L469.6,78.1L470.3,86.4L471.0,82.7L471.7,92.8L472.4,88.4L473.2,93.4L473.9,91.6L474.6,92.7L475.3,208.3L476.0,281.0L476.7,285.8L477.4,305.4L478.1,322.6L478.8,319.4L479.6,338.0L480.3,323.4L481.0,318.5L481.7,325.0L482.4,338.2L483.1,332.8L483.8,330.3L484.5,335.6L485.2,328.9L486.0,331.4L486.7,336.9L487.4,333.8L488.1,337.5L488.8,338.9L489.5,340.5L490.2,341.1L490.9,341.3L491.7,340.7L492.4,329.0L493.1,338.1L493.8,341.1L494.5,342.4L495.2,338.4L495.9,319.0L496.6,345.0L497.3,340.5L498.1,342.9L498.8,346.5L499.5,332.0L500.2,337.3L500.9,337.4L501.6,343.7L502.3,338.2L503.0,339.9L503.8,348.7L504.5,335.7L505.2,338.2L505.9,337.3L506.6,333.1L507.3,345.1L508.0,343.7L508.7,346.8L509.4,345.6L510.2,340.0L510.9,335.3L511.6,336.5L512.3,339.8L513.0,354.7L513.7,346.3L514.4,331.2L515.1,339.2L515.8,336.4L516.6,343.9L517.3,343.6L518.0,357.9L518.7,340.7L519.4,341.4L520.1,344.3L520.8,341.7L521.5,343.1L522.3,337.7L523.0,339.6L523.7,332.7L524.4,347.2L525.1,343.7L525.8,345.0L526.5,339.4L527.2,347.3L527.9,351.5L528.7,350.4L529.4,330.9L530.1,352.2L530.8,343.3L531.5,341.0L532.2,347.7L532.9,341.5L533.6,335.7L534.4,358.8L535.1,358.9L535.8,338.2L536.5,337.1L537.2,346.3L537.9,349.1L538.6,352.4L539.3,352.0L540.0,344.2L540.8,336.0L541.5,344.4L542.2,354.4L542.9,347.9L543.6,343.5L544.3,354.0L545.0,348.5L545.7,344.1L546.4,350.7L547.2,354.5L547.9,350.0L548.6,354.5L549.3,359.2L550.0,358.0L550.7,348.6L551.4,344.7L552.1,338.0L552.9,356.7L553.6,347.4L554.3,342.7L555.0,355.2L555.7,357.7L556.4,360.0L557.1,351.6L557.8,354.0L558.5,366.2L559.3,353.0L560.0,342.2L560.7,355.2L561.4,359.3L562.1,357.1L562.8,349.6L563.5,357.6L564.2,371.6L565.0,359.9L565.7,355.4L566.4,358.7L567.1,364.5L567.8,360.5L568.5,353.0L569.2,363.9L569.9,365.3L570.6,359.4L571.4,353.7L572.1,358.8L572.8,357.9L573.5,365.3L574.2,353.3L574.9,361.3L575.6,361.4L576.3,369.1L577.0,372.1L577.8,380.8L578.5,363.7L579.2,361.2L579.9,363.7L580.6,349.1L581.3,360.2L582.0,367.4L582.7,377.9L583.5,371.2L584.2,355.6L584.9,385.1L585.6,359.4L586.3,366.4L587.0,354.5L587.7,374.5L588.4,363.2L589.1,363.3L589.9,376.7L590.6,368.3L591.3,378.0L592.0,373.0L592.7,376.1L593.4,366.5L594.1,370.5L594.8,376.2L595.6,366.4L596.3,372.2L597.0,381.2L597.7,368.4L598.4,361.5L599.1,367.6L599.8,378.1L600.5,380.4L601.2,367.3L602.0,365.8L602.7,387.0L603.4,380.0L604.1,371.7L604.8,373.1L605.5,375.8L606.2,373.1L606.9,372.6L607.7,379.8L608.4,392.4L609.1,372.5L609.8,370.3L610.5,372.3L611.2,375.0L611.9,374.1L612.6,371.9L613.3,381.3L614.1,390.7L614.8,389.7L615.5,391.2L616.2,382.0L616.9,374.3L617.6,374.8L618.3,375.4L619.0,386.6L619.7,373.3L620.5,371.9L621.2,384.7L621.9,387.3L622.6,394.4L623.3,383.8L624.0,383.7L624.7,382.1L625.4,379.5L626.2,379.9L626.9,372.3L627.6,389.3L628.3,389.0L629.0,386.6L629.7,389.8L630.4,385.7L631.1,377.0L631.8,387.0L632.6,380.1L633.3,395.8L634.0,395.4L634.7,375.1L635.4,393.8L636.1,381.0L636.8,389.9L637.5,393.6L638.3,386.3L639.0,384.4L639.7,406.5L640.4,395.4L641.1,379.4L641.8,385.7L642.5,389.0L643.2,383.6L643.9,397.5L644.7,387.1L645.4,389.8L646.1,392.1L646.8,383.9L647.5,390.6L648.2,390.6L648.9,393.1L649.6,388.6L650.3,394.6L651.1,393.5L651.8,400.1L652.5,391.4L653.2,388.5L653.9,392.3L654.6,397.2L655.3,390.1L656.0,383.1L656.8,391.9L657.5,394.2L658.2,398.1L658.9,396.3L659.6,391.5L660.3,396.2L661.0,395.4L661.7,392.1L662.4,401.5L663.2,394.6L663.9,397.2L664.6,389.8L665.3,395.2L666.0,379.4L666.7,393.4L667.4,401.8L668.1,399.4L668.9,391.3L669.6,403.6L670.3,403.4L671.0,394.7L671.7,400.9L672.4,395.6L673.1,398.7L673.8,394.2L674.5,403.5L675.3,399.4L676.0,396.0L676.7,394.6L677.4,389.8L678.1,401.8L678.8,391.0L679.5,402.7L680.2,403.1L680.9,402.2L681.7,409.3L682.4,400.2L683.1,395.1L683.8,410.2L684.5,406.4L685.2,398.5L685.9,392.1L686.6,387.8L687.4,396.4L688.1,399.3L688.8,410.2L689.5,398.0L690.2,414.1L690.9,404.8L691.6,392.2L692.3,412.9L693.0,412.1L693.8,409.7L694.5,405.3L695.2,399.2L695.9,388.1L696.6,392.0L697.3,407.2L698.0,416.1L698.7,409.3L699.5,403.2L700.2,406.1L700.9,413.3L701.6,412.8L702.3,401.7L703.0,402.8L703.7,403.7L704.4,398.9L705.1,412.5L705.9,401.5L706.6,400.0L707.3,417.3L708.0,417.7L708.7,404.1L709.4,395.4L710.1,406.2L710.8,393.3L711.5,414.4L712.3,407.5L713.0,414.6L713.7,409.0L714.4,406.7L715.1,410.9L715.8,398.3L716.5,406.2L717.2,410.4L718.0,407.5L718.7,417.3L719.4,399.8L720.1,403.9L720.8,407.2L721.5,419.8L722.2,410.1L722.9,411.0L723.6,410.6L724.4,406.9L725.1,405.7L725.8,409.3L726.5,406.6L727.2,406.9L727.9,421.3L728.6,397.1L729.3,406.6L730.1,409.5L730.8,411.0L731.5,407.3L732.2,409.2L732.9,408.3L733.6,415.7L734.3,411.9L735.0,411.5L735.7,407.1L736.5,411.3L737.2,425.8L737.9,407.8L738.6,399.1L739.3,411.8L740.0,419.2L740.7,413.1L741.4,408.3L742.1,403.6L742.9,406.6L743.6,414.8L744.3,407.8L745.0,425.4L745.7,413.7L746.4,416.5L747.1,399.2L747.8,402.9L748.6,409.9L749.3,407.4L750.0,419.8L750.7,417.1L751.4,410.3L752.1,409.8L752.8,412.0L753.5,422.9L754.2,414.6L755.0,411.5L755.7,419.4L756.4,412.7L757.1,411.0L757.8,405.3L758.5,420.8L759.2,405.6L759.9,411.1L760.7,403.6L761.4,408.1L762.1,417.8L762.8,421.3L763.5,414.9L764.2,409.3L764.9,414.1L765.6,423.0L766.3,412.8L767.1,422.5L767.8,412.0L768.5,415.8L769.2,402.2L769.9,407.5L770.6,411.9L771.3,403.5L772.0,432.9L772.7,420.2L773.5,430.0L774.2,414.8L774.9,405.3L775.6,415.4L776.3,412.3L777.0,416.9L777.7,405.1L778.4,415.8L779.2,412.6L779.9,413.7L780.6,418.9L781.3,422.0L782.0,417.8" stroke="#F47E78"/></g>
<g stroke="#dcdcdc" stroke-width="1"><line x1="63.5" y1="60" x2="63.5" y2="66"/><line x1="63.5" y1="434" x2="63.5" y2="428"/><line x1="87.5" y1="60" x2="87.5" y2="63"/><line x1="87.5" y1="434" x2="87.5" y2="431"/><line x1="110.5" y1="60" x2="110.5" y2="63"/><line x1="110.5" y1="434" x2="110.5" y2="431"/><line x1="134.5" y1="60" x2="134.5" y2="63"/><line x1="134.5" y1="434" x2="134.5" y2="431"/><line x1="158.5" y1="60" x2="158.5" y2="63"/><line x1="158.5" y1="434" x2="158.5" y2="431"/><line x1="181.5" y1="60" x2="181.5" y2="66"/><line x1="181.5" y1="434" x2="181.5" y2="428"/><line x1="205.5" y1="60" x2="205.5" y2="63"/><line x1="205.5" y1="434" x2="205.5" y2="431"/><line x1="228.5" y1="60" x2="228.5" y2="63"/><line x1="228.5" y1="434" x2="228.5" y2="431"/><line x1="252.5" y1="60" x2="252.5" y2="63"/><line x1="252.5" y1="434" x2="252.5" y2="431"/><line x1="276.5" y1="60" x2="276.5" y2="63"/><line x1="276.5" y1="434" x2="276.5" y2="431"/><line x1="299.5" y1="60" x2="299.5" y2="66"/><line x1="299.5" y1="434" x2="299.5" y2="428"/><line x1="323.5" y1="60" x2="323.5" y2="63"/><line x1="323.5" y1="434" x2="323.5" y2="431"/><line x1="347.5" y1="60" x2="347.5" y2="63"/><line x1="347.5" y1="434" x2="347.5" y2="431"/><line x1="370.5" y1="60" x2="370.5" y2="63"/><line x1="370.5" y1="434" x2="370.5" y2="431"/><line x1="394.5" y1="60" x2="394.5" y2="63"/><line x1="394.5" y1="434" x2="394.5" y2="431"/><line x1="418.5" y1="60" x2="418.5" y2="66"/><line x1="418.5" y1="434" x2="418.5" y2="428"/><line x1="441.5" y1="60" x2="441.5" y2="63"/><line x1="441.5" y1="434" x2="441.5" y2="431"/><line x1="465.5" y1="60" x2="465.5" y2="63"/><line x1="465.5" y1="434" x2="465.5" y2="431"/><line x1="488.5" y1="60" x2="488.5" y2="63"/><line x1="488.5" y1="434" x2="488.5" y2="431"/><line x1="512.5" y1="60" x2="512.5" y2="63"/><line x1="512.5" y1="434" x2="512.5" y2="431"/><line x1="536.5" y1="60" x2="536.5" y2="66"/><line x1="536.5" y1="434" x2="536.5" y2="428"/><line x1="559.5" y1="60" x2="559.5" y2="63"/><line x1="559.5" y1="434" x2="559.5" y2="431"/><line x1="583.5" y1="60" x2="583.5" y2="63"/><line x1="583.5" y1="434" x2="583.5" y2="431"/><line x1="607.5" y1="60" x2="607.5" y2="63"/><line x1="607.5" y1="434" x2="607.5" y2="431"/><line x1="630.5" y1="60" x2="630.5" y2="63"/><line x1="630.5" y1="434" x2="630.5" y2="431"/><line x1="654.5" y1="60" x2="654.5" y2="66"/><line x1="654.5" y1="434" x2="654.5" y2="428"/><line x1="677.5" y1="60" x2="677.5" y2="63"/><line x1="677.5" y1="434" x2="677.5" y2="431"/><line x1="701.5" y1="60" x2="701.5" y2="63"/><line x1="701.5" y1="434" x2="701.5" y2="431"/><line x1="725.5" y1="60" x2="725.5" y2="63"/><line x1="725.5" y1="434" x2="725.5" y2="431"/><line x1="748.5" y1="60" x2="748.5" y2="63"/><line x1="748.5" y1="434" x2="748.5" y2="431"/><line x1="772.5" y1="60" x2="772.5" y2="66"/><line x1="772.5" y1="434" x2="772.5" y2="428"/><line x1="55" y1="60.5" x2="61" y2="60.5"/><line x1="780" y1="60.5" x2="774" y2="60.5"/><line x1="55" y1="76.5" x2="58" y2="76.5"/><line x1="780" y1="76.5" x2="777" y2="76.5"/><line x1="55" y1="91.5" x2="61" y2="91.5"/><line x1="780" y1="91.5" x2="774" y2="91.5"/><line x1="55" y1="107.5" x2="58" y2="107.5"/><line x1="780" y1="107.5" x2="777" y2="107.5"/><line x1="55" y1="122.5" x2="61" y2="122.5"/><line x1="780" y1="122.5" x2="774" y2="122.5"/><line x1="55" y1="138.5" x2="58" y2="138.5"/><line x1="780" y1="138.5" x2="777" y2="138.5"/><line x1="55" y1="154.5" x2="61" y2="154.5"/><line x1="780" y1="154.5" x2="774" y2="154.5"/><line x1="55" y1="169.5" x2="58" y2="169.5"/><line x1="780" y1="169.5" x2="777" y2="169.5"/><line x1="55" y1="185.5" x2="61" y2="185.5"/><line x1="780" y1="185.5" x2="774" y2="185.5"/><line x1="55" y1="200.5" x2="58" y2="200.5"/><line x1="780" y1="200.5" x2="777" y2="200.5"/><line x1="55" y1="216.5" x2="61" y2="216.5"/><line x1="780" y1="216.5" x2="774" y2="216.5"/><line x1="55" y1="231.5" x2="58" y2="231.5"/><line x1="780" y1="231.5" x2="777" y2="231.5"/><line x1="55" y1="247.5" x2="61" y2="247.5"/><line x1="780" y1="247.5" x2="774" y2="247.5"/><line x1="55" y1="263.5" x2="58" y2="263.5"/><line x1="780" y1="263.5" x2="777" y2="263.5"/><line x1="55" y1="278.5" x2="61" y2="278.5"/><line x1="780" y1="278.5" x2="774" y2="278.5"/><line x1="55" y1="294.5" x2="58" y2="294.5"/><line x1="780" y1="294.5" x2="777" y2="294.5"/><line x1="55" y1="309.5" x2="61" y2="309.5"/><line x1="780" y1="309.5" x2="774" y2="309.5"/><line x1="55" y1="325.5" x2="58" y2="325.5"/><line x1="780" y1="325.5" x2="777" y2="325.5"/><line x1="55" y1="340.5" x2="61" y2="340.5"/><line x1="780" y1="340.5" x2="774" y2="340.5"/><line x1="55" y1="356.5" x2="58" y2="356.5"/><line x1="780" y1="356.5" x2="777" y2="356.5"/><line x1="55" y1="372.5" x2="61" y2="372.5"/><line x1="780" y1="372.5" x2="774" y2="372.5"/><line x1="55" y1="387.5" x2="58" y2="387.5"/><line x1="780" y1="387.5" x2="777" y2="387.5"/><line x1="55" y1="403.5" x2="61" y2="403.5"/><line x1="780" y1="403.5" x2="774" y2="403.5"/><line x1="55" y1="418.5" x2="58" y2="418.5"/><line x1="780" y1="418.5" x2="777" y2="418.5"/><line x1="55" y1="434.5" x2="61" y2="434.5"/><line x1="780" y1="434.5" x2="774" y2="434.5"/></g>
<rect x="55.5" y="60.5" width="725" height="374" fill="none" stroke="#dcdcdc" stroke-width="1"/>
</svg>
<div class="yl" style="top:55px">-50</div><div class="yl" style="top:87px">-55</div><div class="yl" style="top:118px">-60</div><div class="yl" style="top:149px">-65</div><div class="yl" style="top:180px">-70</div><div class="yl" style="top:211px">-75</div><div class="yl" style="top:242px">-80</div><div class="yl" style="top:274px">-85</div><div class="yl" style="top:305px">-90</div><div class="yl" style="top:336px">-95</div><div class="yl" style="top:367px">-100</div><div class="yl" style="top:398px">-105</div><div class="yl" style="top:429px">-110</div><div class="xl" style="left:33.5px">-300</div><div class="xl" style="left:151.7px">-200</div><div class="xl" style="left:269.8px">-100</div><div class="xl" style="left:388.0px">0</div><div class="xl" style="left:506.2px">100</div><div class="xl" style="left:624.3px">200</div><div class="xl" style="left:742.5px">300</div>
<div id="xt">Frequency (MHz)</div>
<div id="yt">Power (dBm)</div>
<div id="sb"><div class="t" style="left:6.50px;top:6.00px;font-size:12px;line-height:12px;font-weight:400;color:#3a3a3a;">Processing</div><div class="t" style="left:101.50px;top:6.00px;font-size:12px;line-height:12px;font-weight:400;color:#3a3a3a;">ΔT=1.6667 us</div><div class="t" style="left:183.50px;top:6.00px;font-size:12px;line-height:12px;font-weight:400;color:#3a3a3a;">Samples/Update=1024</div><div class="t" style="left:311.90px;top:6.00px;font-size:12px;line-height:12px;font-weight:400;color:#3a3a3a;">VBW=10.6103 kHz</div><div class="t" style="left:419.50px;top:6.00px;font-size:12px;line-height:12px;font-weight:400;color:#3a3a3a;">RBW=600.0000 kHz</div><div class="t" style="left:534.00px;top:6.00px;font-size:12px;line-height:12px;font-weight:400;color:#3a3a3a;">Sample Rate=614.4000 MHz</div><div class="t" style="left:694.75px;top:6.00px;font-size:12px;line-height:12px;font-weight:400;color:#3a3a3a;">Updates=42</div><div class="t" style="left:766.80px;top:6.00px;font-size:12px;line-height:12px;font-weight:400;color:#3a3a3a;">T=7.1333</div></div>
</body></html>
